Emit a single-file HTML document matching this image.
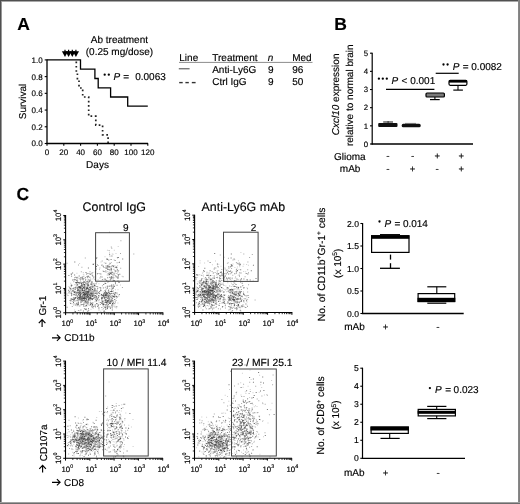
<!DOCTYPE html>
<html><head><meta charset="utf-8"><style>
html,body{margin:0;padding:0;background:#fff;}
svg{display:block;will-change:transform;}
text{font-family:"Liberation Sans",sans-serif;fill:#000;text-rendering:geometricPrecision;stroke:#000;stroke-width:0.15px;}
</style></head><body>
<svg width="520" height="504" viewBox="0 0 520 504">
<rect width="520" height="504" fill="#fff"/>
<text x="17.3" y="30.2" font-size="17.5" text-anchor="start" font-weight="bold">A</text>
<line x1="47" y1="59.4" x2="47" y2="144.1" stroke="#000" stroke-width="1.3" />
<line x1="46.4" y1="143.5" x2="148.10000000000002" y2="143.5" stroke="#000" stroke-width="1.3" />
<line x1="44.7" y1="59.9" x2="47" y2="59.9" stroke="#000" stroke-width="1.1" />
<text x="42.6" y="62.8" font-size="8" text-anchor="end" >1.0</text>
<line x1="44.7" y1="76.62" x2="47" y2="76.62" stroke="#000" stroke-width="1.1" />
<text x="42.6" y="79.52" font-size="8" text-anchor="end" >0.8</text>
<line x1="44.7" y1="93.34" x2="47" y2="93.34" stroke="#000" stroke-width="1.1" />
<text x="42.6" y="96.24" font-size="8" text-anchor="end" >0.6</text>
<line x1="44.7" y1="110.06" x2="47" y2="110.06" stroke="#000" stroke-width="1.1" />
<text x="42.6" y="112.96" font-size="8" text-anchor="end" >0.4</text>
<line x1="44.7" y1="126.78" x2="47" y2="126.78" stroke="#000" stroke-width="1.1" />
<text x="42.6" y="129.68" font-size="8" text-anchor="end" >0.2</text>
<line x1="44.7" y1="143.5" x2="47" y2="143.5" stroke="#000" stroke-width="1.1" />
<text x="42.6" y="146.4" font-size="8" text-anchor="end" >0.0</text>
<line x1="47.0" y1="143.5" x2="47.0" y2="145.7" stroke="#000" stroke-width="1.1" />
<text x="47.0" y="154.9" font-size="8" text-anchor="middle" >0</text>
<line x1="63.8" y1="143.5" x2="63.8" y2="145.7" stroke="#000" stroke-width="1.1" />
<text x="63.8" y="154.9" font-size="8" text-anchor="middle" >20</text>
<line x1="80.6" y1="143.5" x2="80.6" y2="145.7" stroke="#000" stroke-width="1.1" />
<text x="80.6" y="154.9" font-size="8" text-anchor="middle" >40</text>
<line x1="97.4" y1="143.5" x2="97.4" y2="145.7" stroke="#000" stroke-width="1.1" />
<text x="97.4" y="154.9" font-size="8" text-anchor="middle" >60</text>
<line x1="114.2" y1="143.5" x2="114.2" y2="145.7" stroke="#000" stroke-width="1.1" />
<text x="114.2" y="154.9" font-size="8" text-anchor="middle" >80</text>
<line x1="131.0" y1="143.5" x2="131.0" y2="145.7" stroke="#000" stroke-width="1.1" />
<text x="131.0" y="154.9" font-size="8" text-anchor="middle" >100</text>
<line x1="147.8" y1="143.5" x2="147.8" y2="145.7" stroke="#000" stroke-width="1.1" />
<text x="147.8" y="154.9" font-size="8" text-anchor="middle" >120</text>
<text x="97.5" y="167.5" font-size="10" text-anchor="middle" >Days</text>
<text x="0" y="0" font-size="10" text-anchor="middle" transform="translate(25.6,101.5) rotate(-90)">Survival</text>
<path d="M61.9,51.2 L68.1,51.2 L65,56.9 Z" fill="#000"/>
<line x1="65" y1="49.8" x2="65" y2="52" stroke="#000" stroke-width="1.2" />
<path d="M65.5,51.2 L71.69999999999999,51.2 L68.6,56.9 Z" fill="#000"/>
<line x1="68.6" y1="49.8" x2="68.6" y2="52" stroke="#000" stroke-width="1.2" />
<path d="M69.2,51.2 L75.39999999999999,51.2 L72.3,56.9 Z" fill="#000"/>
<line x1="72.3" y1="49.8" x2="72.3" y2="52" stroke="#000" stroke-width="1.2" />
<path d="M72.80000000000001,51.2 L79.0,51.2 L75.9,56.9 Z" fill="#000"/>
<line x1="75.9" y1="49.8" x2="75.9" y2="52" stroke="#000" stroke-width="1.2" />
<text x="119.4" y="43.1" font-size="10" text-anchor="middle" >Ab treatment</text>
<text x="119.4" y="55.0" font-size="10" text-anchor="middle" >(0.25 mg/dose)</text>
<path d="M47,59.9 H80.5 V69.2 H94.9 V78.5 H98.2 V87.8 H110.6 V97 H127.7 V106.2 H147.8" fill="none" stroke="#000" stroke-width="1.3"/>
<path d="M76.3,61.6 V71 H77.4 V79.5 H79 V88 H82.7 V97 H88.7 V116.2 H95.8 V125.2 H102.6 V134.8 H108.1 V143" fill="none" stroke="#222" stroke-width="1.7" stroke-dasharray="1.7 2.6"/>
<circle cx="104.7" cy="74.7" r="1.15" fill="#000"/>
<circle cx="108.8" cy="74.7" r="1.15" fill="#000"/>
<text x="113.6" y="80.2" font-size="10" text-anchor="start" font-style="italic">P</text>
<text x="123.2" y="80.2" font-size="10" text-anchor="start" >=</text>
<text x="135.2" y="80.2" font-size="10" text-anchor="start" >0.0063</text>
<text x="179.3" y="60.5" font-size="10" text-anchor="start" >Line</text>
<text x="212.3" y="60.5" font-size="10" text-anchor="start" >Treatment</text>
<text x="267.8" y="60.5" font-size="10" text-anchor="start" font-style="italic">n</text>
<text x="292.2" y="60.5" font-size="10" text-anchor="start" >Med</text>
<line x1="179" y1="62.4" x2="312.5" y2="62.4" stroke="#8c8c8c" stroke-width="1" />
<line x1="178.8" y1="68.8" x2="189.6" y2="68.8" stroke="#444" stroke-width="1" />
<text x="212.2" y="72.9" font-size="10" text-anchor="start" >Anti-Ly6G</text>
<text x="268.0" y="72.9" font-size="10" text-anchor="start" >9</text>
<text x="292.2" y="72.9" font-size="10" text-anchor="start" >96</text>
<line x1="179.2" y1="82.6" x2="182.7" y2="82.6" stroke="#333" stroke-width="1.4" />
<line x1="185.4" y1="82.6" x2="188.8" y2="82.6" stroke="#333" stroke-width="1.4" />
<line x1="191.8" y1="82.6" x2="195.6" y2="82.6" stroke="#333" stroke-width="1.4" />
<text x="212.2" y="84.8" font-size="10" text-anchor="start" >Ctrl IgG</text>
<text x="268.0" y="84.8" font-size="10" text-anchor="start" >9</text>
<text x="292.2" y="84.8" font-size="10" text-anchor="start" >50</text>
<text x="334.3" y="30.2" font-size="17.5" text-anchor="start" font-weight="bold">B</text>
<line x1="372.2" y1="52.7" x2="372.2" y2="144.6" stroke="#000" stroke-width="1.2" />
<line x1="371.59999999999997" y1="144.0" x2="473" y2="144.0" stroke="#000" stroke-width="1.3" />
<line x1="370.0" y1="53.2" x2="372.2" y2="53.2" stroke="#000" stroke-width="1.1" />
<text x="368.2" y="56.0" font-size="7.8" text-anchor="end" >5</text>
<line x1="370.0" y1="71.36" x2="372.2" y2="71.36" stroke="#000" stroke-width="1.1" />
<text x="368.2" y="74.16" font-size="7.8" text-anchor="end" >4</text>
<line x1="370.0" y1="89.52000000000001" x2="372.2" y2="89.52000000000001" stroke="#000" stroke-width="1.1" />
<text x="368.2" y="92.32" font-size="7.8" text-anchor="end" >3</text>
<line x1="370.0" y1="107.68" x2="372.2" y2="107.68" stroke="#000" stroke-width="1.1" />
<text x="368.2" y="110.48" font-size="7.8" text-anchor="end" >2</text>
<line x1="370.0" y1="125.84" x2="372.2" y2="125.84" stroke="#000" stroke-width="1.1" />
<text x="368.2" y="128.64" font-size="7.8" text-anchor="end" >1</text>
<line x1="370.0" y1="144.0" x2="372.2" y2="144.0" stroke="#000" stroke-width="1.1" />
<text x="368.2" y="146.8" font-size="7.8" text-anchor="end" >0</text>
<text x="0" y="0" font-size="10" text-anchor="middle" transform="translate(339.3,94.4) rotate(-90)"><tspan font-style="italic">Cxcl10</tspan> expression</text>
<text x="0" y="0" font-size="10" text-anchor="middle" transform="translate(352.8,95.2) rotate(-90)">relative to normal brain</text>
<rect x="383.2" y="121" width="9.8" height="2.4" fill="#8a8a8a"/>
<line x1="388.1" y1="121" x2="388.1" y2="123.2" stroke="#333" stroke-width="1" />
<rect x="378.2" y="123.1" width="19.3" height="3.9" rx="1" fill="#111"/>
<line x1="405" y1="123.4" x2="416" y2="123.4" stroke="#777" stroke-width="0.8" />
<rect x="401.7" y="123.8" width="19" height="3.4" rx="1.5" fill="#111"/>
<line x1="434.9" y1="97" x2="434.9" y2="99.6" stroke="#000" stroke-width="1.1" />
<line x1="430" y1="99.6" x2="439.7" y2="99.6" stroke="#000" stroke-width="1.2" />
<rect x="426" y="93" width="18.4" height="4" rx="1" fill="#7a7a7a" stroke="#000" stroke-width="1.2"/>
<line x1="458" y1="85.5" x2="458" y2="90.1" stroke="#000" stroke-width="1.1" />
<line x1="453.3" y1="90.1" x2="462.9" y2="90.1" stroke="#000" stroke-width="1.2" />
<rect x="449" y="80.3" width="17.9" height="5" rx="1.2" fill="#fff" stroke="#000" stroke-width="1.2"/>
<rect x="449" y="80" width="17.9" height="2.6" fill="#000"/>
<line x1="386" y1="89.4" x2="434.4" y2="89.4" stroke="#000" stroke-width="1.2" />
<line x1="435.7" y1="73.3" x2="458.7" y2="73.3" stroke="#000" stroke-width="1.2" />
<circle cx="378.9" cy="78.7" r="1.15" fill="#000"/>
<circle cx="382.8" cy="78.7" r="1.15" fill="#000"/>
<circle cx="386.8" cy="78.7" r="1.15" fill="#000"/>
<text x="391.6" y="84.1" font-size="10" text-anchor="start" font-style="italic">P</text>
<text x="401.6" y="84.1" font-size="10" text-anchor="start" >&lt;</text>
<text x="410.2" y="84.1" font-size="10" text-anchor="start" >0.001</text>
<circle cx="443.5" cy="64.5" r="1.15" fill="#000"/>
<circle cx="447.6" cy="64.5" r="1.15" fill="#000"/>
<text x="452.7" y="69.8" font-size="10" text-anchor="start" font-style="italic">P</text>
<text x="462.7" y="69.8" font-size="10" text-anchor="start" >=</text>
<text x="471.3" y="69.8" font-size="10" text-anchor="start" >0.0082</text>
<text x="334.0" y="159.6" font-size="10" text-anchor="start" >Glioma</text>
<text x="339.8" y="171.6" font-size="10" text-anchor="start" >mAb</text>
<text x="388" y="159.3" font-size="10" text-anchor="middle" >-</text>
<text x="412.6" y="159.3" font-size="10" text-anchor="middle" >-</text>
<text x="437.2" y="159.3" font-size="9.5" text-anchor="middle" >+</text>
<text x="461.2" y="159.3" font-size="9.5" text-anchor="middle" >+</text>
<text x="388" y="171.7" font-size="10" text-anchor="middle" >-</text>
<text x="412.6" y="171.7" font-size="9.5" text-anchor="middle" >+</text>
<text x="437.2" y="171.7" font-size="10" text-anchor="middle" >-</text>
<text x="461.2" y="171.7" font-size="9.5" text-anchor="middle" >+</text>
<text x="16.4" y="200.4" font-size="17.5" text-anchor="start" font-weight="bold">C</text>
<line x1="65.6" y1="215.08" x2="65.6" y2="313.3" stroke="#000" stroke-width="1.1" />
<line x1="65.1" y1="312.8" x2="163.32" y2="312.8" stroke="#000" stroke-width="1.1" />
<line x1="63.3" y1="312.8" x2="65.6" y2="312.8" stroke="#000" stroke-width="1" />
<line x1="65.6" y1="312.8" x2="65.6" y2="315.1" stroke="#000" stroke-width="1" />
<line x1="63.89999999999999" y1="305.47594020549536" x2="65.6" y2="305.47594020549536" stroke="#000" stroke-width="0.8" />
<line x1="72.92405979450466" y1="312.8" x2="72.92405979450466" y2="314.5" stroke="#000" stroke-width="0.8" />
<line x1="63.89999999999999" y1="301.19163987267063" x2="65.6" y2="301.19163987267063" stroke="#000" stroke-width="0.8" />
<line x1="77.20836012732939" y1="312.8" x2="77.20836012732939" y2="314.5" stroke="#000" stroke-width="0.8" />
<line x1="63.89999999999999" y1="298.1518804109907" x2="65.6" y2="298.1518804109907" stroke="#000" stroke-width="0.8" />
<line x1="80.24811958900932" y1="312.8" x2="80.24811958900932" y2="314.5" stroke="#000" stroke-width="0.8" />
<line x1="63.89999999999999" y1="295.7940597945047" x2="65.6" y2="295.7940597945047" stroke="#000" stroke-width="0.8" />
<line x1="82.60594020549533" y1="312.8" x2="82.60594020549533" y2="314.5" stroke="#000" stroke-width="0.8" />
<line x1="63.89999999999999" y1="293.867580078166" x2="65.6" y2="293.867580078166" stroke="#000" stroke-width="0.8" />
<line x1="84.53241992183405" y1="312.8" x2="84.53241992183405" y2="314.5" stroke="#000" stroke-width="0.8" />
<line x1="63.89999999999999" y1="292.2387646864531" x2="65.6" y2="292.2387646864531" stroke="#000" stroke-width="0.8" />
<line x1="86.16123531354685" y1="312.8" x2="86.16123531354685" y2="314.5" stroke="#000" stroke-width="0.8" />
<line x1="63.89999999999999" y1="290.827820616486" x2="65.6" y2="290.827820616486" stroke="#000" stroke-width="0.8" />
<line x1="87.57217938351398" y1="312.8" x2="87.57217938351398" y2="314.5" stroke="#000" stroke-width="0.8" />
<line x1="63.89999999999999" y1="289.58327974534126" x2="65.6" y2="289.58327974534126" stroke="#000" stroke-width="0.8" />
<line x1="88.81672025465876" y1="312.8" x2="88.81672025465876" y2="314.5" stroke="#000" stroke-width="0.8" />
<line x1="63.3" y1="288.47" x2="65.6" y2="288.47" stroke="#000" stroke-width="1" />
<line x1="89.92999999999999" y1="312.8" x2="89.92999999999999" y2="315.1" stroke="#000" stroke-width="1" />
<line x1="63.89999999999999" y1="281.1459402054954" x2="65.6" y2="281.1459402054954" stroke="#000" stroke-width="0.8" />
<line x1="97.25405979450466" y1="312.8" x2="97.25405979450466" y2="314.5" stroke="#000" stroke-width="0.8" />
<line x1="63.89999999999999" y1="276.86163987267065" x2="65.6" y2="276.86163987267065" stroke="#000" stroke-width="0.8" />
<line x1="101.53836012732938" y1="312.8" x2="101.53836012732938" y2="314.5" stroke="#000" stroke-width="0.8" />
<line x1="63.89999999999999" y1="273.82188041099073" x2="65.6" y2="273.82188041099073" stroke="#000" stroke-width="0.8" />
<line x1="104.57811958900932" y1="312.8" x2="104.57811958900932" y2="314.5" stroke="#000" stroke-width="0.8" />
<line x1="63.89999999999999" y1="271.4640597945047" x2="65.6" y2="271.4640597945047" stroke="#000" stroke-width="0.8" />
<line x1="106.93594020549533" y1="312.8" x2="106.93594020549533" y2="314.5" stroke="#000" stroke-width="0.8" />
<line x1="63.89999999999999" y1="269.537580078166" x2="65.6" y2="269.537580078166" stroke="#000" stroke-width="0.8" />
<line x1="108.86241992183403" y1="312.8" x2="108.86241992183403" y2="314.5" stroke="#000" stroke-width="0.8" />
<line x1="63.89999999999999" y1="267.90876468645314" x2="65.6" y2="267.90876468645314" stroke="#000" stroke-width="0.8" />
<line x1="110.49123531354687" y1="312.8" x2="110.49123531354687" y2="314.5" stroke="#000" stroke-width="0.8" />
<line x1="63.89999999999999" y1="266.497820616486" x2="65.6" y2="266.497820616486" stroke="#000" stroke-width="0.8" />
<line x1="111.90217938351398" y1="312.8" x2="111.90217938351398" y2="314.5" stroke="#000" stroke-width="0.8" />
<line x1="63.89999999999999" y1="265.2532797453413" x2="65.6" y2="265.2532797453413" stroke="#000" stroke-width="0.8" />
<line x1="113.14672025465876" y1="312.8" x2="113.14672025465876" y2="314.5" stroke="#000" stroke-width="0.8" />
<line x1="63.3" y1="264.14" x2="65.6" y2="264.14" stroke="#000" stroke-width="1" />
<line x1="114.25999999999999" y1="312.8" x2="114.25999999999999" y2="315.1" stroke="#000" stroke-width="1" />
<line x1="63.89999999999999" y1="256.81594020549534" x2="65.6" y2="256.81594020549534" stroke="#000" stroke-width="0.8" />
<line x1="121.58405979450465" y1="312.8" x2="121.58405979450465" y2="314.5" stroke="#000" stroke-width="0.8" />
<line x1="63.89999999999999" y1="252.5316398726706" x2="65.6" y2="252.5316398726706" stroke="#000" stroke-width="0.8" />
<line x1="125.86836012732938" y1="312.8" x2="125.86836012732938" y2="314.5" stroke="#000" stroke-width="0.8" />
<line x1="63.89999999999999" y1="249.49188041099066" x2="65.6" y2="249.49188041099066" stroke="#000" stroke-width="0.8" />
<line x1="128.90811958900932" y1="312.8" x2="128.90811958900932" y2="314.5" stroke="#000" stroke-width="0.8" />
<line x1="63.89999999999999" y1="247.13405979450465" x2="65.6" y2="247.13405979450465" stroke="#000" stroke-width="0.8" />
<line x1="131.26594020549533" y1="312.8" x2="131.26594020549533" y2="314.5" stroke="#000" stroke-width="0.8" />
<line x1="63.89999999999999" y1="245.20758007816593" x2="65.6" y2="245.20758007816593" stroke="#000" stroke-width="0.8" />
<line x1="133.19241992183404" y1="312.8" x2="133.19241992183404" y2="314.5" stroke="#000" stroke-width="0.8" />
<line x1="63.89999999999999" y1="243.57876468645313" x2="65.6" y2="243.57876468645313" stroke="#000" stroke-width="0.8" />
<line x1="134.82123531354685" y1="312.8" x2="134.82123531354685" y2="314.5" stroke="#000" stroke-width="0.8" />
<line x1="63.89999999999999" y1="242.167820616486" x2="65.6" y2="242.167820616486" stroke="#000" stroke-width="0.8" />
<line x1="136.23217938351397" y1="312.8" x2="136.23217938351397" y2="314.5" stroke="#000" stroke-width="0.8" />
<line x1="63.89999999999999" y1="240.9232797453412" x2="65.6" y2="240.9232797453412" stroke="#000" stroke-width="0.8" />
<line x1="137.47672025465877" y1="312.8" x2="137.47672025465877" y2="314.5" stroke="#000" stroke-width="0.8" />
<line x1="63.3" y1="239.81" x2="65.6" y2="239.81" stroke="#000" stroke-width="1" />
<line x1="138.58999999999997" y1="312.8" x2="138.58999999999997" y2="315.1" stroke="#000" stroke-width="1" />
<line x1="63.89999999999999" y1="232.48594020549535" x2="65.6" y2="232.48594020549535" stroke="#000" stroke-width="0.8" />
<line x1="145.91405979450462" y1="312.8" x2="145.91405979450462" y2="314.5" stroke="#000" stroke-width="0.8" />
<line x1="63.89999999999999" y1="228.20163987267063" x2="65.6" y2="228.20163987267063" stroke="#000" stroke-width="0.8" />
<line x1="150.19836012732935" y1="312.8" x2="150.19836012732935" y2="314.5" stroke="#000" stroke-width="0.8" />
<line x1="63.89999999999999" y1="225.16188041099068" x2="65.6" y2="225.16188041099068" stroke="#000" stroke-width="0.8" />
<line x1="153.2381195890093" y1="312.8" x2="153.2381195890093" y2="314.5" stroke="#000" stroke-width="0.8" />
<line x1="63.89999999999999" y1="222.80405979450467" x2="65.6" y2="222.80405979450467" stroke="#000" stroke-width="0.8" />
<line x1="155.5959402054953" y1="312.8" x2="155.5959402054953" y2="314.5" stroke="#000" stroke-width="0.8" />
<line x1="63.89999999999999" y1="220.87758007816595" x2="65.6" y2="220.87758007816595" stroke="#000" stroke-width="0.8" />
<line x1="157.52241992183403" y1="312.8" x2="157.52241992183403" y2="314.5" stroke="#000" stroke-width="0.8" />
<line x1="63.89999999999999" y1="219.24876468645314" x2="65.6" y2="219.24876468645314" stroke="#000" stroke-width="0.8" />
<line x1="159.15123531354683" y1="312.8" x2="159.15123531354683" y2="314.5" stroke="#000" stroke-width="0.8" />
<line x1="63.89999999999999" y1="217.83782061648603" x2="65.6" y2="217.83782061648603" stroke="#000" stroke-width="0.8" />
<line x1="160.56217938351395" y1="312.8" x2="160.56217938351395" y2="314.5" stroke="#000" stroke-width="0.8" />
<line x1="63.89999999999999" y1="216.59327974534122" x2="65.6" y2="216.59327974534122" stroke="#000" stroke-width="0.8" />
<line x1="161.80672025465876" y1="312.8" x2="161.80672025465876" y2="314.5" stroke="#000" stroke-width="0.8" />
<line x1="63.3" y1="215.48000000000002" x2="65.6" y2="215.48000000000002" stroke="#000" stroke-width="1" />
<line x1="162.92" y1="312.8" x2="162.92" y2="315.1" stroke="#000" stroke-width="1" />
<text x="0" y="0" font-size="7.8" text-anchor="middle" transform="translate(60.8,312.8) rotate(-90)">10<tspan font-size="5.3" dy="-3.4">0</tspan></text>
<text x="67.40" y="326.2" font-size="7.8" text-anchor="middle">10<tspan font-size="5.3" dy="-3.4">0</tspan></text>
<text x="0" y="0" font-size="7.8" text-anchor="middle" transform="translate(60.8,288.47) rotate(-90)">10<tspan font-size="5.3" dy="-3.4">1</tspan></text>
<text x="91.40" y="326.2" font-size="7.8" text-anchor="middle">10<tspan font-size="5.3" dy="-3.4">1</tspan></text>
<text x="0" y="0" font-size="7.8" text-anchor="middle" transform="translate(60.8,264.14) rotate(-90)">10<tspan font-size="5.3" dy="-3.4">2</tspan></text>
<text x="115.40" y="326.2" font-size="7.8" text-anchor="middle">10<tspan font-size="5.3" dy="-3.4">2</tspan></text>
<text x="0" y="0" font-size="7.8" text-anchor="middle" transform="translate(60.8,239.81) rotate(-90)">10<tspan font-size="5.3" dy="-3.4">3</tspan></text>
<text x="139.40" y="326.2" font-size="7.8" text-anchor="middle">10<tspan font-size="5.3" dy="-3.4">3</tspan></text>
<text x="0" y="0" font-size="7.8" text-anchor="middle" transform="translate(60.8,215.48000000000002) rotate(-90)">10<tspan font-size="5.3" dy="-3.4">4</tspan></text>
<text x="163.40" y="326.2" font-size="7.8" text-anchor="middle">10<tspan font-size="5.3" dy="-3.4">4</tspan></text>
<path d="M77.5 290.9h1v1h-1zM86.8 293.9h1v1h-1zM69.9 290.1h1v1h-1zM88.7 299.6h1v1h-1zM84.8 282.8h1v1h-1zM88.3 287.9h1v1h-1zM76.2 299.8h1v1h-1zM91.7 293.7h1v1h-1zM95.2 297.1h1v1h-1zM87.6 296.6h1v1h-1zM90.7 296.5h1v1h-1zM89.9 278.9h1v1h-1zM92.8 283.0h1v1h-1zM83.9 299.4h1v1h-1zM86.0 288.6h1v1h-1zM81.6 297.2h1v1h-1zM85.2 301.5h1v1h-1zM76.8 281.5h1v1h-1zM92.9 298.1h1v1h-1zM94.3 285.5h1v1h-1zM90.9 291.2h1v1h-1zM83.3 288.0h1v1h-1zM94.5 284.8h1v1h-1zM94.2 291.1h1v1h-1zM78.8 300.1h1v1h-1zM67.9 289.6h1v1h-1zM83.9 298.7h1v1h-1zM70.9 284.4h1v1h-1zM75.4 292.4h1v1h-1zM87.7 300.0h1v1h-1zM77.7 286.7h1v1h-1zM68.4 285.9h1v1h-1zM87.2 276.9h1v1h-1zM81.9 289.0h1v1h-1zM97.6 279.3h1v1h-1zM77.5 297.7h1v1h-1zM83.8 291.0h1v1h-1zM95.8 295.7h1v1h-1zM70.4 300.2h1v1h-1zM86.3 287.2h1v1h-1zM86.0 293.9h1v1h-1zM98.8 300.3h1v1h-1zM78.9 291.6h1v1h-1zM81.7 298.4h1v1h-1zM84.0 293.8h1v1h-1zM83.1 283.1h1v1h-1zM86.9 300.4h1v1h-1zM76.4 272.8h1v1h-1zM94.4 297.8h1v1h-1zM90.9 292.5h1v1h-1zM89.5 292.7h1v1h-1zM85.4 292.9h1v1h-1zM80.9 277.4h1v1h-1zM88.0 292.1h1v1h-1zM96.8 296.4h1v1h-1zM91.7 285.9h1v1h-1zM88.4 297.8h1v1h-1zM94.5 301.2h1v1h-1zM83.4 287.5h1v1h-1zM82.8 272.1h1v1h-1zM82.2 290.1h1v1h-1zM83.7 286.1h1v1h-1zM89.1 294.7h1v1h-1zM81.4 286.9h1v1h-1zM87.7 289.4h1v1h-1zM89.4 299.6h1v1h-1zM87.6 291.3h1v1h-1zM87.6 284.4h1v1h-1zM92.3 284.9h1v1h-1zM82.4 292.6h1v1h-1zM92.1 292.7h1v1h-1zM88.1 297.8h1v1h-1zM78.6 305.6h1v1h-1zM93.9 287.2h1v1h-1zM79.1 297.9h1v1h-1zM94.7 301.0h1v1h-1zM73.5 280.3h1v1h-1zM83.6 290.2h1v1h-1zM84.2 281.7h1v1h-1zM77.7 293.7h1v1h-1zM89.4 291.6h1v1h-1zM80.7 287.2h1v1h-1zM103.6 278.5h1v1h-1zM74.1 292.3h1v1h-1zM77.9 297.3h1v1h-1zM71.6 303.3h1v1h-1zM90.3 279.4h1v1h-1zM89.2 291.5h1v1h-1zM87.1 295.2h1v1h-1zM76.9 283.7h1v1h-1zM80.2 296.0h1v1h-1zM84.5 298.1h1v1h-1zM73.5 292.6h1v1h-1zM76.1 277.7h1v1h-1zM87.3 280.7h1v1h-1zM89.9 291.3h1v1h-1zM79.2 310.2h1v1h-1zM85.2 300.2h1v1h-1zM89.7 289.7h1v1h-1zM90.5 308.7h1v1h-1zM84.0 290.6h1v1h-1zM80.5 286.2h1v1h-1zM82.8 299.4h1v1h-1zM87.5 291.4h1v1h-1zM88.7 291.4h1v1h-1zM75.9 303.4h1v1h-1zM73.0 304.6h1v1h-1zM86.3 299.2h1v1h-1zM86.5 293.1h1v1h-1zM83.7 276.5h1v1h-1zM92.6 287.2h1v1h-1zM84.8 301.0h1v1h-1zM100.7 287.5h1v1h-1zM76.6 296.2h1v1h-1zM87.7 280.9h1v1h-1zM79.1 288.3h1v1h-1zM81.2 298.9h1v1h-1zM84.6 289.5h1v1h-1zM87.8 304.4h1v1h-1zM92.7 294.5h1v1h-1zM76.4 284.8h1v1h-1zM83.8 278.0h1v1h-1zM87.2 287.2h1v1h-1zM77.8 289.5h1v1h-1zM83.7 287.5h1v1h-1zM78.5 289.4h1v1h-1zM92.4 278.5h1v1h-1zM89.1 286.4h1v1h-1zM83.2 305.5h1v1h-1zM76.0 286.6h1v1h-1zM87.0 296.4h1v1h-1zM90.2 293.0h1v1h-1zM86.5 283.4h1v1h-1zM89.6 302.4h1v1h-1zM79.2 295.8h1v1h-1zM80.5 301.5h1v1h-1zM99.5 273.4h1v1h-1zM71.9 301.1h1v1h-1zM80.0 293.6h1v1h-1zM74.3 279.8h1v1h-1zM78.3 298.9h1v1h-1zM90.2 274.1h1v1h-1zM90.2 289.2h1v1h-1zM85.9 288.5h1v1h-1zM85.1 287.3h1v1h-1zM92.7 295.0h1v1h-1zM84.1 290.4h1v1h-1zM85.8 289.3h1v1h-1zM75.9 297.3h1v1h-1zM93.6 294.0h1v1h-1zM79.7 293.7h1v1h-1zM80.7 293.1h1v1h-1zM90.3 296.9h1v1h-1zM82.0 292.4h1v1h-1zM81.7 292.3h1v1h-1zM77.2 292.3h1v1h-1zM87.6 290.2h1v1h-1zM88.5 288.9h1v1h-1zM85.6 288.7h1v1h-1zM85.4 298.2h1v1h-1zM77.6 278.1h1v1h-1zM79.7 287.1h1v1h-1zM90.2 285.7h1v1h-1zM85.6 286.9h1v1h-1zM93.2 291.9h1v1h-1zM76.4 302.3h1v1h-1zM86.3 287.3h1v1h-1zM87.9 293.4h1v1h-1zM83.2 291.2h1v1h-1zM78.3 286.5h1v1h-1zM84.2 296.8h1v1h-1zM92.4 283.0h1v1h-1zM94.0 293.3h1v1h-1zM84.1 308.7h1v1h-1zM79.7 295.6h1v1h-1zM95.4 297.2h1v1h-1zM92.8 293.2h1v1h-1zM87.6 291.0h1v1h-1zM87.0 302.3h1v1h-1zM86.3 280.9h1v1h-1zM83.6 284.3h1v1h-1zM84.5 296.0h1v1h-1zM79.4 278.9h1v1h-1zM83.0 303.2h1v1h-1zM83.4 274.5h1v1h-1zM83.8 285.8h1v1h-1zM88.6 287.9h1v1h-1zM70.9 295.2h1v1h-1zM79.5 278.5h1v1h-1zM73.6 297.1h1v1h-1zM78.6 289.7h1v1h-1zM86.3 302.7h1v1h-1zM81.8 295.9h1v1h-1zM80.3 280.9h1v1h-1zM92.6 296.5h1v1h-1zM75.6 303.0h1v1h-1zM90.2 278.2h1v1h-1zM98.4 283.3h1v1h-1zM80.1 288.0h1v1h-1zM80.9 299.6h1v1h-1zM89.3 293.3h1v1h-1zM92.1 290.5h1v1h-1zM89.8 284.1h1v1h-1zM91.1 294.0h1v1h-1zM86.0 290.0h1v1h-1zM85.8 288.4h1v1h-1zM88.7 292.5h1v1h-1zM71.5 293.2h1v1h-1zM87.3 300.5h1v1h-1zM76.4 304.1h1v1h-1zM81.4 284.1h1v1h-1zM80.0 280.0h1v1h-1zM86.3 290.5h1v1h-1zM85.2 291.4h1v1h-1zM84.8 300.8h1v1h-1zM72.5 290.0h1v1h-1zM84.2 281.7h1v1h-1zM80.4 297.9h1v1h-1zM85.4 282.7h1v1h-1zM89.5 298.4h1v1h-1zM86.1 298.4h1v1h-1zM80.1 278.7h1v1h-1zM86.3 296.1h1v1h-1zM84.1 299.2h1v1h-1zM98.4 304.0h1v1h-1zM89.5 296.9h1v1h-1zM83.2 284.5h1v1h-1zM74.0 300.4h1v1h-1zM90.0 300.4h1v1h-1zM74.5 299.4h1v1h-1zM73.6 286.9h1v1h-1zM85.6 281.0h1v1h-1zM86.2 280.9h1v1h-1zM88.2 302.5h1v1h-1zM91.9 289.2h1v1h-1zM69.6 302.2h1v1h-1zM86.4 305.7h1v1h-1zM80.2 295.8h1v1h-1zM87.6 282.6h1v1h-1zM75.2 294.4h1v1h-1zM78.0 301.0h1v1h-1zM87.3 286.4h1v1h-1zM83.0 298.0h1v1h-1zM101.2 293.8h1v1h-1zM81.0 287.8h1v1h-1zM87.2 278.6h1v1h-1zM78.8 290.5h1v1h-1zM84.4 296.6h1v1h-1zM77.2 280.1h1v1h-1zM77.5 284.4h1v1h-1zM93.4 294.3h1v1h-1zM82.1 282.2h1v1h-1zM72.1 290.4h1v1h-1zM76.1 297.0h1v1h-1zM81.2 302.0h1v1h-1zM75.9 282.7h1v1h-1zM94.9 295.5h1v1h-1zM88.5 292.7h1v1h-1zM77.3 281.4h1v1h-1zM82.0 287.8h1v1h-1zM84.3 289.0h1v1h-1zM84.8 294.4h1v1h-1zM87.4 293.4h1v1h-1zM87.4 283.4h1v1h-1zM70.2 282.8h1v1h-1zM91.9 291.5h1v1h-1zM81.2 294.3h1v1h-1zM81.0 288.4h1v1h-1zM84.7 293.6h1v1h-1zM79.1 263.0h1v1h-1zM77.3 304.0h1v1h-1zM68.7 292.8h1v1h-1zM93.3 263.0h1v1h-1zM81.3 290.2h1v1h-1zM89.6 305.0h1v1h-1zM71.0 274.8h1v1h-1zM94.0 276.4h1v1h-1zM73.1 294.3h1v1h-1zM96.2 296.5h1v1h-1zM85.5 279.2h1v1h-1zM81.8 285.7h1v1h-1zM116.8 293.7h1v1h-1zM101.7 279.2h1v1h-1zM83.9 289.3h1v1h-1zM83.4 301.5h1v1h-1zM77.8 288.3h1v1h-1zM85.8 282.8h1v1h-1zM83.2 284.3h1v1h-1zM99.4 267.3h1v1h-1zM92.5 271.9h1v1h-1zM74.4 289.2h1v1h-1zM79.8 281.2h1v1h-1zM84.7 290.0h1v1h-1zM88.9 293.9h1v1h-1zM74.1 309.6h1v1h-1zM109.0 285.7h1v1h-1zM86.0 285.7h1v1h-1zM90.6 281.6h1v1h-1zM85.2 290.2h1v1h-1zM82.8 273.8h1v1h-1zM90.0 279.2h1v1h-1zM79.6 291.3h1v1h-1zM73.8 297.7h1v1h-1zM96.3 282.0h1v1h-1zM102.1 294.3h1v1h-1zM110.0 298.9h1v1h-1zM101.6 298.3h1v1h-1zM98.1 307.4h1v1h-1zM108.3 292.2h1v1h-1zM94.5 305.2h1v1h-1zM107.5 304.8h1v1h-1zM105.6 297.5h1v1h-1zM110.2 298.5h1v1h-1zM105.0 294.0h1v1h-1zM104.7 297.2h1v1h-1zM106.1 304.4h1v1h-1zM103.2 293.2h1v1h-1zM106.1 302.5h1v1h-1zM112.2 298.5h1v1h-1zM102.1 295.4h1v1h-1zM108.5 300.0h1v1h-1zM99.9 301.9h1v1h-1zM103.0 305.8h1v1h-1zM109.2 288.0h1v1h-1zM109.7 296.3h1v1h-1zM107.8 297.6h1v1h-1zM94.7 298.2h1v1h-1zM109.6 285.1h1v1h-1zM102.2 300.1h1v1h-1zM102.1 298.0h1v1h-1zM109.1 298.1h1v1h-1zM103.3 304.8h1v1h-1zM100.3 310.7h1v1h-1zM111.4 301.7h1v1h-1zM101.0 301.3h1v1h-1zM98.5 295.7h1v1h-1zM105.1 297.8h1v1h-1zM113.5 291.9h1v1h-1zM111.5 293.6h1v1h-1zM109.8 302.5h1v1h-1zM102.8 291.6h1v1h-1zM111.8 298.1h1v1h-1zM90.7 293.6h1v1h-1zM102.9 295.0h1v1h-1zM110.0 300.3h1v1h-1zM100.6 290.3h1v1h-1zM102.8 300.0h1v1h-1zM117.4 302.6h1v1h-1zM101.0 301.3h1v1h-1zM97.4 288.1h1v1h-1zM95.3 298.4h1v1h-1zM107.7 304.5h1v1h-1zM106.8 293.5h1v1h-1zM111.6 297.0h1v1h-1zM114.2 306.5h1v1h-1zM109.0 303.0h1v1h-1zM98.6 302.3h1v1h-1zM102.7 306.3h1v1h-1zM105.0 301.6h1v1h-1zM106.4 309.1h1v1h-1zM103.7 303.9h1v1h-1zM113.1 305.4h1v1h-1zM106.5 304.5h1v1h-1zM114.9 289.3h1v1h-1zM114.9 299.8h1v1h-1zM105.1 292.8h1v1h-1zM110.2 293.0h1v1h-1zM115.8 307.5h1v1h-1zM109.2 301.7h1v1h-1zM111.7 299.4h1v1h-1zM107.4 298.2h1v1h-1zM114.3 305.4h1v1h-1zM107.5 295.2h1v1h-1zM107.4 285.8h1v1h-1zM112.5 295.7h1v1h-1zM114.5 296.2h1v1h-1zM107.8 302.8h1v1h-1zM102.1 297.3h1v1h-1zM104.3 310.9h1v1h-1zM111.1 306.4h1v1h-1zM110.6 301.5h1v1h-1zM111.3 300.0h1v1h-1zM110.0 307.6h1v1h-1zM108.2 298.4h1v1h-1zM112.0 302.8h1v1h-1zM104.5 299.7h1v1h-1zM116.0 299.9h1v1h-1zM111.8 307.9h1v1h-1zM111.5 288.6h1v1h-1zM117.5 289.2h1v1h-1zM109.8 302.6h1v1h-1zM105.7 296.7h1v1h-1zM106.4 294.4h1v1h-1zM95.1 304.0h1v1h-1zM108.7 299.0h1v1h-1zM106.0 307.4h1v1h-1zM102.3 297.4h1v1h-1zM104.7 303.9h1v1h-1zM110.0 295.8h1v1h-1zM106.0 304.7h1v1h-1zM105.0 304.5h1v1h-1zM105.0 293.6h1v1h-1zM101.7 309.3h1v1h-1zM110.7 298.7h1v1h-1zM105.1 291.6h1v1h-1zM102.2 302.0h1v1h-1zM102.9 295.4h1v1h-1zM112.4 292.8h1v1h-1zM115.1 306.4h1v1h-1zM102.2 265.5h1v1h-1zM107.9 273.3h1v1h-1zM111.0 268.0h1v1h-1zM109.0 264.1h1v1h-1zM114.3 277.3h1v1h-1zM109.4 254.7h1v1h-1zM120.0 284.6h1v1h-1zM112.6 279.1h1v1h-1zM114.3 265.1h1v1h-1zM111.4 272.7h1v1h-1zM108.3 273.4h1v1h-1zM99.3 267.8h1v1h-1zM111.0 269.9h1v1h-1zM114.7 284.2h1v1h-1zM108.1 264.6h1v1h-1zM107.3 271.1h1v1h-1zM113.6 266.9h1v1h-1zM114.9 275.7h1v1h-1zM109.1 270.0h1v1h-1zM113.0 277.9h1v1h-1zM106.6 274.4h1v1h-1zM109.6 279.1h1v1h-1zM110.0 280.1h1v1h-1zM111.9 271.9h1v1h-1zM117.1 265.2h1v1h-1zM107.6 274.8h1v1h-1zM113.6 259.3h1v1h-1zM118.2 270.1h1v1h-1zM110.1 263.3h1v1h-1zM103.2 287.3h1v1h-1zM108.8 273.9h1v1h-1zM121.6 275.7h1v1h-1zM104.8 271.8h1v1h-1zM109.0 276.5h1v1h-1zM100.5 274.3h1v1h-1zM114.1 269.4h1v1h-1zM108.7 269.3h1v1h-1zM113.1 280.1h1v1h-1zM116.1 266.4h1v1h-1zM113.9 270.4h1v1h-1zM108.3 265.3h1v1h-1zM115.8 275.7h1v1h-1zM109.6 271.5h1v1h-1zM103.8 262.2h1v1h-1zM112.2 275.2h1v1h-1zM106.5 266.6h1v1h-1zM110.3 266.2h1v1h-1zM111.3 266.0h1v1h-1zM112.6 253.7h1v1h-1zM106.2 271.7h1v1h-1zM110.6 268.6h1v1h-1zM112.5 275.6h1v1h-1zM109.5 256.0h1v1h-1zM111.2 273.1h1v1h-1zM111.2 266.8h1v1h-1zM116.9 272.7h1v1h-1zM107.2 265.7h1v1h-1zM117.8 277.7h1v1h-1zM111.0 261.9h1v1h-1zM112.0 280.6h1v1h-1zM116.6 284.7h1v1h-1zM113.5 268.5h1v1h-1zM99.0 269.1h1v1h-1zM100.5 261.6h1v1h-1zM104.4 278.6h1v1h-1zM112.8 269.0h1v1h-1zM115.5 253.1h1v1h-1zM113.8 249.7h1v1h-1zM106.9 249.8h1v1h-1zM109.0 251.8h1v1h-1zM106.2 266.9h1v1h-1zM117.7 245.9h1v1h-1zM116.0 273.0h1v1h-1zM111.8 253.4h1v1h-1zM104.5 256.3h1v1h-1z" fill="#000" fill-opacity="0.2"/>
<path d="M82.2 296.3h1v1h-1zM82.4 290.1h1v1h-1zM91.8 295.7h1v1h-1zM87.5 296.2h1v1h-1zM77.8 289.0h1v1h-1zM87.6 287.7h1v1h-1zM79.4 305.4h1v1h-1zM81.6 291.7h1v1h-1zM88.4 294.4h1v1h-1zM80.9 285.3h1v1h-1zM80.4 301.7h1v1h-1zM87.0 281.3h1v1h-1zM84.3 302.3h1v1h-1zM83.3 286.4h1v1h-1zM87.5 292.0h1v1h-1zM73.7 298.7h1v1h-1zM93.0 277.3h1v1h-1zM86.5 287.0h1v1h-1zM82.7 300.1h1v1h-1zM86.3 297.4h1v1h-1zM91.3 292.7h1v1h-1zM74.3 291.5h1v1h-1zM83.0 290.3h1v1h-1zM78.5 297.2h1v1h-1zM85.1 296.8h1v1h-1zM88.0 292.5h1v1h-1zM81.0 289.7h1v1h-1zM76.1 294.3h1v1h-1zM86.8 294.3h1v1h-1zM101.0 295.2h1v1h-1zM82.4 292.0h1v1h-1zM72.1 289.8h1v1h-1zM89.6 293.6h1v1h-1zM83.4 304.0h1v1h-1zM91.3 290.3h1v1h-1zM90.4 290.5h1v1h-1zM73.3 281.2h1v1h-1zM89.4 304.4h1v1h-1zM86.8 295.6h1v1h-1zM94.0 290.5h1v1h-1zM84.6 302.4h1v1h-1zM83.6 300.3h1v1h-1zM94.4 304.6h1v1h-1zM79.3 299.1h1v1h-1zM70.3 300.5h1v1h-1zM79.9 294.3h1v1h-1zM96.5 292.8h1v1h-1zM82.6 283.1h1v1h-1zM80.1 300.6h1v1h-1zM85.2 283.7h1v1h-1zM73.1 287.7h1v1h-1zM73.3 291.6h1v1h-1zM75.7 295.2h1v1h-1zM67.5 295.0h1v1h-1zM79.5 277.9h1v1h-1zM86.0 289.1h1v1h-1zM88.7 294.9h1v1h-1zM97.2 291.6h1v1h-1zM87.9 299.3h1v1h-1zM90.2 293.3h1v1h-1zM102.7 301.0h1v1h-1zM88.5 273.1h1v1h-1zM88.4 296.1h1v1h-1zM74.2 287.5h1v1h-1zM75.6 282.4h1v1h-1zM77.9 294.5h1v1h-1zM68.9 286.9h1v1h-1zM83.6 296.4h1v1h-1zM87.2 295.3h1v1h-1zM88.5 294.1h1v1h-1zM83.2 293.7h1v1h-1zM87.0 291.1h1v1h-1zM87.1 285.3h1v1h-1zM77.5 298.0h1v1h-1zM81.3 282.2h1v1h-1zM78.7 296.4h1v1h-1zM87.5 293.8h1v1h-1zM95.6 299.8h1v1h-1zM91.2 284.4h1v1h-1zM83.0 298.0h1v1h-1zM92.7 290.9h1v1h-1zM81.6 299.1h1v1h-1zM75.8 293.9h1v1h-1zM84.0 281.5h1v1h-1zM82.4 281.9h1v1h-1zM82.7 278.9h1v1h-1zM89.5 299.5h1v1h-1zM70.7 292.1h1v1h-1zM71.2 284.5h1v1h-1zM79.6 282.0h1v1h-1zM83.4 292.5h1v1h-1zM87.4 280.6h1v1h-1zM82.6 290.2h1v1h-1zM83.6 286.8h1v1h-1zM88.9 295.2h1v1h-1zM77.1 292.8h1v1h-1zM73.5 294.0h1v1h-1zM85.0 282.2h1v1h-1zM76.2 291.6h1v1h-1zM91.7 293.4h1v1h-1zM78.7 294.4h1v1h-1zM88.2 310.0h1v1h-1zM86.3 302.1h1v1h-1zM78.3 294.4h1v1h-1zM85.9 289.3h1v1h-1zM79.3 298.6h1v1h-1zM83.7 294.8h1v1h-1zM71.8 305.9h1v1h-1zM92.2 289.1h1v1h-1zM83.5 294.8h1v1h-1zM87.3 290.8h1v1h-1zM86.1 296.4h1v1h-1zM79.1 292.6h1v1h-1zM80.3 293.8h1v1h-1zM85.1 295.6h1v1h-1zM82.3 295.2h1v1h-1zM70.8 285.9h1v1h-1zM76.7 297.2h1v1h-1zM89.2 294.8h1v1h-1zM87.2 288.5h1v1h-1zM83.3 298.1h1v1h-1zM97.0 288.3h1v1h-1zM85.0 291.4h1v1h-1zM90.3 287.3h1v1h-1zM83.9 292.4h1v1h-1zM76.8 282.3h1v1h-1zM75.5 295.0h1v1h-1zM85.7 309.3h1v1h-1zM86.0 294.4h1v1h-1zM74.9 291.0h1v1h-1zM83.2 291.9h1v1h-1zM83.5 294.0h1v1h-1zM84.3 294.5h1v1h-1zM82.1 288.0h1v1h-1zM79.3 292.3h1v1h-1zM86.2 287.6h1v1h-1zM86.1 305.0h1v1h-1zM85.4 294.4h1v1h-1zM90.5 295.3h1v1h-1zM81.4 266.7h1v1h-1zM79.6 297.3h1v1h-1zM91.6 295.1h1v1h-1zM88.7 289.7h1v1h-1zM95.7 292.8h1v1h-1zM89.3 280.9h1v1h-1zM84.0 295.2h1v1h-1zM99.5 277.6h1v1h-1zM90.8 297.5h1v1h-1zM84.7 300.3h1v1h-1zM84.1 298.1h1v1h-1zM92.3 305.3h1v1h-1zM78.9 292.2h1v1h-1zM89.7 294.1h1v1h-1zM87.3 295.8h1v1h-1zM93.1 290.8h1v1h-1zM85.4 299.5h1v1h-1zM83.7 302.6h1v1h-1zM81.3 288.4h1v1h-1zM82.2 297.2h1v1h-1zM77.9 309.9h1v1h-1zM81.0 296.3h1v1h-1zM83.3 287.5h1v1h-1zM72.5 298.9h1v1h-1zM92.8 293.4h1v1h-1zM85.2 296.2h1v1h-1zM101.9 285.3h1v1h-1zM81.7 292.8h1v1h-1zM92.0 286.6h1v1h-1zM72.8 300.7h1v1h-1zM86.1 288.3h1v1h-1zM85.4 299.9h1v1h-1zM76.8 287.0h1v1h-1zM79.8 287.9h1v1h-1zM76.9 295.1h1v1h-1zM89.1 298.2h1v1h-1zM82.7 279.6h1v1h-1zM87.6 291.3h1v1h-1zM98.5 273.0h1v1h-1zM82.6 278.8h1v1h-1zM66.5 293.5h1v1h-1zM87.9 275.7h1v1h-1zM84.2 288.1h1v1h-1zM68.3 292.3h1v1h-1zM92.7 307.4h1v1h-1zM101.4 306.9h1v1h-1zM79.2 287.0h1v1h-1zM71.1 275.9h1v1h-1zM78.4 287.2h1v1h-1zM87.4 296.5h1v1h-1zM90.6 292.6h1v1h-1zM94.9 305.7h1v1h-1zM79.5 295.9h1v1h-1zM79.4 286.1h1v1h-1zM94.5 287.8h1v1h-1zM92.3 295.0h1v1h-1zM74.0 292.0h1v1h-1zM85.7 288.2h1v1h-1zM97.5 293.1h1v1h-1zM83.8 284.1h1v1h-1zM76.9 289.8h1v1h-1zM86.0 283.6h1v1h-1zM88.8 291.4h1v1h-1zM84.9 291.6h1v1h-1zM97.6 300.2h1v1h-1zM96.9 298.6h1v1h-1zM87.7 295.7h1v1h-1zM85.4 293.8h1v1h-1zM86.6 294.5h1v1h-1zM92.1 292.7h1v1h-1zM91.7 299.3h1v1h-1zM94.8 298.9h1v1h-1zM79.4 287.4h1v1h-1zM85.5 298.1h1v1h-1zM90.7 287.4h1v1h-1zM73.5 303.2h1v1h-1zM87.9 288.8h1v1h-1zM81.9 296.8h1v1h-1zM96.4 291.1h1v1h-1zM87.3 302.6h1v1h-1zM82.6 293.8h1v1h-1zM79.6 295.1h1v1h-1zM81.5 277.3h1v1h-1zM80.2 302.2h1v1h-1zM80.4 288.4h1v1h-1zM76.7 277.1h1v1h-1zM85.2 285.2h1v1h-1zM90.5 303.6h1v1h-1zM73.2 289.5h1v1h-1zM86.6 303.5h1v1h-1zM74.7 300.5h1v1h-1zM82.9 300.0h1v1h-1zM92.3 301.9h1v1h-1zM78.3 293.7h1v1h-1zM87.3 287.7h1v1h-1zM81.4 300.6h1v1h-1zM80.4 286.5h1v1h-1zM94.2 285.2h1v1h-1zM92.4 303.4h1v1h-1zM83.2 291.5h1v1h-1zM81.7 296.0h1v1h-1zM74.5 284.3h1v1h-1zM76.7 278.7h1v1h-1zM87.5 303.4h1v1h-1zM72.7 290.1h1v1h-1zM81.6 292.6h1v1h-1zM80.2 293.4h1v1h-1zM75.8 293.0h1v1h-1zM97.4 293.1h1v1h-1zM75.2 294.4h1v1h-1zM78.8 298.0h1v1h-1zM77.3 276.7h1v1h-1zM74.4 311.1h1v1h-1zM76.0 291.9h1v1h-1zM76.6 305.2h1v1h-1zM78.7 298.8h1v1h-1zM85.8 300.3h1v1h-1zM87.3 285.8h1v1h-1zM78.4 292.4h1v1h-1zM92.4 287.6h1v1h-1zM92.1 287.0h1v1h-1zM76.7 285.5h1v1h-1zM80.9 283.0h1v1h-1zM80.1 285.3h1v1h-1zM86.4 276.1h1v1h-1zM89.4 280.7h1v1h-1zM79.0 290.3h1v1h-1zM81.6 299.9h1v1h-1zM80.9 299.7h1v1h-1zM90.6 288.5h1v1h-1zM94.6 292.8h1v1h-1zM84.9 293.5h1v1h-1zM83.5 287.7h1v1h-1zM85.8 281.5h1v1h-1zM95.0 306.6h1v1h-1zM74.3 297.6h1v1h-1zM76.2 276.9h1v1h-1zM69.4 299.9h1v1h-1zM102.1 278.9h1v1h-1zM75.6 281.9h1v1h-1zM111.6 298.1h1v1h-1zM78.0 264.5h1v1h-1zM87.2 276.8h1v1h-1zM92.4 263.7h1v1h-1zM76.1 281.8h1v1h-1zM95.8 268.5h1v1h-1zM83.5 306.0h1v1h-1zM87.2 273.1h1v1h-1zM101.0 297.4h1v1h-1zM74.8 297.7h1v1h-1zM86.0 288.9h1v1h-1zM94.6 285.8h1v1h-1zM75.7 279.7h1v1h-1zM95.9 258.0h1v1h-1zM75.0 279.0h1v1h-1zM66.5 262.8h1v1h-1zM117.3 278.1h1v1h-1zM83.6 297.2h1v1h-1zM84.8 257.6h1v1h-1zM79.9 276.9h1v1h-1zM91.7 292.5h1v1h-1zM77.4 286.9h1v1h-1zM84.4 292.7h1v1h-1zM108.6 292.2h1v1h-1zM104.7 301.8h1v1h-1zM80.8 271.2h1v1h-1zM90.3 298.1h1v1h-1zM105.9 294.9h1v1h-1zM80.3 278.8h1v1h-1zM75.1 287.4h1v1h-1zM91.4 291.7h1v1h-1zM87.0 283.5h1v1h-1zM82.6 276.1h1v1h-1zM84.4 286.6h1v1h-1zM90.6 273.2h1v1h-1zM88.6 297.8h1v1h-1zM92.0 304.6h1v1h-1zM82.3 278.3h1v1h-1zM88.1 288.5h1v1h-1zM74.0 277.2h1v1h-1zM82.9 294.1h1v1h-1zM70.9 273.8h1v1h-1zM89.5 271.3h1v1h-1zM87.7 275.9h1v1h-1zM82.1 286.1h1v1h-1zM92.1 306.8h1v1h-1zM97.3 286.4h1v1h-1zM96.6 299.1h1v1h-1zM104.7 295.1h1v1h-1zM70.5 284.8h1v1h-1zM81.8 285.4h1v1h-1zM91.7 284.3h1v1h-1zM83.9 308.1h1v1h-1zM81.7 278.5h1v1h-1zM106.8 295.1h1v1h-1zM112.9 290.4h1v1h-1zM111.4 304.8h1v1h-1zM107.4 294.1h1v1h-1zM103.5 302.4h1v1h-1zM110.8 291.3h1v1h-1zM113.2 300.6h1v1h-1zM104.3 293.4h1v1h-1zM105.8 293.3h1v1h-1zM96.5 294.1h1v1h-1zM102.2 297.1h1v1h-1zM111.4 296.4h1v1h-1zM105.0 306.8h1v1h-1zM112.4 304.0h1v1h-1zM113.3 295.9h1v1h-1zM106.9 305.2h1v1h-1zM100.9 294.0h1v1h-1zM101.4 300.0h1v1h-1zM108.6 305.7h1v1h-1zM109.9 294.3h1v1h-1zM115.4 295.3h1v1h-1zM110.1 302.9h1v1h-1zM106.9 287.3h1v1h-1zM103.7 294.0h1v1h-1zM104.2 301.8h1v1h-1zM109.7 285.7h1v1h-1zM111.4 295.2h1v1h-1zM110.8 296.9h1v1h-1zM101.5 297.1h1v1h-1zM104.8 290.9h1v1h-1zM102.3 302.9h1v1h-1zM112.1 297.9h1v1h-1zM114.0 280.1h1v1h-1zM101.6 297.4h1v1h-1zM106.5 296.6h1v1h-1zM100.0 304.0h1v1h-1zM111.1 290.8h1v1h-1zM107.6 294.9h1v1h-1zM98.3 296.3h1v1h-1zM108.2 298.4h1v1h-1zM106.5 292.1h1v1h-1zM109.4 302.5h1v1h-1zM107.5 299.9h1v1h-1zM98.7 299.1h1v1h-1zM107.6 302.0h1v1h-1zM105.5 301.2h1v1h-1zM102.7 296.6h1v1h-1zM107.6 299.7h1v1h-1zM105.2 292.9h1v1h-1zM108.8 295.1h1v1h-1zM98.5 309.5h1v1h-1zM105.0 299.0h1v1h-1zM112.9 292.9h1v1h-1zM109.3 295.6h1v1h-1zM102.0 304.3h1v1h-1zM103.6 295.7h1v1h-1zM112.5 303.3h1v1h-1zM107.0 300.3h1v1h-1zM114.8 291.9h1v1h-1zM110.2 301.9h1v1h-1zM105.3 295.0h1v1h-1zM105.9 304.0h1v1h-1zM106.7 293.1h1v1h-1zM105.8 291.9h1v1h-1zM107.1 300.8h1v1h-1zM109.9 296.5h1v1h-1zM104.9 286.7h1v1h-1zM104.7 300.3h1v1h-1zM106.5 301.3h1v1h-1zM105.5 288.7h1v1h-1zM102.9 308.3h1v1h-1zM99.4 294.7h1v1h-1zM108.5 285.8h1v1h-1zM105.3 301.4h1v1h-1zM105.2 299.0h1v1h-1zM105.0 304.5h1v1h-1zM105.5 301.0h1v1h-1zM115.8 297.5h1v1h-1zM114.4 303.2h1v1h-1zM113.9 297.0h1v1h-1zM99.4 287.1h1v1h-1zM107.6 301.6h1v1h-1zM109.7 293.4h1v1h-1zM110.3 306.5h1v1h-1zM109.5 292.9h1v1h-1zM101.1 307.0h1v1h-1zM110.8 288.8h1v1h-1zM101.6 298.3h1v1h-1zM108.7 291.3h1v1h-1zM102.8 287.5h1v1h-1zM118.3 295.4h1v1h-1zM116.5 284.8h1v1h-1zM104.4 290.0h1v1h-1zM105.6 306.1h1v1h-1zM113.8 302.9h1v1h-1zM102.9 304.2h1v1h-1zM107.5 300.9h1v1h-1zM103.8 297.0h1v1h-1zM100.3 273.3h1v1h-1zM117.4 271.5h1v1h-1zM110.8 269.3h1v1h-1zM120.2 267.8h1v1h-1zM105.4 279.6h1v1h-1zM110.2 269.4h1v1h-1zM101.0 264.8h1v1h-1zM118.1 281.7h1v1h-1zM115.8 266.5h1v1h-1zM112.9 286.3h1v1h-1zM113.5 273.5h1v1h-1zM108.4 266.1h1v1h-1zM96.9 264.2h1v1h-1zM101.7 264.4h1v1h-1zM115.1 275.3h1v1h-1zM110.7 276.5h1v1h-1zM107.5 273.2h1v1h-1zM101.7 260.6h1v1h-1zM108.3 267.2h1v1h-1zM107.2 264.9h1v1h-1zM112.4 271.9h1v1h-1zM103.4 267.1h1v1h-1zM97.6 265.0h1v1h-1zM111.0 272.3h1v1h-1zM102.6 270.5h1v1h-1zM111.3 265.4h1v1h-1zM114.4 272.4h1v1h-1zM113.4 273.1h1v1h-1zM115.4 270.7h1v1h-1zM117.1 276.8h1v1h-1zM100.1 276.3h1v1h-1zM117.8 270.6h1v1h-1zM113.3 286.0h1v1h-1zM110.1 272.8h1v1h-1zM121.9 287.0h1v1h-1zM122.6 276.2h1v1h-1zM110.8 246.4h1v1h-1zM103.6 267.0h1v1h-1zM109.0 231.8h1v1h-1zM113.2 265.9h1v1h-1zM111.3 247.7h1v1h-1zM133.3 253.4h1v1h-1zM116.6 262.3h1v1h-1zM108.6 250.0h1v1h-1zM107.0 258.4h1v1h-1zM120.4 240.2h1v1h-1zM120.0 252.9h1v1h-1z" fill="#000" fill-opacity="0.35"/>
<path d="M91.3 294.4h1v1h-1zM72.3 298.9h1v1h-1zM72.2 279.4h1v1h-1zM86.1 292.2h1v1h-1zM86.2 295.5h1v1h-1zM87.9 301.5h1v1h-1zM79.7 287.0h1v1h-1zM78.3 294.3h1v1h-1zM94.1 295.2h1v1h-1zM80.8 283.0h1v1h-1zM77.2 288.5h1v1h-1zM73.8 294.3h1v1h-1zM94.1 296.8h1v1h-1zM70.7 273.6h1v1h-1zM85.7 295.8h1v1h-1zM73.0 302.1h1v1h-1zM70.2 287.7h1v1h-1zM74.8 304.6h1v1h-1zM87.9 291.4h1v1h-1zM84.8 301.1h1v1h-1zM79.4 289.4h1v1h-1zM77.8 299.6h1v1h-1zM94.3 289.2h1v1h-1zM93.8 284.8h1v1h-1zM91.9 298.9h1v1h-1zM86.4 293.6h1v1h-1zM82.8 294.6h1v1h-1zM89.3 296.7h1v1h-1zM98.1 294.9h1v1h-1zM81.6 295.4h1v1h-1zM96.9 273.3h1v1h-1zM81.0 297.4h1v1h-1zM80.1 291.8h1v1h-1zM91.1 283.7h1v1h-1zM83.5 299.7h1v1h-1zM90.0 303.7h1v1h-1zM91.6 272.4h1v1h-1zM91.6 281.6h1v1h-1zM88.8 281.3h1v1h-1zM83.0 293.9h1v1h-1zM103.2 283.9h1v1h-1zM84.9 297.8h1v1h-1zM85.6 297.3h1v1h-1zM88.3 285.3h1v1h-1zM84.0 283.9h1v1h-1zM77.8 304.2h1v1h-1zM70.2 303.0h1v1h-1zM92.0 303.7h1v1h-1zM84.8 293.4h1v1h-1zM71.0 298.6h1v1h-1zM86.2 287.9h1v1h-1zM82.7 292.3h1v1h-1zM72.5 288.0h1v1h-1zM91.1 298.4h1v1h-1zM84.1 298.5h1v1h-1zM90.5 288.3h1v1h-1zM89.1 290.4h1v1h-1zM89.5 298.1h1v1h-1zM93.3 297.4h1v1h-1zM90.3 302.3h1v1h-1zM87.3 310.7h1v1h-1zM77.7 291.8h1v1h-1zM86.0 298.7h1v1h-1zM76.9 289.8h1v1h-1zM78.0 286.2h1v1h-1zM83.5 296.4h1v1h-1zM93.3 306.1h1v1h-1zM81.2 285.2h1v1h-1zM95.9 299.9h1v1h-1zM96.7 298.6h1v1h-1zM84.3 286.3h1v1h-1zM79.6 292.5h1v1h-1zM70.7 292.9h1v1h-1zM76.7 304.3h1v1h-1zM83.9 297.0h1v1h-1zM81.9 300.5h1v1h-1zM88.2 299.3h1v1h-1zM86.5 301.0h1v1h-1zM90.0 296.5h1v1h-1zM82.3 297.6h1v1h-1zM76.6 287.8h1v1h-1zM79.2 296.8h1v1h-1zM88.4 279.3h1v1h-1zM84.2 294.4h1v1h-1zM74.8 288.7h1v1h-1zM76.6 284.4h1v1h-1zM75.3 292.3h1v1h-1zM87.2 297.1h1v1h-1zM83.0 292.0h1v1h-1zM78.9 282.3h1v1h-1zM80.6 293.3h1v1h-1zM100.3 290.1h1v1h-1zM91.8 274.7h1v1h-1zM85.7 308.4h1v1h-1zM95.7 292.6h1v1h-1zM88.7 288.9h1v1h-1zM93.3 292.4h1v1h-1zM80.4 309.6h1v1h-1zM84.0 298.4h1v1h-1zM79.5 292.2h1v1h-1zM93.6 283.4h1v1h-1zM83.2 284.3h1v1h-1zM80.6 304.2h1v1h-1zM77.4 289.9h1v1h-1zM88.0 308.2h1v1h-1zM84.4 298.3h1v1h-1zM84.0 284.8h1v1h-1zM79.5 297.3h1v1h-1zM87.6 291.7h1v1h-1zM94.8 294.9h1v1h-1zM73.5 290.9h1v1h-1zM94.4 288.2h1v1h-1zM95.8 295.7h1v1h-1zM80.4 287.4h1v1h-1zM87.7 296.6h1v1h-1zM81.5 300.4h1v1h-1zM93.7 289.7h1v1h-1zM89.9 286.8h1v1h-1zM94.6 289.6h1v1h-1zM79.3 295.3h1v1h-1zM80.2 299.2h1v1h-1zM79.5 292.6h1v1h-1zM75.3 276.7h1v1h-1zM88.2 298.5h1v1h-1zM95.6 283.2h1v1h-1zM84.3 293.0h1v1h-1zM87.3 285.3h1v1h-1zM85.4 291.4h1v1h-1zM73.2 299.8h1v1h-1zM84.2 290.4h1v1h-1zM81.0 297.6h1v1h-1zM93.4 289.8h1v1h-1zM83.2 304.4h1v1h-1zM81.7 298.0h1v1h-1zM85.5 291.9h1v1h-1zM80.0 296.2h1v1h-1zM88.0 290.4h1v1h-1zM75.0 311.2h1v1h-1zM83.7 295.6h1v1h-1zM82.1 284.6h1v1h-1zM82.2 289.2h1v1h-1zM66.6 306.7h1v1h-1zM87.7 282.3h1v1h-1zM87.2 292.3h1v1h-1zM71.2 294.7h1v1h-1zM90.1 289.4h1v1h-1zM87.1 291.3h1v1h-1zM82.1 288.2h1v1h-1zM87.0 293.8h1v1h-1zM77.0 298.3h1v1h-1zM82.0 290.0h1v1h-1zM79.5 298.6h1v1h-1zM99.1 293.1h1v1h-1zM92.3 298.1h1v1h-1zM87.5 297.4h1v1h-1zM68.2 290.2h1v1h-1zM90.3 298.0h1v1h-1zM77.2 291.7h1v1h-1zM87.8 296.4h1v1h-1zM81.7 276.7h1v1h-1zM74.8 297.4h1v1h-1zM78.9 292.9h1v1h-1zM85.0 279.5h1v1h-1zM82.1 290.2h1v1h-1zM90.0 295.3h1v1h-1zM77.9 292.3h1v1h-1zM88.3 293.6h1v1h-1zM90.0 304.0h1v1h-1zM90.5 298.6h1v1h-1zM71.3 285.0h1v1h-1zM79.9 294.2h1v1h-1zM83.9 290.1h1v1h-1zM75.1 286.8h1v1h-1zM83.8 292.9h1v1h-1zM69.2 291.2h1v1h-1zM89.2 296.9h1v1h-1zM85.5 302.3h1v1h-1zM80.0 289.8h1v1h-1zM92.2 298.6h1v1h-1zM78.0 289.8h1v1h-1zM81.8 298.4h1v1h-1zM98.0 297.2h1v1h-1zM84.2 294.6h1v1h-1zM78.0 303.2h1v1h-1zM82.7 286.8h1v1h-1zM83.7 298.0h1v1h-1zM85.0 308.8h1v1h-1zM76.7 284.1h1v1h-1zM74.1 274.5h1v1h-1zM85.0 293.9h1v1h-1zM96.6 303.2h1v1h-1zM86.0 292.9h1v1h-1zM80.5 282.6h1v1h-1zM91.4 281.3h1v1h-1zM75.3 282.0h1v1h-1zM84.2 287.4h1v1h-1zM81.7 304.1h1v1h-1zM79.8 297.4h1v1h-1zM72.9 297.5h1v1h-1zM77.8 302.1h1v1h-1zM79.2 291.3h1v1h-1zM85.5 271.9h1v1h-1zM82.9 310.5h1v1h-1zM83.0 297.6h1v1h-1zM78.3 296.9h1v1h-1zM91.5 304.5h1v1h-1zM78.0 282.0h1v1h-1zM87.6 299.6h1v1h-1zM79.9 291.9h1v1h-1zM95.2 290.6h1v1h-1zM87.7 295.7h1v1h-1zM81.1 284.2h1v1h-1zM78.7 286.3h1v1h-1zM90.2 288.2h1v1h-1zM90.3 283.4h1v1h-1zM79.1 286.1h1v1h-1zM90.0 297.0h1v1h-1zM77.2 296.3h1v1h-1zM78.8 287.2h1v1h-1zM92.5 294.7h1v1h-1zM91.4 298.3h1v1h-1zM74.0 291.7h1v1h-1zM88.0 284.5h1v1h-1zM98.5 307.6h1v1h-1zM82.5 294.5h1v1h-1zM91.3 293.2h1v1h-1zM74.5 298.1h1v1h-1zM80.7 297.2h1v1h-1zM85.8 304.7h1v1h-1zM92.0 289.1h1v1h-1zM89.4 280.0h1v1h-1zM80.5 291.3h1v1h-1zM80.2 296.5h1v1h-1zM80.0 294.7h1v1h-1zM95.2 292.7h1v1h-1zM75.0 297.1h1v1h-1zM96.4 286.1h1v1h-1zM96.3 297.4h1v1h-1zM87.1 295.0h1v1h-1zM85.2 305.4h1v1h-1zM94.2 285.0h1v1h-1zM91.3 306.2h1v1h-1zM70.6 298.3h1v1h-1zM70.5 288.8h1v1h-1zM86.7 291.8h1v1h-1zM85.5 291.3h1v1h-1zM86.7 287.0h1v1h-1zM77.0 281.5h1v1h-1zM81.0 298.2h1v1h-1zM90.6 286.3h1v1h-1zM89.6 294.4h1v1h-1zM80.3 286.5h1v1h-1zM73.7 278.9h1v1h-1zM92.5 295.8h1v1h-1zM90.9 293.2h1v1h-1zM97.2 306.0h1v1h-1zM96.0 300.5h1v1h-1zM83.0 287.0h1v1h-1zM95.5 296.5h1v1h-1zM83.4 281.0h1v1h-1zM72.1 272.4h1v1h-1zM83.7 284.2h1v1h-1zM99.9 287.6h1v1h-1zM80.2 286.4h1v1h-1zM96.1 302.9h1v1h-1zM73.7 299.1h1v1h-1zM76.6 300.2h1v1h-1zM104.5 282.8h1v1h-1zM76.4 279.9h1v1h-1zM72.1 298.8h1v1h-1zM92.6 286.1h1v1h-1zM71.1 293.5h1v1h-1zM104.1 292.0h1v1h-1zM74.3 261.6h1v1h-1zM91.3 282.4h1v1h-1zM76.7 287.8h1v1h-1zM85.1 277.3h1v1h-1zM69.5 288.3h1v1h-1zM86.7 293.3h1v1h-1zM91.2 302.9h1v1h-1zM92.5 275.7h1v1h-1zM76.2 282.2h1v1h-1zM86.1 273.6h1v1h-1zM86.1 293.2h1v1h-1zM87.1 287.9h1v1h-1zM87.4 283.7h1v1h-1zM104.3 306.8h1v1h-1zM78.7 275.5h1v1h-1zM84.5 289.3h1v1h-1zM103.5 271.1h1v1h-1zM87.9 267.6h1v1h-1zM89.8 288.3h1v1h-1zM68.4 275.0h1v1h-1zM83.8 292.2h1v1h-1zM82.5 278.3h1v1h-1zM91.6 296.1h1v1h-1zM89.6 273.7h1v1h-1zM97.7 305.2h1v1h-1zM82.8 298.3h1v1h-1zM89.3 276.8h1v1h-1zM107.0 307.9h1v1h-1zM83.6 294.0h1v1h-1zM87.5 275.7h1v1h-1zM78.6 283.2h1v1h-1zM83.3 282.0h1v1h-1zM96.0 265.9h1v1h-1zM94.6 278.7h1v1h-1zM71.5 290.8h1v1h-1zM92.9 264.0h1v1h-1zM76.5 303.1h1v1h-1zM70.5 299.6h1v1h-1zM86.1 291.1h1v1h-1zM88.9 287.0h1v1h-1zM114.2 299.0h1v1h-1zM107.0 301.3h1v1h-1zM105.2 300.0h1v1h-1zM99.2 291.0h1v1h-1zM112.9 284.4h1v1h-1zM107.8 303.9h1v1h-1zM111.2 284.5h1v1h-1zM111.4 286.4h1v1h-1zM118.8 294.0h1v1h-1zM102.1 301.1h1v1h-1zM116.0 295.9h1v1h-1zM114.0 294.4h1v1h-1zM111.3 285.4h1v1h-1zM108.5 296.9h1v1h-1zM104.8 294.6h1v1h-1zM109.4 300.4h1v1h-1zM106.6 302.7h1v1h-1zM112.9 302.3h1v1h-1zM111.2 290.5h1v1h-1zM109.9 307.8h1v1h-1zM102.6 303.8h1v1h-1zM105.1 308.7h1v1h-1zM111.2 292.9h1v1h-1zM112.1 300.4h1v1h-1zM110.3 300.9h1v1h-1zM100.2 289.5h1v1h-1zM110.1 290.9h1v1h-1zM107.8 290.6h1v1h-1zM108.2 289.4h1v1h-1zM102.8 295.0h1v1h-1zM106.8 292.7h1v1h-1zM102.6 303.2h1v1h-1zM109.2 303.1h1v1h-1zM111.5 304.7h1v1h-1zM105.6 296.6h1v1h-1zM112.8 287.7h1v1h-1zM97.7 304.4h1v1h-1zM102.1 295.0h1v1h-1zM115.1 292.6h1v1h-1zM90.1 292.4h1v1h-1zM105.5 292.1h1v1h-1zM98.3 292.0h1v1h-1zM113.1 296.3h1v1h-1zM109.6 303.0h1v1h-1zM116.8 296.4h1v1h-1zM108.7 301.8h1v1h-1zM104.8 307.3h1v1h-1zM105.9 294.3h1v1h-1zM101.2 298.1h1v1h-1zM106.8 307.3h1v1h-1zM109.6 300.6h1v1h-1zM108.1 292.3h1v1h-1zM116.3 306.2h1v1h-1zM103.5 295.0h1v1h-1zM96.5 289.8h1v1h-1zM116.4 292.6h1v1h-1zM103.3 310.8h1v1h-1zM109.2 292.9h1v1h-1zM103.8 310.4h1v1h-1zM105.2 296.8h1v1h-1zM106.0 299.4h1v1h-1zM105.3 301.9h1v1h-1zM111.9 306.4h1v1h-1zM110.8 300.8h1v1h-1zM108.5 294.4h1v1h-1zM103.9 297.9h1v1h-1zM106.5 293.1h1v1h-1zM104.8 295.2h1v1h-1zM101.3 297.3h1v1h-1zM105.9 299.8h1v1h-1zM111.8 309.4h1v1h-1zM104.3 306.6h1v1h-1zM106.2 302.3h1v1h-1zM101.2 303.0h1v1h-1zM106.3 293.3h1v1h-1zM106.7 287.8h1v1h-1zM108.9 298.5h1v1h-1zM105.5 294.9h1v1h-1zM111.0 290.9h1v1h-1zM100.5 301.9h1v1h-1zM111.9 288.3h1v1h-1zM107.2 299.9h1v1h-1zM111.7 290.9h1v1h-1zM111.1 299.4h1v1h-1zM114.4 293.8h1v1h-1zM106.8 285.8h1v1h-1zM103.7 292.9h1v1h-1zM114.8 301.4h1v1h-1zM102.1 301.4h1v1h-1zM107.6 296.1h1v1h-1zM107.1 306.2h1v1h-1zM103.9 296.7h1v1h-1zM111.9 300.2h1v1h-1zM111.8 295.6h1v1h-1zM111.5 304.5h1v1h-1zM103.0 293.8h1v1h-1zM106.9 297.8h1v1h-1zM113.8 293.5h1v1h-1zM105.3 294.0h1v1h-1zM114.0 285.7h1v1h-1zM106.0 301.7h1v1h-1zM103.2 304.0h1v1h-1zM107.6 299.9h1v1h-1zM101.1 294.3h1v1h-1zM104.5 299.6h1v1h-1zM107.4 297.5h1v1h-1zM112.8 287.2h1v1h-1zM103.2 295.7h1v1h-1zM108.2 300.6h1v1h-1zM114.3 295.9h1v1h-1zM108.2 295.9h1v1h-1zM113.0 295.8h1v1h-1zM109.9 300.7h1v1h-1zM101.2 298.6h1v1h-1zM108.5 306.4h1v1h-1zM112.0 303.1h1v1h-1zM105.8 296.6h1v1h-1zM108.7 272.4h1v1h-1zM110.6 268.2h1v1h-1zM119.3 273.7h1v1h-1zM118.8 281.8h1v1h-1zM110.9 278.2h1v1h-1zM117.9 274.7h1v1h-1zM111.6 277.4h1v1h-1zM116.4 267.3h1v1h-1zM115.4 266.8h1v1h-1zM115.0 282.7h1v1h-1zM106.2 258.6h1v1h-1zM108.5 269.0h1v1h-1zM108.6 266.3h1v1h-1zM113.3 280.3h1v1h-1zM108.4 280.8h1v1h-1zM115.3 267.1h1v1h-1zM106.8 258.9h1v1h-1zM111.4 271.4h1v1h-1zM108.8 274.2h1v1h-1zM103.4 271.0h1v1h-1zM117.7 274.1h1v1h-1zM109.9 272.5h1v1h-1zM94.9 271.5h1v1h-1zM105.3 262.7h1v1h-1zM107.4 281.4h1v1h-1zM107.1 265.7h1v1h-1zM105.2 267.6h1v1h-1zM105.3 270.6h1v1h-1zM106.3 267.7h1v1h-1zM111.5 274.0h1v1h-1zM109.5 262.7h1v1h-1zM115.1 270.6h1v1h-1zM116.9 269.3h1v1h-1zM113.5 274.5h1v1h-1zM96.3 257.3h1v1h-1zM104.6 278.8h1v1h-1zM116.3 276.6h1v1h-1zM110.4 272.9h1v1h-1zM112.7 276.8h1v1h-1zM109.4 266.6h1v1h-1zM109.1 253.7h1v1h-1zM114.6 259.9h1v1h-1zM108.9 274.1h1v1h-1zM106.3 280.1h1v1h-1zM117.9 276.5h1v1h-1zM107.2 277.3h1v1h-1zM107.0 267.4h1v1h-1zM116.8 269.6h1v1h-1zM109.3 273.8h1v1h-1zM110.8 268.7h1v1h-1zM112.8 265.7h1v1h-1zM102.9 265.7h1v1h-1zM108.3 259.6h1v1h-1zM116.5 276.4h1v1h-1zM107.2 269.0h1v1h-1zM112.4 265.0h1v1h-1zM105.2 282.9h1v1h-1zM117.5 280.6h1v1h-1zM101.5 276.5h1v1h-1zM111.2 276.8h1v1h-1zM110.0 278.6h1v1h-1zM110.9 276.2h1v1h-1zM105.2 290.6h1v1h-1zM110.6 258.9h1v1h-1zM109.5 277.1h1v1h-1zM114.9 281.6h1v1h-1zM105.6 265.6h1v1h-1zM122.2 258.6h1v1h-1zM118.7 261.9h1v1h-1zM117.9 257.1h1v1h-1zM116.9 257.2h1v1h-1zM118.9 261.8h1v1h-1zM111.4 255.6h1v1h-1z" fill="#000" fill-opacity="0.54"/>
<rect x="95.6" y="232.7" width="33.80000000000001" height="48.5" fill="none" stroke="#444" stroke-width="1"/>
<text x="123.0" y="230.9" font-size="10" text-anchor="start" >9</text>
<line x1="194.6" y1="214.78" x2="194.6" y2="313.0" stroke="#000" stroke-width="1.1" />
<line x1="194.1" y1="312.5" x2="292.31999999999994" y2="312.5" stroke="#000" stroke-width="1.1" />
<line x1="192.29999999999998" y1="312.5" x2="194.6" y2="312.5" stroke="#000" stroke-width="1" />
<line x1="194.6" y1="312.5" x2="194.6" y2="314.8" stroke="#000" stroke-width="1" />
<line x1="192.9" y1="305.17594020549535" x2="194.6" y2="305.17594020549535" stroke="#000" stroke-width="0.8" />
<line x1="201.92405979450464" y1="312.5" x2="201.92405979450464" y2="314.2" stroke="#000" stroke-width="0.8" />
<line x1="192.9" y1="300.8916398726706" x2="194.6" y2="300.8916398726706" stroke="#000" stroke-width="0.8" />
<line x1="206.20836012732937" y1="312.5" x2="206.20836012732937" y2="314.2" stroke="#000" stroke-width="0.8" />
<line x1="192.9" y1="297.8518804109907" x2="194.6" y2="297.8518804109907" stroke="#000" stroke-width="0.8" />
<line x1="209.24811958900932" y1="312.5" x2="209.24811958900932" y2="314.2" stroke="#000" stroke-width="0.8" />
<line x1="192.9" y1="295.49405979450466" x2="194.6" y2="295.49405979450466" stroke="#000" stroke-width="0.8" />
<line x1="211.60594020549533" y1="312.5" x2="211.60594020549533" y2="314.2" stroke="#000" stroke-width="0.8" />
<line x1="192.9" y1="293.567580078166" x2="194.6" y2="293.567580078166" stroke="#000" stroke-width="0.8" />
<line x1="213.53241992183405" y1="312.5" x2="213.53241992183405" y2="314.2" stroke="#000" stroke-width="0.8" />
<line x1="192.9" y1="291.9387646864531" x2="194.6" y2="291.9387646864531" stroke="#000" stroke-width="0.8" />
<line x1="215.16123531354685" y1="312.5" x2="215.16123531354685" y2="314.2" stroke="#000" stroke-width="0.8" />
<line x1="192.9" y1="290.527820616486" x2="194.6" y2="290.527820616486" stroke="#000" stroke-width="0.8" />
<line x1="216.57217938351397" y1="312.5" x2="216.57217938351397" y2="314.2" stroke="#000" stroke-width="0.8" />
<line x1="192.9" y1="289.28327974534125" x2="194.6" y2="289.28327974534125" stroke="#000" stroke-width="0.8" />
<line x1="217.81672025465878" y1="312.5" x2="217.81672025465878" y2="314.2" stroke="#000" stroke-width="0.8" />
<line x1="192.29999999999998" y1="288.17" x2="194.6" y2="288.17" stroke="#000" stroke-width="1" />
<line x1="218.93" y1="312.5" x2="218.93" y2="314.8" stroke="#000" stroke-width="1" />
<line x1="192.9" y1="280.84594020549537" x2="194.6" y2="280.84594020549537" stroke="#000" stroke-width="0.8" />
<line x1="226.25405979450466" y1="312.5" x2="226.25405979450466" y2="314.2" stroke="#000" stroke-width="0.8" />
<line x1="192.9" y1="276.56163987267064" x2="194.6" y2="276.56163987267064" stroke="#000" stroke-width="0.8" />
<line x1="230.53836012732938" y1="312.5" x2="230.53836012732938" y2="314.2" stroke="#000" stroke-width="0.8" />
<line x1="192.9" y1="273.5218804109907" x2="194.6" y2="273.5218804109907" stroke="#000" stroke-width="0.8" />
<line x1="233.57811958900933" y1="312.5" x2="233.57811958900933" y2="314.2" stroke="#000" stroke-width="0.8" />
<line x1="192.9" y1="271.1640597945047" x2="194.6" y2="271.1640597945047" stroke="#000" stroke-width="0.8" />
<line x1="235.93594020549534" y1="312.5" x2="235.93594020549534" y2="314.2" stroke="#000" stroke-width="0.8" />
<line x1="192.9" y1="269.237580078166" x2="194.6" y2="269.237580078166" stroke="#000" stroke-width="0.8" />
<line x1="237.86241992183406" y1="312.5" x2="237.86241992183406" y2="314.2" stroke="#000" stroke-width="0.8" />
<line x1="192.9" y1="267.6087646864531" x2="194.6" y2="267.6087646864531" stroke="#000" stroke-width="0.8" />
<line x1="239.49123531354687" y1="312.5" x2="239.49123531354687" y2="314.2" stroke="#000" stroke-width="0.8" />
<line x1="192.9" y1="266.197820616486" x2="194.6" y2="266.197820616486" stroke="#000" stroke-width="0.8" />
<line x1="240.90217938351398" y1="312.5" x2="240.90217938351398" y2="314.2" stroke="#000" stroke-width="0.8" />
<line x1="192.9" y1="264.95327974534126" x2="194.6" y2="264.95327974534126" stroke="#000" stroke-width="0.8" />
<line x1="242.1467202546588" y1="312.5" x2="242.1467202546588" y2="314.2" stroke="#000" stroke-width="0.8" />
<line x1="192.29999999999998" y1="263.84000000000003" x2="194.6" y2="263.84000000000003" stroke="#000" stroke-width="1" />
<line x1="243.26" y1="312.5" x2="243.26" y2="314.8" stroke="#000" stroke-width="1" />
<line x1="192.9" y1="256.5159402054954" x2="194.6" y2="256.5159402054954" stroke="#000" stroke-width="0.8" />
<line x1="250.58405979450464" y1="312.5" x2="250.58405979450464" y2="314.2" stroke="#000" stroke-width="0.8" />
<line x1="192.9" y1="252.23163987267066" x2="194.6" y2="252.23163987267066" stroke="#000" stroke-width="0.8" />
<line x1="254.86836012732937" y1="312.5" x2="254.86836012732937" y2="314.2" stroke="#000" stroke-width="0.8" />
<line x1="192.9" y1="249.1918804109907" x2="194.6" y2="249.1918804109907" stroke="#000" stroke-width="0.8" />
<line x1="257.9081195890093" y1="312.5" x2="257.9081195890093" y2="314.2" stroke="#000" stroke-width="0.8" />
<line x1="192.9" y1="246.8340597945047" x2="194.6" y2="246.8340597945047" stroke="#000" stroke-width="0.8" />
<line x1="260.2659402054953" y1="312.5" x2="260.2659402054953" y2="314.2" stroke="#000" stroke-width="0.8" />
<line x1="192.9" y1="244.90758007816598" x2="194.6" y2="244.90758007816598" stroke="#000" stroke-width="0.8" />
<line x1="262.192419921834" y1="312.5" x2="262.192419921834" y2="314.2" stroke="#000" stroke-width="0.8" />
<line x1="192.9" y1="243.27876468645317" x2="194.6" y2="243.27876468645317" stroke="#000" stroke-width="0.8" />
<line x1="263.8212353135469" y1="312.5" x2="263.8212353135469" y2="314.2" stroke="#000" stroke-width="0.8" />
<line x1="192.9" y1="241.86782061648606" x2="194.6" y2="241.86782061648606" stroke="#000" stroke-width="0.8" />
<line x1="265.232179383514" y1="312.5" x2="265.232179383514" y2="314.2" stroke="#000" stroke-width="0.8" />
<line x1="192.9" y1="240.62327974534125" x2="194.6" y2="240.62327974534125" stroke="#000" stroke-width="0.8" />
<line x1="266.47672025465874" y1="312.5" x2="266.47672025465874" y2="314.2" stroke="#000" stroke-width="0.8" />
<line x1="192.29999999999998" y1="239.51" x2="194.6" y2="239.51" stroke="#000" stroke-width="1" />
<line x1="267.59" y1="312.5" x2="267.59" y2="314.8" stroke="#000" stroke-width="1" />
<line x1="192.9" y1="232.18594020549534" x2="194.6" y2="232.18594020549534" stroke="#000" stroke-width="0.8" />
<line x1="274.9140597945046" y1="312.5" x2="274.9140597945046" y2="314.2" stroke="#000" stroke-width="0.8" />
<line x1="192.9" y1="227.90163987267061" x2="194.6" y2="227.90163987267061" stroke="#000" stroke-width="0.8" />
<line x1="279.19836012732935" y1="312.5" x2="279.19836012732935" y2="314.2" stroke="#000" stroke-width="0.8" />
<line x1="192.9" y1="224.86188041099066" x2="194.6" y2="224.86188041099066" stroke="#000" stroke-width="0.8" />
<line x1="282.2381195890093" y1="312.5" x2="282.2381195890093" y2="314.2" stroke="#000" stroke-width="0.8" />
<line x1="192.9" y1="222.50405979450466" x2="194.6" y2="222.50405979450466" stroke="#000" stroke-width="0.8" />
<line x1="284.5959402054953" y1="312.5" x2="284.5959402054953" y2="314.2" stroke="#000" stroke-width="0.8" />
<line x1="192.9" y1="220.57758007816594" x2="194.6" y2="220.57758007816594" stroke="#000" stroke-width="0.8" />
<line x1="286.522419921834" y1="312.5" x2="286.522419921834" y2="314.2" stroke="#000" stroke-width="0.8" />
<line x1="192.9" y1="218.94876468645313" x2="194.6" y2="218.94876468645313" stroke="#000" stroke-width="0.8" />
<line x1="288.15123531354686" y1="312.5" x2="288.15123531354686" y2="314.2" stroke="#000" stroke-width="0.8" />
<line x1="192.9" y1="217.53782061648602" x2="194.6" y2="217.53782061648602" stroke="#000" stroke-width="0.8" />
<line x1="289.562179383514" y1="312.5" x2="289.562179383514" y2="314.2" stroke="#000" stroke-width="0.8" />
<line x1="192.9" y1="216.2932797453412" x2="194.6" y2="216.2932797453412" stroke="#000" stroke-width="0.8" />
<line x1="290.8067202546587" y1="312.5" x2="290.8067202546587" y2="314.2" stroke="#000" stroke-width="0.8" />
<line x1="192.29999999999998" y1="215.18" x2="194.6" y2="215.18" stroke="#000" stroke-width="1" />
<line x1="291.91999999999996" y1="312.5" x2="291.91999999999996" y2="314.8" stroke="#000" stroke-width="1" />
<text x="0" y="0" font-size="7.8" text-anchor="middle" transform="translate(189.79999999999998,312.5) rotate(-90)">10<tspan font-size="5.3" dy="-3.4">0</tspan></text>
<text x="196.40" y="326.2" font-size="7.8" text-anchor="middle">10<tspan font-size="5.3" dy="-3.4">0</tspan></text>
<text x="0" y="0" font-size="7.8" text-anchor="middle" transform="translate(189.79999999999998,288.17) rotate(-90)">10<tspan font-size="5.3" dy="-3.4">1</tspan></text>
<text x="220.40" y="326.2" font-size="7.8" text-anchor="middle">10<tspan font-size="5.3" dy="-3.4">1</tspan></text>
<text x="0" y="0" font-size="7.8" text-anchor="middle" transform="translate(189.79999999999998,263.84000000000003) rotate(-90)">10<tspan font-size="5.3" dy="-3.4">2</tspan></text>
<text x="244.40" y="326.2" font-size="7.8" text-anchor="middle">10<tspan font-size="5.3" dy="-3.4">2</tspan></text>
<text x="0" y="0" font-size="7.8" text-anchor="middle" transform="translate(189.79999999999998,239.51) rotate(-90)">10<tspan font-size="5.3" dy="-3.4">3</tspan></text>
<text x="268.40" y="326.2" font-size="7.8" text-anchor="middle">10<tspan font-size="5.3" dy="-3.4">3</tspan></text>
<text x="0" y="0" font-size="7.8" text-anchor="middle" transform="translate(189.79999999999998,215.18) rotate(-90)">10<tspan font-size="5.3" dy="-3.4">4</tspan></text>
<text x="292.40" y="326.2" font-size="7.8" text-anchor="middle">10<tspan font-size="5.3" dy="-3.4">4</tspan></text>
<path d="M202.2 290.6h1v1h-1zM209.2 287.0h1v1h-1zM209.5 294.2h1v1h-1zM209.1 294.9h1v1h-1zM201.6 284.5h1v1h-1zM210.8 304.8h1v1h-1zM216.8 284.7h1v1h-1zM205.3 294.1h1v1h-1zM217.6 289.2h1v1h-1zM213.9 290.5h1v1h-1zM201.0 285.1h1v1h-1zM208.3 288.4h1v1h-1zM204.8 298.0h1v1h-1zM209.7 290.3h1v1h-1zM208.4 295.7h1v1h-1zM203.1 299.9h1v1h-1zM213.7 302.1h1v1h-1zM210.1 291.7h1v1h-1zM199.8 279.9h1v1h-1zM200.5 294.0h1v1h-1zM201.4 292.9h1v1h-1zM203.6 293.0h1v1h-1zM209.3 288.6h1v1h-1zM211.9 282.6h1v1h-1zM213.1 296.0h1v1h-1zM206.2 284.3h1v1h-1zM201.3 282.1h1v1h-1zM203.9 298.1h1v1h-1zM213.2 288.2h1v1h-1zM202.9 283.4h1v1h-1zM211.9 298.6h1v1h-1zM205.9 292.8h1v1h-1zM211.7 299.5h1v1h-1zM203.3 290.2h1v1h-1zM212.1 299.3h1v1h-1zM204.0 290.2h1v1h-1zM219.3 290.1h1v1h-1zM216.3 274.7h1v1h-1zM210.7 290.9h1v1h-1zM199.9 292.5h1v1h-1zM199.9 296.4h1v1h-1zM213.3 282.0h1v1h-1zM218.4 296.5h1v1h-1zM210.0 299.0h1v1h-1zM202.4 293.9h1v1h-1zM227.5 288.8h1v1h-1zM203.1 280.8h1v1h-1zM205.8 294.8h1v1h-1zM204.5 288.0h1v1h-1zM214.5 283.7h1v1h-1zM209.8 294.8h1v1h-1zM216.0 286.4h1v1h-1zM209.6 287.1h1v1h-1zM211.4 293.0h1v1h-1zM205.8 293.1h1v1h-1zM200.5 307.4h1v1h-1zM208.0 298.4h1v1h-1zM212.4 285.8h1v1h-1zM207.5 295.2h1v1h-1zM206.0 293.0h1v1h-1zM212.1 284.9h1v1h-1zM207.5 293.0h1v1h-1zM208.5 283.7h1v1h-1zM202.3 291.6h1v1h-1zM216.8 293.8h1v1h-1zM204.1 293.9h1v1h-1zM223.5 292.0h1v1h-1zM205.5 281.6h1v1h-1zM204.7 279.6h1v1h-1zM201.7 298.0h1v1h-1zM204.3 304.6h1v1h-1zM206.2 298.2h1v1h-1zM208.6 294.4h1v1h-1zM203.2 283.7h1v1h-1zM215.2 289.5h1v1h-1zM208.9 289.3h1v1h-1zM219.0 278.5h1v1h-1zM201.0 280.2h1v1h-1zM208.3 290.6h1v1h-1zM217.3 286.5h1v1h-1zM203.3 305.2h1v1h-1zM212.3 281.5h1v1h-1zM198.9 304.5h1v1h-1zM208.4 275.8h1v1h-1zM218.1 291.0h1v1h-1zM213.6 292.5h1v1h-1zM232.1 298.6h1v1h-1zM205.4 302.4h1v1h-1zM209.6 282.9h1v1h-1zM219.5 285.2h1v1h-1zM203.4 304.2h1v1h-1zM219.4 277.9h1v1h-1zM214.6 285.8h1v1h-1zM215.9 289.7h1v1h-1zM197.2 295.5h1v1h-1zM206.9 294.6h1v1h-1zM209.8 291.5h1v1h-1zM215.5 286.1h1v1h-1zM214.6 282.1h1v1h-1zM210.6 290.8h1v1h-1zM210.8 301.6h1v1h-1zM217.7 287.7h1v1h-1zM207.1 291.8h1v1h-1zM210.8 298.2h1v1h-1zM197.3 305.8h1v1h-1zM216.9 292.0h1v1h-1zM215.1 285.1h1v1h-1zM199.0 302.3h1v1h-1zM211.9 289.9h1v1h-1zM216.3 295.5h1v1h-1zM219.6 284.0h1v1h-1zM211.2 296.8h1v1h-1zM204.9 283.1h1v1h-1zM209.0 297.7h1v1h-1zM221.8 277.8h1v1h-1zM218.1 281.4h1v1h-1zM203.2 295.9h1v1h-1zM210.8 297.1h1v1h-1zM201.9 287.9h1v1h-1zM204.4 298.4h1v1h-1zM211.4 294.0h1v1h-1zM207.9 285.8h1v1h-1zM203.7 285.9h1v1h-1zM200.2 293.8h1v1h-1zM214.1 301.6h1v1h-1zM208.5 291.8h1v1h-1zM205.4 285.7h1v1h-1zM210.9 305.7h1v1h-1zM218.1 290.9h1v1h-1zM207.2 301.5h1v1h-1zM217.3 293.7h1v1h-1zM195.8 286.6h1v1h-1zM212.3 297.5h1v1h-1zM214.0 300.0h1v1h-1zM220.4 290.4h1v1h-1zM216.4 304.0h1v1h-1zM216.4 294.7h1v1h-1zM207.6 284.7h1v1h-1zM201.0 283.9h1v1h-1zM203.4 302.7h1v1h-1zM209.6 296.1h1v1h-1zM207.0 292.7h1v1h-1zM204.2 285.8h1v1h-1zM197.6 281.2h1v1h-1zM207.1 293.1h1v1h-1zM200.3 291.6h1v1h-1zM203.5 285.5h1v1h-1zM205.2 286.7h1v1h-1zM213.3 292.3h1v1h-1zM203.5 283.6h1v1h-1zM217.7 292.8h1v1h-1zM203.9 302.0h1v1h-1zM221.7 275.0h1v1h-1zM215.6 294.8h1v1h-1zM206.2 301.1h1v1h-1zM202.6 287.5h1v1h-1zM217.9 283.3h1v1h-1zM215.2 296.5h1v1h-1zM211.5 287.0h1v1h-1zM200.3 292.1h1v1h-1zM202.8 274.6h1v1h-1zM197.3 283.5h1v1h-1zM211.4 293.0h1v1h-1zM201.3 282.5h1v1h-1zM208.2 297.0h1v1h-1zM211.6 288.3h1v1h-1zM220.4 281.8h1v1h-1zM214.7 291.4h1v1h-1zM206.8 295.3h1v1h-1zM206.0 295.0h1v1h-1zM216.6 290.8h1v1h-1zM202.0 294.5h1v1h-1zM211.4 275.1h1v1h-1zM205.8 284.4h1v1h-1zM218.5 289.6h1v1h-1zM210.6 296.8h1v1h-1zM198.2 291.5h1v1h-1zM212.9 296.4h1v1h-1zM213.3 295.7h1v1h-1zM202.0 291.8h1v1h-1zM207.4 273.8h1v1h-1zM205.4 285.9h1v1h-1zM215.5 295.2h1v1h-1zM203.9 297.7h1v1h-1zM219.0 305.0h1v1h-1zM212.8 297.1h1v1h-1zM200.7 292.7h1v1h-1zM208.5 280.4h1v1h-1zM210.5 278.4h1v1h-1zM202.2 288.3h1v1h-1zM230.2 288.9h1v1h-1zM207.8 305.4h1v1h-1zM211.5 291.0h1v1h-1zM219.9 291.7h1v1h-1zM207.9 278.7h1v1h-1zM197.0 290.9h1v1h-1zM211.1 299.6h1v1h-1zM209.1 297.6h1v1h-1zM205.4 282.0h1v1h-1zM214.3 297.1h1v1h-1zM215.6 294.3h1v1h-1zM203.7 287.2h1v1h-1zM201.5 289.4h1v1h-1zM207.7 291.1h1v1h-1zM210.2 287.2h1v1h-1zM211.6 310.5h1v1h-1zM208.0 297.1h1v1h-1zM210.4 288.6h1v1h-1zM217.1 286.4h1v1h-1zM209.2 296.8h1v1h-1zM215.1 282.3h1v1h-1zM211.4 278.5h1v1h-1zM202.6 291.2h1v1h-1zM211.7 304.1h1v1h-1zM213.1 297.5h1v1h-1zM209.5 293.7h1v1h-1zM202.9 290.8h1v1h-1zM209.4 290.8h1v1h-1zM208.2 299.1h1v1h-1zM205.6 293.4h1v1h-1zM202.0 300.9h1v1h-1zM198.1 297.6h1v1h-1zM199.6 296.4h1v1h-1zM219.4 282.9h1v1h-1zM204.2 299.6h1v1h-1zM215.6 303.2h1v1h-1zM213.3 304.5h1v1h-1zM206.9 296.0h1v1h-1zM219.3 295.1h1v1h-1zM211.0 302.0h1v1h-1zM196.7 294.8h1v1h-1zM210.3 289.9h1v1h-1zM209.4 299.2h1v1h-1zM222.3 299.2h1v1h-1zM215.4 297.9h1v1h-1zM198.2 302.0h1v1h-1zM212.2 286.5h1v1h-1zM211.6 295.4h1v1h-1zM223.3 294.8h1v1h-1zM208.6 293.1h1v1h-1zM210.6 296.8h1v1h-1zM204.9 280.2h1v1h-1zM206.1 280.6h1v1h-1zM220.7 290.3h1v1h-1zM199.5 286.2h1v1h-1zM204.6 292.2h1v1h-1zM209.4 289.8h1v1h-1zM222.7 282.3h1v1h-1zM208.9 295.7h1v1h-1zM205.5 290.1h1v1h-1zM213.5 310.9h1v1h-1zM204.2 285.2h1v1h-1zM199.4 302.0h1v1h-1zM209.5 298.4h1v1h-1zM197.0 297.4h1v1h-1zM209.1 301.6h1v1h-1zM206.1 301.8h1v1h-1zM214.2 277.2h1v1h-1zM218.0 297.6h1v1h-1zM206.3 273.5h1v1h-1zM212.7 280.3h1v1h-1zM202.5 301.7h1v1h-1zM234.0 305.6h1v1h-1zM217.2 276.6h1v1h-1zM221.2 274.9h1v1h-1zM198.9 274.2h1v1h-1zM206.1 290.6h1v1h-1zM210.2 282.0h1v1h-1zM208.3 308.7h1v1h-1zM208.4 293.6h1v1h-1zM233.6 286.0h1v1h-1zM217.2 277.4h1v1h-1zM216.8 287.2h1v1h-1zM203.4 294.4h1v1h-1zM215.5 267.4h1v1h-1zM202.5 271.7h1v1h-1zM199.6 262.4h1v1h-1zM218.3 263.7h1v1h-1zM205.9 297.3h1v1h-1zM213.3 287.5h1v1h-1zM217.9 288.7h1v1h-1zM211.5 290.5h1v1h-1zM218.1 295.0h1v1h-1zM228.6 303.0h1v1h-1zM203.6 291.5h1v1h-1zM199.4 296.0h1v1h-1zM212.0 280.8h1v1h-1zM215.0 260.4h1v1h-1zM224.8 298.9h1v1h-1zM211.2 287.5h1v1h-1zM195.4 291.8h1v1h-1zM207.7 289.9h1v1h-1zM217.9 294.2h1v1h-1zM220.5 265.7h1v1h-1zM207.0 284.9h1v1h-1zM199.6 288.9h1v1h-1zM220.3 278.6h1v1h-1zM196.7 276.9h1v1h-1zM209.7 298.8h1v1h-1zM222.9 301.8h1v1h-1zM199.6 260.3h1v1h-1zM203.5 290.4h1v1h-1zM203.6 277.8h1v1h-1zM200.5 274.5h1v1h-1zM219.6 282.9h1v1h-1zM201.9 272.7h1v1h-1zM217.9 284.5h1v1h-1zM202.9 275.8h1v1h-1zM200.3 293.3h1v1h-1zM201.7 299.0h1v1h-1zM234.0 294.0h1v1h-1zM231.0 304.7h1v1h-1zM236.1 299.2h1v1h-1zM223.1 298.4h1v1h-1zM241.1 279.3h1v1h-1zM231.3 299.5h1v1h-1zM240.5 300.6h1v1h-1zM235.5 298.9h1v1h-1zM240.6 286.6h1v1h-1zM224.3 289.0h1v1h-1zM231.6 296.9h1v1h-1zM232.2 291.1h1v1h-1zM241.8 298.9h1v1h-1zM239.4 294.6h1v1h-1zM227.4 298.4h1v1h-1zM243.0 291.3h1v1h-1zM236.3 299.6h1v1h-1zM233.9 291.9h1v1h-1zM237.3 306.5h1v1h-1zM234.0 288.5h1v1h-1zM232.9 297.4h1v1h-1zM247.2 299.3h1v1h-1zM234.7 288.2h1v1h-1zM238.7 299.1h1v1h-1zM246.6 301.6h1v1h-1zM236.7 296.6h1v1h-1zM236.5 289.3h1v1h-1zM242.2 285.5h1v1h-1zM231.2 300.7h1v1h-1zM243.2 294.0h1v1h-1zM227.7 296.5h1v1h-1zM224.9 298.8h1v1h-1zM237.9 291.6h1v1h-1zM230.1 292.0h1v1h-1zM227.7 290.6h1v1h-1zM241.8 296.6h1v1h-1zM232.2 297.1h1v1h-1zM229.4 289.6h1v1h-1zM236.1 309.5h1v1h-1zM232.7 286.0h1v1h-1zM238.0 294.3h1v1h-1zM234.2 307.8h1v1h-1zM236.0 286.9h1v1h-1zM246.4 296.6h1v1h-1zM230.9 285.9h1v1h-1zM225.3 299.4h1v1h-1zM244.1 306.6h1v1h-1zM237.9 301.4h1v1h-1zM232.1 289.7h1v1h-1zM238.4 305.3h1v1h-1zM234.6 295.2h1v1h-1zM234.8 297.2h1v1h-1zM242.9 291.4h1v1h-1zM231.9 299.0h1v1h-1zM242.9 293.1h1v1h-1zM229.5 298.4h1v1h-1zM240.7 299.5h1v1h-1zM236.4 290.8h1v1h-1zM233.1 294.4h1v1h-1zM230.2 289.6h1v1h-1zM232.3 298.5h1v1h-1zM229.9 308.3h1v1h-1zM237.1 301.2h1v1h-1zM233.9 296.5h1v1h-1zM232.3 284.4h1v1h-1zM239.4 291.2h1v1h-1zM235.9 280.1h1v1h-1zM240.4 296.1h1v1h-1zM227.8 296.5h1v1h-1zM238.7 298.8h1v1h-1zM243.6 301.8h1v1h-1zM236.9 300.7h1v1h-1zM225.2 294.5h1v1h-1zM227.1 303.0h1v1h-1zM234.3 304.3h1v1h-1zM240.5 306.5h1v1h-1zM235.2 292.7h1v1h-1zM237.8 288.2h1v1h-1zM231.1 291.5h1v1h-1zM227.2 296.5h1v1h-1zM230.6 281.6h1v1h-1zM226.1 291.2h1v1h-1zM227.2 290.8h1v1h-1zM228.6 296.6h1v1h-1zM222.7 299.3h1v1h-1zM233.3 291.0h1v1h-1zM233.8 293.0h1v1h-1zM233.5 304.4h1v1h-1zM233.7 303.1h1v1h-1zM221.9 287.0h1v1h-1zM235.8 286.0h1v1h-1zM239.8 293.4h1v1h-1zM226.3 280.9h1v1h-1zM229.7 306.0h1v1h-1zM231.4 291.6h1v1h-1zM246.7 304.7h1v1h-1zM241.0 298.4h1v1h-1zM238.8 293.8h1v1h-1zM234.5 307.2h1v1h-1zM235.4 301.8h1v1h-1zM235.1 301.1h1v1h-1zM233.2 296.8h1v1h-1zM222.5 295.3h1v1h-1zM231.4 300.7h1v1h-1zM219.9 301.0h1v1h-1zM230.4 297.8h1v1h-1zM228.9 307.2h1v1h-1zM236.9 292.6h1v1h-1zM238.0 297.5h1v1h-1zM228.4 301.3h1v1h-1zM243.4 298.2h1v1h-1zM232.8 291.6h1v1h-1zM229.3 297.1h1v1h-1zM232.7 288.6h1v1h-1zM225.0 289.6h1v1h-1zM234.6 299.4h1v1h-1zM239.4 289.5h1v1h-1zM238.0 304.2h1v1h-1zM238.6 297.8h1v1h-1zM226.6 302.9h1v1h-1zM234.3 289.0h1v1h-1zM231.1 283.3h1v1h-1zM215.2 283.4h1v1h-1zM226.7 279.7h1v1h-1zM230.8 280.6h1v1h-1zM234.6 277.8h1v1h-1zM211.9 264.3h1v1h-1zM216.7 270.3h1v1h-1zM226.9 263.0h1v1h-1zM225.4 285.4h1v1h-1zM212.1 279.8h1v1h-1zM221.9 290.1h1v1h-1zM227.3 282.3h1v1h-1zM219.0 279.7h1v1h-1zM238.6 289.5h1v1h-1zM217.6 270.0h1v1h-1zM202.8 280.2h1v1h-1zM225.6 271.4h1v1h-1zM227.4 280.7h1v1h-1zM227.0 269.5h1v1h-1zM217.5 274.1h1v1h-1zM204.1 262.4h1v1h-1zM231.9 290.1h1v1h-1zM198.2 265.9h1v1h-1zM215.2 267.7h1v1h-1zM220.1 275.4h1v1h-1zM226.3 273.1h1v1h-1zM209.5 276.5h1v1h-1zM208.1 282.3h1v1h-1zM220.3 284.3h1v1h-1zM238.9 264.6h1v1h-1zM210.5 279.8h1v1h-1zM234.4 280.5h1v1h-1zM223.2 274.8h1v1h-1zM247.9 264.7h1v1h-1zM234.4 267.0h1v1h-1zM238.8 273.7h1v1h-1zM237.7 274.7h1v1h-1zM246.1 263.9h1v1h-1zM236.9 266.4h1v1h-1zM243.2 271.1h1v1h-1zM239.9 272.6h1v1h-1zM239.2 266.3h1v1h-1zM237.9 260.2h1v1h-1zM252.7 279.7h1v1h-1zM236.8 286.4h1v1h-1zM246.5 287.2h1v1h-1zM236.4 268.2h1v1h-1zM245.2 271.2h1v1h-1zM240.4 252.1h1v1h-1zM223.7 256.8h1v1h-1zM242.6 265.7h1v1h-1zM243.3 263.8h1v1h-1zM238.5 268.9h1v1h-1zM224.4 267.2h1v1h-1zM234.3 259.3h1v1h-1zM232.5 263.6h1v1h-1zM232.2 266.0h1v1h-1z" fill="#000" fill-opacity="0.2"/>
<path d="M208.7 292.1h1v1h-1zM206.9 295.0h1v1h-1zM207.2 294.8h1v1h-1zM222.6 283.9h1v1h-1zM205.3 289.5h1v1h-1zM203.5 296.8h1v1h-1zM211.5 291.7h1v1h-1zM215.2 284.5h1v1h-1zM206.3 294.4h1v1h-1zM207.4 283.3h1v1h-1zM203.5 285.3h1v1h-1zM207.1 288.1h1v1h-1zM198.9 282.3h1v1h-1zM211.2 293.9h1v1h-1zM210.6 281.7h1v1h-1zM206.4 297.9h1v1h-1zM216.2 294.9h1v1h-1zM206.3 291.2h1v1h-1zM223.4 285.1h1v1h-1zM214.5 303.5h1v1h-1zM209.6 277.9h1v1h-1zM209.3 308.3h1v1h-1zM215.4 298.6h1v1h-1zM212.7 294.3h1v1h-1zM207.7 300.6h1v1h-1zM208.9 299.3h1v1h-1zM214.6 289.3h1v1h-1zM215.4 295.4h1v1h-1zM202.4 292.1h1v1h-1zM214.9 297.6h1v1h-1zM208.1 301.4h1v1h-1zM207.8 290.7h1v1h-1zM221.8 296.3h1v1h-1zM208.1 291.2h1v1h-1zM195.5 297.1h1v1h-1zM211.7 287.1h1v1h-1zM206.7 297.1h1v1h-1zM208.0 281.3h1v1h-1zM208.6 290.6h1v1h-1zM212.1 283.0h1v1h-1zM204.4 296.3h1v1h-1zM212.3 292.5h1v1h-1zM203.4 303.8h1v1h-1zM219.8 299.2h1v1h-1zM209.8 286.9h1v1h-1zM215.3 302.6h1v1h-1zM201.9 288.4h1v1h-1zM199.6 291.2h1v1h-1zM204.0 286.4h1v1h-1zM213.7 290.9h1v1h-1zM202.2 303.2h1v1h-1zM222.6 288.2h1v1h-1zM216.2 301.8h1v1h-1zM202.5 298.5h1v1h-1zM214.8 298.3h1v1h-1zM203.7 285.8h1v1h-1zM202.5 294.4h1v1h-1zM198.5 295.6h1v1h-1zM208.7 290.2h1v1h-1zM200.9 297.5h1v1h-1zM220.8 294.9h1v1h-1zM208.5 297.1h1v1h-1zM215.4 306.8h1v1h-1zM210.6 293.5h1v1h-1zM212.2 291.8h1v1h-1zM201.0 295.0h1v1h-1zM212.4 282.9h1v1h-1zM213.0 290.4h1v1h-1zM212.6 285.5h1v1h-1zM211.2 304.1h1v1h-1zM206.2 297.4h1v1h-1zM203.2 304.4h1v1h-1zM205.7 277.7h1v1h-1zM205.4 284.7h1v1h-1zM207.5 295.2h1v1h-1zM206.1 293.6h1v1h-1zM211.3 284.0h1v1h-1zM206.1 283.6h1v1h-1zM210.6 280.7h1v1h-1zM207.6 294.7h1v1h-1zM205.1 286.7h1v1h-1zM204.9 281.2h1v1h-1zM208.9 299.9h1v1h-1zM218.9 288.1h1v1h-1zM204.7 296.0h1v1h-1zM213.6 305.1h1v1h-1zM208.9 285.0h1v1h-1zM216.8 294.1h1v1h-1zM212.7 281.9h1v1h-1zM204.1 303.7h1v1h-1zM214.7 283.3h1v1h-1zM209.3 299.0h1v1h-1zM221.1 280.0h1v1h-1zM207.1 290.6h1v1h-1zM212.0 297.7h1v1h-1zM203.0 295.0h1v1h-1zM209.2 304.3h1v1h-1zM219.0 285.4h1v1h-1zM219.2 275.1h1v1h-1zM214.4 282.2h1v1h-1zM219.3 303.1h1v1h-1zM206.2 292.5h1v1h-1zM201.3 299.9h1v1h-1zM205.8 298.8h1v1h-1zM213.3 291.0h1v1h-1zM197.0 291.3h1v1h-1zM218.5 300.4h1v1h-1zM206.6 290.9h1v1h-1zM208.2 288.1h1v1h-1zM208.5 291.4h1v1h-1zM218.6 293.7h1v1h-1zM210.2 300.7h1v1h-1zM206.9 290.7h1v1h-1zM212.0 289.9h1v1h-1zM210.0 306.3h1v1h-1zM209.0 297.1h1v1h-1zM208.1 292.5h1v1h-1zM203.9 298.8h1v1h-1zM204.8 302.4h1v1h-1zM205.4 290.4h1v1h-1zM214.9 281.7h1v1h-1zM207.1 301.4h1v1h-1zM200.3 294.1h1v1h-1zM203.4 292.5h1v1h-1zM204.8 278.7h1v1h-1zM220.3 295.9h1v1h-1zM217.8 289.4h1v1h-1zM204.7 282.8h1v1h-1zM204.3 301.2h1v1h-1zM211.1 284.9h1v1h-1zM211.7 291.1h1v1h-1zM207.7 291.7h1v1h-1zM210.1 296.0h1v1h-1zM207.6 295.5h1v1h-1zM209.6 294.3h1v1h-1zM212.3 299.8h1v1h-1zM212.1 295.6h1v1h-1zM202.1 296.9h1v1h-1zM216.0 306.2h1v1h-1zM210.3 283.3h1v1h-1zM209.4 291.7h1v1h-1zM204.6 292.2h1v1h-1zM207.0 288.4h1v1h-1zM218.1 287.1h1v1h-1zM201.4 301.4h1v1h-1zM199.4 293.8h1v1h-1zM212.1 289.5h1v1h-1zM196.8 287.6h1v1h-1zM195.4 293.2h1v1h-1zM206.8 303.1h1v1h-1zM204.1 302.9h1v1h-1zM221.3 296.6h1v1h-1zM210.7 286.7h1v1h-1zM200.4 304.3h1v1h-1zM200.9 292.2h1v1h-1zM212.2 277.5h1v1h-1zM210.5 302.4h1v1h-1zM205.1 306.4h1v1h-1zM200.3 281.2h1v1h-1zM208.4 295.2h1v1h-1zM214.8 295.3h1v1h-1zM208.0 301.6h1v1h-1zM212.7 290.4h1v1h-1zM205.7 281.1h1v1h-1zM202.2 288.4h1v1h-1zM209.2 295.3h1v1h-1zM208.6 287.0h1v1h-1zM212.2 295.4h1v1h-1zM217.0 285.4h1v1h-1zM206.4 283.5h1v1h-1zM212.4 301.4h1v1h-1zM223.7 291.3h1v1h-1zM209.3 297.6h1v1h-1zM215.2 299.4h1v1h-1zM199.6 285.9h1v1h-1zM195.8 299.1h1v1h-1zM202.5 299.3h1v1h-1zM210.6 296.2h1v1h-1zM205.6 291.1h1v1h-1zM209.2 292.1h1v1h-1zM206.5 292.8h1v1h-1zM198.4 296.2h1v1h-1zM210.6 293.1h1v1h-1zM208.1 300.7h1v1h-1zM209.0 300.9h1v1h-1zM205.0 296.8h1v1h-1zM205.2 286.8h1v1h-1zM210.0 290.1h1v1h-1zM210.6 293.8h1v1h-1zM221.4 302.5h1v1h-1zM217.1 296.4h1v1h-1zM211.3 290.0h1v1h-1zM215.3 295.8h1v1h-1zM206.1 279.5h1v1h-1zM211.9 285.8h1v1h-1zM210.6 290.3h1v1h-1zM201.0 285.0h1v1h-1zM200.0 296.8h1v1h-1zM214.1 294.2h1v1h-1zM202.1 294.9h1v1h-1zM204.2 305.1h1v1h-1zM209.8 295.7h1v1h-1zM212.1 293.6h1v1h-1zM204.6 299.1h1v1h-1zM210.8 296.1h1v1h-1zM207.0 294.6h1v1h-1zM208.2 288.8h1v1h-1zM217.5 299.3h1v1h-1zM211.5 288.0h1v1h-1zM211.1 289.9h1v1h-1zM200.9 288.6h1v1h-1zM200.3 299.0h1v1h-1zM202.9 295.7h1v1h-1zM209.1 303.1h1v1h-1zM205.9 300.5h1v1h-1zM218.8 293.4h1v1h-1zM199.3 294.9h1v1h-1zM217.9 308.3h1v1h-1zM212.8 288.0h1v1h-1zM208.8 293.2h1v1h-1zM202.0 296.9h1v1h-1zM214.2 289.1h1v1h-1zM203.7 291.1h1v1h-1zM206.7 305.1h1v1h-1zM200.3 284.4h1v1h-1zM218.5 291.4h1v1h-1zM215.3 301.0h1v1h-1zM213.1 292.5h1v1h-1zM202.0 291.1h1v1h-1zM208.3 297.1h1v1h-1zM207.3 288.2h1v1h-1zM214.9 295.1h1v1h-1zM206.8 293.8h1v1h-1zM196.4 288.7h1v1h-1zM211.6 284.3h1v1h-1zM212.8 296.4h1v1h-1zM207.0 297.3h1v1h-1zM220.8 287.3h1v1h-1zM203.1 281.6h1v1h-1zM207.0 296.0h1v1h-1zM204.5 291.1h1v1h-1zM223.8 298.9h1v1h-1zM218.1 294.0h1v1h-1zM212.0 285.2h1v1h-1zM208.8 297.2h1v1h-1zM204.6 302.3h1v1h-1zM219.6 294.2h1v1h-1zM196.8 283.3h1v1h-1zM198.8 293.5h1v1h-1zM209.8 279.2h1v1h-1zM206.6 285.2h1v1h-1zM222.4 283.4h1v1h-1zM215.1 303.1h1v1h-1zM202.7 289.5h1v1h-1zM224.1 280.3h1v1h-1zM216.0 280.5h1v1h-1zM216.9 263.2h1v1h-1zM202.7 306.1h1v1h-1zM207.0 279.0h1v1h-1zM220.0 308.6h1v1h-1zM200.9 289.9h1v1h-1zM201.3 275.0h1v1h-1zM218.4 293.7h1v1h-1zM227.9 257.7h1v1h-1zM215.3 283.3h1v1h-1zM219.8 254.4h1v1h-1zM214.2 294.6h1v1h-1zM208.7 308.0h1v1h-1zM211.4 293.7h1v1h-1zM222.8 299.2h1v1h-1zM196.8 297.3h1v1h-1zM201.3 284.2h1v1h-1zM195.7 294.2h1v1h-1zM205.8 308.2h1v1h-1zM225.9 273.6h1v1h-1zM212.9 292.6h1v1h-1zM214.6 283.3h1v1h-1zM206.5 271.7h1v1h-1zM207.5 260.6h1v1h-1zM197.1 287.1h1v1h-1zM201.0 278.8h1v1h-1zM203.6 281.6h1v1h-1zM214.2 293.7h1v1h-1zM213.5 286.5h1v1h-1zM196.7 274.4h1v1h-1zM198.2 294.0h1v1h-1zM217.3 266.1h1v1h-1zM196.1 302.2h1v1h-1zM214.6 272.0h1v1h-1zM205.0 277.1h1v1h-1zM204.1 285.7h1v1h-1zM199.0 284.9h1v1h-1zM202.5 293.7h1v1h-1zM206.0 294.5h1v1h-1zM221.3 269.1h1v1h-1zM218.2 297.3h1v1h-1zM206.0 275.1h1v1h-1zM211.2 278.7h1v1h-1zM217.3 297.1h1v1h-1zM231.6 295.0h1v1h-1zM240.2 291.6h1v1h-1zM234.4 299.3h1v1h-1zM227.8 287.5h1v1h-1zM247.0 305.9h1v1h-1zM229.4 292.2h1v1h-1zM233.6 295.7h1v1h-1zM227.9 291.2h1v1h-1zM224.8 305.3h1v1h-1zM231.4 298.4h1v1h-1zM232.8 306.8h1v1h-1zM234.7 308.0h1v1h-1zM228.5 295.4h1v1h-1zM236.2 298.2h1v1h-1zM230.8 291.2h1v1h-1zM246.4 298.8h1v1h-1zM231.2 289.6h1v1h-1zM224.9 305.1h1v1h-1zM237.7 286.7h1v1h-1zM229.8 289.6h1v1h-1zM230.7 310.7h1v1h-1zM239.8 298.1h1v1h-1zM233.3 293.1h1v1h-1zM231.7 277.4h1v1h-1zM241.8 306.3h1v1h-1zM223.4 301.9h1v1h-1zM238.3 295.3h1v1h-1zM239.8 295.1h1v1h-1zM243.2 305.8h1v1h-1zM224.9 307.6h1v1h-1zM243.5 287.0h1v1h-1zM239.0 293.7h1v1h-1zM238.1 293.9h1v1h-1zM238.1 296.0h1v1h-1zM238.7 306.6h1v1h-1zM237.8 287.5h1v1h-1zM232.6 299.4h1v1h-1zM237.6 288.3h1v1h-1zM232.5 297.6h1v1h-1zM248.1 297.1h1v1h-1zM232.5 298.6h1v1h-1zM233.1 297.2h1v1h-1zM239.5 301.2h1v1h-1zM229.9 299.0h1v1h-1zM242.3 284.9h1v1h-1zM229.1 299.0h1v1h-1zM229.0 296.7h1v1h-1zM230.5 290.0h1v1h-1zM235.2 297.2h1v1h-1zM240.4 295.1h1v1h-1zM234.6 293.6h1v1h-1zM232.3 299.1h1v1h-1zM236.2 287.3h1v1h-1zM222.7 296.8h1v1h-1zM254.6 299.4h1v1h-1zM233.5 300.9h1v1h-1zM228.9 303.9h1v1h-1zM235.8 302.4h1v1h-1zM242.5 304.2h1v1h-1zM232.0 292.7h1v1h-1zM230.0 290.5h1v1h-1zM234.8 294.6h1v1h-1zM229.2 285.6h1v1h-1zM239.7 298.5h1v1h-1zM229.9 296.6h1v1h-1zM240.0 292.3h1v1h-1zM236.7 298.5h1v1h-1zM229.6 308.9h1v1h-1zM247.2 291.5h1v1h-1zM232.6 284.0h1v1h-1zM233.1 302.8h1v1h-1zM235.8 301.2h1v1h-1zM229.9 289.8h1v1h-1zM229.1 289.1h1v1h-1zM240.3 310.5h1v1h-1zM241.0 296.0h1v1h-1zM240.0 297.3h1v1h-1zM238.4 294.2h1v1h-1zM222.8 300.6h1v1h-1zM236.4 291.3h1v1h-1zM238.7 301.6h1v1h-1zM228.7 296.1h1v1h-1zM229.3 296.5h1v1h-1zM238.7 291.3h1v1h-1zM243.3 300.2h1v1h-1zM235.9 304.9h1v1h-1zM233.6 299.0h1v1h-1zM230.3 293.4h1v1h-1zM235.9 291.8h1v1h-1zM235.2 295.1h1v1h-1zM237.2 304.4h1v1h-1zM236.6 308.2h1v1h-1zM237.8 304.8h1v1h-1zM231.4 291.3h1v1h-1zM237.5 298.0h1v1h-1zM236.8 300.8h1v1h-1zM230.6 304.2h1v1h-1zM238.7 306.9h1v1h-1zM223.6 294.1h1v1h-1zM228.2 295.1h1v1h-1zM243.2 292.8h1v1h-1zM230.3 295.5h1v1h-1zM237.9 292.5h1v1h-1zM240.1 292.0h1v1h-1zM242.0 295.8h1v1h-1zM239.7 307.3h1v1h-1zM224.9 304.6h1v1h-1zM235.5 301.5h1v1h-1zM241.0 289.0h1v1h-1zM237.9 293.1h1v1h-1zM231.1 294.9h1v1h-1zM228.4 309.6h1v1h-1zM234.3 282.7h1v1h-1zM235.1 276.4h1v1h-1zM219.1 276.9h1v1h-1zM228.8 277.8h1v1h-1zM213.8 277.9h1v1h-1zM224.3 278.7h1v1h-1zM223.9 277.6h1v1h-1zM216.9 264.3h1v1h-1zM228.3 266.1h1v1h-1zM215.8 280.2h1v1h-1zM232.3 274.7h1v1h-1zM209.6 278.7h1v1h-1zM227.6 262.3h1v1h-1zM222.5 272.8h1v1h-1zM226.3 288.4h1v1h-1zM233.6 280.4h1v1h-1zM231.1 268.0h1v1h-1zM223.4 275.2h1v1h-1zM228.0 270.5h1v1h-1zM220.7 271.1h1v1h-1zM211.6 271.0h1v1h-1zM238.9 262.5h1v1h-1zM229.8 273.3h1v1h-1zM229.5 292.3h1v1h-1zM223.0 271.3h1v1h-1zM214.3 267.2h1v1h-1zM230.0 266.6h1v1h-1zM237.6 279.3h1v1h-1zM208.6 272.5h1v1h-1zM224.6 268.5h1v1h-1zM217.8 266.4h1v1h-1zM240.7 272.5h1v1h-1zM218.4 280.3h1v1h-1zM222.8 273.5h1v1h-1zM216.8 271.5h1v1h-1zM226.9 281.0h1v1h-1zM215.8 286.5h1v1h-1zM235.9 268.9h1v1h-1zM231.6 278.2h1v1h-1zM233.4 282.3h1v1h-1zM247.0 288.3h1v1h-1zM244.6 276.2h1v1h-1zM239.1 272.2h1v1h-1zM237.3 262.7h1v1h-1zM231.2 264.5h1v1h-1zM232.5 259.6h1v1h-1zM235.9 262.1h1v1h-1zM240.1 281.8h1v1h-1zM247.2 269.2h1v1h-1zM229.7 278.9h1v1h-1zM248.1 284.2h1v1h-1zM247.4 261.4h1v1h-1zM243.3 253.4h1v1h-1zM246.9 279.4h1v1h-1zM236.7 263.3h1v1h-1zM248.0 272.3h1v1h-1zM231.8 271.4h1v1h-1zM249.1 257.1h1v1h-1zM251.8 254.1h1v1h-1z" fill="#000" fill-opacity="0.35"/>
<path d="M212.9 286.2h1v1h-1zM214.1 298.3h1v1h-1zM205.8 287.7h1v1h-1zM196.5 291.0h1v1h-1zM210.9 293.7h1v1h-1zM211.0 293.8h1v1h-1zM198.0 288.3h1v1h-1zM219.8 280.8h1v1h-1zM208.3 300.0h1v1h-1zM222.8 291.5h1v1h-1zM213.5 286.1h1v1h-1zM206.4 297.1h1v1h-1zM199.2 301.0h1v1h-1zM212.3 295.7h1v1h-1zM206.9 298.2h1v1h-1zM211.5 298.9h1v1h-1zM208.0 285.3h1v1h-1zM219.2 280.7h1v1h-1zM208.4 293.4h1v1h-1zM214.0 296.8h1v1h-1zM204.6 297.0h1v1h-1zM214.7 288.3h1v1h-1zM216.3 295.7h1v1h-1zM216.5 295.6h1v1h-1zM209.1 289.8h1v1h-1zM199.6 282.7h1v1h-1zM216.7 286.3h1v1h-1zM206.5 289.0h1v1h-1zM197.7 295.6h1v1h-1zM209.9 293.2h1v1h-1zM198.9 303.0h1v1h-1zM212.1 308.4h1v1h-1zM211.3 300.4h1v1h-1zM204.0 304.7h1v1h-1zM206.2 283.1h1v1h-1zM209.1 287.0h1v1h-1zM210.6 288.8h1v1h-1zM199.8 294.0h1v1h-1zM214.7 297.0h1v1h-1zM208.6 287.8h1v1h-1zM210.3 294.7h1v1h-1zM204.3 296.9h1v1h-1zM202.8 282.5h1v1h-1zM205.6 286.0h1v1h-1zM208.4 299.9h1v1h-1zM219.6 278.0h1v1h-1zM215.2 288.6h1v1h-1zM224.3 303.1h1v1h-1zM201.7 290.5h1v1h-1zM200.9 301.0h1v1h-1zM199.3 280.6h1v1h-1zM215.7 285.6h1v1h-1zM202.3 290.7h1v1h-1zM208.8 286.0h1v1h-1zM212.5 281.8h1v1h-1zM204.0 290.9h1v1h-1zM208.6 302.5h1v1h-1zM209.3 285.4h1v1h-1zM210.0 289.8h1v1h-1zM212.5 295.1h1v1h-1zM205.1 297.6h1v1h-1zM208.3 277.2h1v1h-1zM212.7 287.6h1v1h-1zM204.6 292.5h1v1h-1zM212.5 280.7h1v1h-1zM208.1 293.8h1v1h-1zM215.7 303.4h1v1h-1zM213.2 294.4h1v1h-1zM210.2 294.5h1v1h-1zM202.3 294.1h1v1h-1zM213.0 301.9h1v1h-1zM195.5 297.1h1v1h-1zM211.8 290.6h1v1h-1zM206.1 291.5h1v1h-1zM207.7 290.7h1v1h-1zM204.6 292.0h1v1h-1zM197.8 290.3h1v1h-1zM202.8 287.9h1v1h-1zM199.9 295.0h1v1h-1zM222.5 302.3h1v1h-1zM212.2 305.1h1v1h-1zM195.9 291.4h1v1h-1zM207.2 290.3h1v1h-1zM201.7 303.5h1v1h-1zM208.4 294.6h1v1h-1zM204.0 296.3h1v1h-1zM209.5 292.1h1v1h-1zM203.2 281.2h1v1h-1zM211.8 289.6h1v1h-1zM202.3 292.3h1v1h-1zM207.4 290.3h1v1h-1zM211.9 289.7h1v1h-1zM201.9 300.1h1v1h-1zM214.9 284.2h1v1h-1zM205.5 300.4h1v1h-1zM199.2 305.8h1v1h-1zM207.5 292.9h1v1h-1zM215.2 284.2h1v1h-1zM201.4 289.0h1v1h-1zM206.7 290.2h1v1h-1zM203.1 295.8h1v1h-1zM216.5 291.0h1v1h-1zM211.0 290.0h1v1h-1zM206.4 291.5h1v1h-1zM206.0 281.0h1v1h-1zM212.8 299.1h1v1h-1zM212.2 293.3h1v1h-1zM210.4 279.1h1v1h-1zM210.3 283.4h1v1h-1zM207.9 288.9h1v1h-1zM199.4 294.9h1v1h-1zM211.3 306.4h1v1h-1zM201.1 296.6h1v1h-1zM215.7 286.7h1v1h-1zM201.6 290.4h1v1h-1zM204.3 267.7h1v1h-1zM210.5 307.5h1v1h-1zM204.8 293.9h1v1h-1zM206.4 300.0h1v1h-1zM213.0 284.4h1v1h-1zM206.0 281.5h1v1h-1zM213.4 300.4h1v1h-1zM205.2 287.5h1v1h-1zM218.5 304.8h1v1h-1zM210.1 286.1h1v1h-1zM208.2 302.8h1v1h-1zM221.0 293.9h1v1h-1zM220.1 298.1h1v1h-1zM213.0 288.6h1v1h-1zM206.5 294.6h1v1h-1zM211.4 304.4h1v1h-1zM209.9 300.4h1v1h-1zM221.9 306.4h1v1h-1zM211.3 290.5h1v1h-1zM198.0 306.4h1v1h-1zM212.4 287.3h1v1h-1zM201.5 278.2h1v1h-1zM211.2 282.4h1v1h-1zM201.6 284.3h1v1h-1zM220.2 296.4h1v1h-1zM221.0 287.1h1v1h-1zM211.1 299.3h1v1h-1zM212.6 291.9h1v1h-1zM203.8 300.9h1v1h-1zM214.8 296.3h1v1h-1zM208.3 291.8h1v1h-1zM205.3 290.4h1v1h-1zM198.3 303.2h1v1h-1zM207.2 294.0h1v1h-1zM213.5 294.8h1v1h-1zM209.5 287.5h1v1h-1zM196.7 290.3h1v1h-1zM204.9 282.4h1v1h-1zM207.1 274.9h1v1h-1zM211.9 288.0h1v1h-1zM210.5 290.3h1v1h-1zM212.6 289.5h1v1h-1zM195.5 278.6h1v1h-1zM210.2 300.1h1v1h-1zM202.5 293.7h1v1h-1zM214.9 295.2h1v1h-1zM203.9 285.5h1v1h-1zM204.0 291.6h1v1h-1zM213.0 297.0h1v1h-1zM214.8 287.5h1v1h-1zM216.7 288.6h1v1h-1zM215.2 297.6h1v1h-1zM207.2 299.1h1v1h-1zM204.6 290.3h1v1h-1zM209.3 286.0h1v1h-1zM210.6 298.3h1v1h-1zM199.4 287.1h1v1h-1zM210.1 292.4h1v1h-1zM196.8 298.9h1v1h-1zM215.1 286.9h1v1h-1zM210.1 292.7h1v1h-1zM201.7 291.1h1v1h-1zM218.1 301.1h1v1h-1zM208.8 296.6h1v1h-1zM213.7 288.2h1v1h-1zM228.3 299.2h1v1h-1zM208.6 294.6h1v1h-1zM212.6 290.2h1v1h-1zM208.7 285.7h1v1h-1zM218.8 298.5h1v1h-1zM219.4 298.4h1v1h-1zM212.0 299.5h1v1h-1zM201.5 287.9h1v1h-1zM209.9 286.6h1v1h-1zM202.9 291.1h1v1h-1zM210.5 298.0h1v1h-1zM206.2 287.3h1v1h-1zM209.2 289.6h1v1h-1zM204.4 294.3h1v1h-1zM214.4 299.4h1v1h-1zM203.9 294.8h1v1h-1zM208.3 296.2h1v1h-1zM209.6 289.4h1v1h-1zM205.3 301.9h1v1h-1zM215.7 299.7h1v1h-1zM197.7 294.2h1v1h-1zM214.6 285.7h1v1h-1zM203.8 281.5h1v1h-1zM215.6 283.5h1v1h-1zM217.7 273.4h1v1h-1zM208.3 299.7h1v1h-1zM217.3 293.5h1v1h-1zM204.6 299.0h1v1h-1zM206.3 280.5h1v1h-1zM213.4 307.6h1v1h-1zM214.1 290.9h1v1h-1zM201.5 283.3h1v1h-1zM206.1 287.5h1v1h-1zM212.7 293.6h1v1h-1zM215.4 295.1h1v1h-1zM205.1 292.3h1v1h-1zM207.4 301.4h1v1h-1zM229.4 291.8h1v1h-1zM215.5 291.9h1v1h-1zM203.9 290.1h1v1h-1zM203.5 293.9h1v1h-1zM209.6 291.8h1v1h-1zM199.7 291.3h1v1h-1zM206.7 284.3h1v1h-1zM212.8 301.5h1v1h-1zM220.2 290.8h1v1h-1zM208.3 274.8h1v1h-1zM215.9 284.2h1v1h-1zM201.0 301.2h1v1h-1zM212.9 296.6h1v1h-1zM201.3 286.8h1v1h-1zM219.6 285.6h1v1h-1zM213.2 288.2h1v1h-1zM206.0 291.8h1v1h-1zM200.8 279.8h1v1h-1zM206.3 301.5h1v1h-1zM213.4 285.5h1v1h-1zM217.1 297.6h1v1h-1zM197.8 304.3h1v1h-1zM218.8 296.1h1v1h-1zM205.7 286.9h1v1h-1zM208.2 289.3h1v1h-1zM207.8 292.2h1v1h-1zM213.9 294.7h1v1h-1zM202.4 309.6h1v1h-1zM202.0 298.8h1v1h-1zM216.4 276.9h1v1h-1zM216.5 289.9h1v1h-1zM212.5 297.3h1v1h-1zM211.5 293.4h1v1h-1zM202.2 294.2h1v1h-1zM212.9 299.9h1v1h-1zM216.4 284.5h1v1h-1zM205.8 291.0h1v1h-1zM206.7 281.2h1v1h-1zM220.6 283.7h1v1h-1zM223.3 297.3h1v1h-1zM212.5 280.0h1v1h-1zM202.8 281.9h1v1h-1zM210.4 294.8h1v1h-1zM209.6 262.1h1v1h-1zM196.8 290.1h1v1h-1zM209.8 289.7h1v1h-1zM238.4 263.4h1v1h-1zM203.5 285.7h1v1h-1zM207.7 286.7h1v1h-1zM208.3 299.9h1v1h-1zM208.4 286.5h1v1h-1zM209.5 290.5h1v1h-1zM213.7 268.4h1v1h-1zM203.2 305.9h1v1h-1zM223.9 276.6h1v1h-1zM197.3 274.6h1v1h-1zM195.3 277.0h1v1h-1zM215.2 295.8h1v1h-1zM205.7 283.2h1v1h-1zM202.1 282.3h1v1h-1zM213.5 277.4h1v1h-1zM217.4 286.9h1v1h-1zM206.1 278.7h1v1h-1zM213.4 287.1h1v1h-1zM228.4 305.9h1v1h-1zM247.5 295.0h1v1h-1zM238.0 304.5h1v1h-1zM240.7 291.1h1v1h-1zM231.7 295.9h1v1h-1zM219.1 290.4h1v1h-1zM239.0 295.0h1v1h-1zM228.7 298.1h1v1h-1zM227.2 301.5h1v1h-1zM229.6 298.0h1v1h-1zM236.4 299.1h1v1h-1zM245.5 295.2h1v1h-1zM233.3 296.4h1v1h-1zM234.0 303.8h1v1h-1zM234.6 286.0h1v1h-1zM237.0 302.3h1v1h-1zM246.0 300.3h1v1h-1zM235.8 294.3h1v1h-1zM230.4 299.9h1v1h-1zM228.0 297.0h1v1h-1zM233.1 298.8h1v1h-1zM222.2 306.0h1v1h-1zM237.2 298.4h1v1h-1zM228.5 299.9h1v1h-1zM244.6 298.3h1v1h-1zM239.5 292.6h1v1h-1zM239.9 298.4h1v1h-1zM223.7 302.6h1v1h-1zM240.9 305.6h1v1h-1zM235.4 291.3h1v1h-1zM240.2 286.6h1v1h-1zM236.2 293.6h1v1h-1zM224.0 300.8h1v1h-1zM229.9 302.7h1v1h-1zM235.6 294.3h1v1h-1zM233.9 298.9h1v1h-1zM233.3 296.0h1v1h-1zM223.6 297.6h1v1h-1zM236.6 295.2h1v1h-1zM228.3 299.7h1v1h-1zM240.9 278.2h1v1h-1zM232.4 299.0h1v1h-1zM237.8 293.1h1v1h-1zM230.6 306.8h1v1h-1zM237.4 305.4h1v1h-1zM234.2 299.9h1v1h-1zM229.0 299.4h1v1h-1zM239.7 309.7h1v1h-1zM236.6 298.2h1v1h-1zM236.1 307.3h1v1h-1zM243.3 287.4h1v1h-1zM232.1 310.3h1v1h-1zM228.6 290.2h1v1h-1zM233.9 305.1h1v1h-1zM233.7 285.8h1v1h-1zM233.9 293.7h1v1h-1zM222.8 279.9h1v1h-1zM232.4 289.4h1v1h-1zM229.6 299.3h1v1h-1zM230.9 288.8h1v1h-1zM237.9 298.7h1v1h-1zM232.9 299.5h1v1h-1zM232.1 303.1h1v1h-1zM235.2 293.9h1v1h-1zM234.4 301.6h1v1h-1zM228.8 303.0h1v1h-1zM234.7 297.4h1v1h-1zM232.7 289.6h1v1h-1zM229.4 297.4h1v1h-1zM245.4 303.5h1v1h-1zM230.2 288.9h1v1h-1zM230.2 307.3h1v1h-1zM235.5 283.9h1v1h-1zM226.7 287.0h1v1h-1zM238.7 302.3h1v1h-1zM231.7 307.7h1v1h-1zM227.6 301.7h1v1h-1zM234.4 291.6h1v1h-1zM236.3 308.6h1v1h-1zM232.1 292.0h1v1h-1zM220.2 295.1h1v1h-1zM223.9 295.1h1v1h-1zM231.7 292.7h1v1h-1zM237.9 304.0h1v1h-1zM231.9 296.0h1v1h-1zM232.0 289.1h1v1h-1zM231.0 303.0h1v1h-1zM243.1 293.7h1v1h-1zM231.6 296.1h1v1h-1zM241.0 300.3h1v1h-1zM228.1 296.9h1v1h-1zM244.0 294.6h1v1h-1zM233.2 299.9h1v1h-1zM230.1 295.0h1v1h-1zM227.3 287.5h1v1h-1zM243.2 300.5h1v1h-1zM231.0 297.6h1v1h-1zM239.3 291.4h1v1h-1zM241.8 305.6h1v1h-1zM221.1 296.1h1v1h-1zM245.3 307.1h1v1h-1zM233.2 298.9h1v1h-1zM236.7 298.8h1v1h-1zM240.7 300.9h1v1h-1zM232.8 293.6h1v1h-1zM232.2 289.4h1v1h-1zM233.3 296.9h1v1h-1zM215.9 282.3h1v1h-1zM234.3 273.3h1v1h-1zM229.6 277.4h1v1h-1zM210.0 275.1h1v1h-1zM218.0 283.9h1v1h-1zM228.1 273.6h1v1h-1zM231.3 265.1h1v1h-1zM230.9 272.3h1v1h-1zM226.8 278.6h1v1h-1zM228.4 267.5h1v1h-1zM221.6 275.3h1v1h-1zM214.2 253.1h1v1h-1zM212.8 272.6h1v1h-1zM196.1 274.2h1v1h-1zM221.5 273.8h1v1h-1zM230.1 270.4h1v1h-1zM219.6 289.2h1v1h-1zM219.9 272.0h1v1h-1zM221.0 272.3h1v1h-1zM239.9 279.4h1v1h-1zM218.2 273.1h1v1h-1zM224.4 273.2h1v1h-1zM252.9 264.8h1v1h-1zM226.0 277.6h1v1h-1zM218.6 282.8h1v1h-1zM203.7 271.1h1v1h-1zM234.4 280.0h1v1h-1zM225.8 269.8h1v1h-1zM227.0 271.8h1v1h-1zM239.0 275.4h1v1h-1zM209.6 270.2h1v1h-1zM216.4 273.2h1v1h-1zM212.4 281.3h1v1h-1zM213.7 275.5h1v1h-1zM203.2 270.0h1v1h-1zM219.6 275.5h1v1h-1zM213.9 281.3h1v1h-1zM238.1 287.1h1v1h-1zM227.9 277.4h1v1h-1zM239.4 264.5h1v1h-1zM243.4 278.4h1v1h-1zM235.8 270.7h1v1h-1zM230.6 265.9h1v1h-1zM228.8 270.9h1v1h-1zM249.7 279.5h1v1h-1zM230.7 264.2h1v1h-1zM225.0 275.6h1v1h-1zM239.9 263.7h1v1h-1zM230.8 253.4h1v1h-1zM230.2 270.8h1v1h-1zM245.7 273.1h1v1h-1zM236.4 270.5h1v1h-1zM255.5 278.0h1v1h-1zM230.6 257.5h1v1h-1zM241.7 282.8h1v1h-1zM240.2 269.3h1v1h-1zM236.4 278.4h1v1h-1zM247.3 273.5h1v1h-1zM246.5 279.2h1v1h-1zM233.6 258.5h1v1h-1zM250.8 270.2h1v1h-1zM231.6 264.9h1v1h-1zM237.0 270.0h1v1h-1zM235.9 272.4h1v1h-1z" fill="#000" fill-opacity="0.54"/>
<rect x="223.5" y="232.2" width="34.60000000000002" height="49.19999999999999" fill="none" stroke="#444" stroke-width="1"/>
<text x="250.8" y="230.8" font-size="10" text-anchor="start" >2</text>
<line x1="65.5" y1="360.70000000000005" x2="65.5" y2="458.8" stroke="#000" stroke-width="1.1" />
<line x1="65.0" y1="458.3" x2="163.1" y2="458.3" stroke="#000" stroke-width="1.1" />
<line x1="63.2" y1="458.3" x2="65.5" y2="458.3" stroke="#000" stroke-width="1" />
<line x1="65.5" y1="458.3" x2="65.5" y2="460.6" stroke="#000" stroke-width="1" />
<line x1="63.8" y1="450.9849711053653" x2="65.5" y2="450.9849711053653" stroke="#000" stroke-width="0.8" />
<line x1="72.81502889463474" y1="458.3" x2="72.81502889463474" y2="460.0" stroke="#000" stroke-width="0.8" />
<line x1="63.8" y1="446.7059535103122" x2="65.5" y2="446.7059535103122" stroke="#000" stroke-width="0.8" />
<line x1="77.0940464896878" y1="458.3" x2="77.0940464896878" y2="460.0" stroke="#000" stroke-width="0.8" />
<line x1="63.8" y1="443.66994221073054" x2="65.5" y2="443.66994221073054" stroke="#000" stroke-width="0.8" />
<line x1="80.13005778926949" y1="458.3" x2="80.13005778926949" y2="460.0" stroke="#000" stroke-width="0.8" />
<line x1="63.8" y1="441.31502889463474" x2="65.5" y2="441.31502889463474" stroke="#000" stroke-width="0.8" />
<line x1="82.48497110536526" y1="458.3" x2="82.48497110536526" y2="460.0" stroke="#000" stroke-width="0.8" />
<line x1="63.8" y1="439.3909246156775" x2="65.5" y2="439.3909246156775" stroke="#000" stroke-width="0.8" />
<line x1="84.40907538432253" y1="458.3" x2="84.40907538432253" y2="460.0" stroke="#000" stroke-width="0.8" />
<line x1="63.8" y1="437.76411762765355" x2="65.5" y2="437.76411762765355" stroke="#000" stroke-width="0.8" />
<line x1="86.03588237234644" y1="458.3" x2="86.03588237234644" y2="460.0" stroke="#000" stroke-width="0.8" />
<line x1="63.8" y1="436.3549133160958" x2="65.5" y2="436.3549133160958" stroke="#000" stroke-width="0.8" />
<line x1="87.44508668390424" y1="458.3" x2="87.44508668390424" y2="460.0" stroke="#000" stroke-width="0.8" />
<line x1="63.8" y1="435.1119070206244" x2="65.5" y2="435.1119070206244" stroke="#000" stroke-width="0.8" />
<line x1="88.6880929793756" y1="458.3" x2="88.6880929793756" y2="460.0" stroke="#000" stroke-width="0.8" />
<line x1="63.2" y1="434.0" x2="65.5" y2="434.0" stroke="#000" stroke-width="1" />
<line x1="89.8" y1="458.3" x2="89.8" y2="460.6" stroke="#000" stroke-width="1" />
<line x1="63.8" y1="426.68497110536526" x2="65.5" y2="426.68497110536526" stroke="#000" stroke-width="0.8" />
<line x1="97.11502889463475" y1="458.3" x2="97.11502889463475" y2="460.0" stroke="#000" stroke-width="0.8" />
<line x1="63.8" y1="422.4059535103122" x2="65.5" y2="422.4059535103122" stroke="#000" stroke-width="0.8" />
<line x1="101.3940464896878" y1="458.3" x2="101.3940464896878" y2="460.0" stroke="#000" stroke-width="0.8" />
<line x1="63.8" y1="419.3699422107305" x2="65.5" y2="419.3699422107305" stroke="#000" stroke-width="0.8" />
<line x1="104.43005778926948" y1="458.3" x2="104.43005778926948" y2="460.0" stroke="#000" stroke-width="0.8" />
<line x1="63.8" y1="417.0150288946347" x2="65.5" y2="417.0150288946347" stroke="#000" stroke-width="0.8" />
<line x1="106.78497110536526" y1="458.3" x2="106.78497110536526" y2="460.0" stroke="#000" stroke-width="0.8" />
<line x1="63.8" y1="415.09092461567747" x2="65.5" y2="415.09092461567747" stroke="#000" stroke-width="0.8" />
<line x1="108.70907538432255" y1="458.3" x2="108.70907538432255" y2="460.0" stroke="#000" stroke-width="0.8" />
<line x1="63.8" y1="413.46411762765354" x2="65.5" y2="413.46411762765354" stroke="#000" stroke-width="0.8" />
<line x1="110.33588237234645" y1="458.3" x2="110.33588237234645" y2="460.0" stroke="#000" stroke-width="0.8" />
<line x1="63.8" y1="412.0549133160958" x2="65.5" y2="412.0549133160958" stroke="#000" stroke-width="0.8" />
<line x1="111.74508668390422" y1="458.3" x2="111.74508668390422" y2="460.0" stroke="#000" stroke-width="0.8" />
<line x1="63.8" y1="410.8119070206244" x2="65.5" y2="410.8119070206244" stroke="#000" stroke-width="0.8" />
<line x1="112.9880929793756" y1="458.3" x2="112.9880929793756" y2="460.0" stroke="#000" stroke-width="0.8" />
<line x1="63.2" y1="409.7" x2="65.5" y2="409.7" stroke="#000" stroke-width="1" />
<line x1="114.1" y1="458.3" x2="114.1" y2="460.6" stroke="#000" stroke-width="1" />
<line x1="63.8" y1="402.38497110536525" x2="65.5" y2="402.38497110536525" stroke="#000" stroke-width="0.8" />
<line x1="121.41502889463473" y1="458.3" x2="121.41502889463473" y2="460.0" stroke="#000" stroke-width="0.8" />
<line x1="63.8" y1="398.1059535103122" x2="65.5" y2="398.1059535103122" stroke="#000" stroke-width="0.8" />
<line x1="125.69404648968779" y1="458.3" x2="125.69404648968779" y2="460.0" stroke="#000" stroke-width="0.8" />
<line x1="63.8" y1="395.0699422107305" x2="65.5" y2="395.0699422107305" stroke="#000" stroke-width="0.8" />
<line x1="128.7300577892695" y1="458.3" x2="128.7300577892695" y2="460.0" stroke="#000" stroke-width="0.8" />
<line x1="63.8" y1="392.7150288946347" x2="65.5" y2="392.7150288946347" stroke="#000" stroke-width="0.8" />
<line x1="131.08497110536524" y1="458.3" x2="131.08497110536524" y2="460.0" stroke="#000" stroke-width="0.8" />
<line x1="63.8" y1="390.79092461567745" x2="65.5" y2="390.79092461567745" stroke="#000" stroke-width="0.8" />
<line x1="133.00907538432253" y1="458.3" x2="133.00907538432253" y2="460.0" stroke="#000" stroke-width="0.8" />
<line x1="63.8" y1="389.1641176276535" x2="65.5" y2="389.1641176276535" stroke="#000" stroke-width="0.8" />
<line x1="134.63588237234643" y1="458.3" x2="134.63588237234643" y2="460.0" stroke="#000" stroke-width="0.8" />
<line x1="63.8" y1="387.7549133160958" x2="65.5" y2="387.7549133160958" stroke="#000" stroke-width="0.8" />
<line x1="136.04508668390423" y1="458.3" x2="136.04508668390423" y2="460.0" stroke="#000" stroke-width="0.8" />
<line x1="63.8" y1="386.5119070206244" x2="65.5" y2="386.5119070206244" stroke="#000" stroke-width="0.8" />
<line x1="137.2880929793756" y1="458.3" x2="137.2880929793756" y2="460.0" stroke="#000" stroke-width="0.8" />
<line x1="63.2" y1="385.4" x2="65.5" y2="385.4" stroke="#000" stroke-width="1" />
<line x1="138.4" y1="458.3" x2="138.4" y2="460.6" stroke="#000" stroke-width="1" />
<line x1="63.8" y1="378.08497110536524" x2="65.5" y2="378.08497110536524" stroke="#000" stroke-width="0.8" />
<line x1="145.71502889463474" y1="458.3" x2="145.71502889463474" y2="460.0" stroke="#000" stroke-width="0.8" />
<line x1="63.8" y1="373.8059535103122" x2="65.5" y2="373.8059535103122" stroke="#000" stroke-width="0.8" />
<line x1="149.9940464896878" y1="458.3" x2="149.9940464896878" y2="460.0" stroke="#000" stroke-width="0.8" />
<line x1="63.8" y1="370.7699422107305" x2="65.5" y2="370.7699422107305" stroke="#000" stroke-width="0.8" />
<line x1="153.0300577892695" y1="458.3" x2="153.0300577892695" y2="460.0" stroke="#000" stroke-width="0.8" />
<line x1="63.8" y1="368.4150288946347" x2="65.5" y2="368.4150288946347" stroke="#000" stroke-width="0.8" />
<line x1="155.38497110536525" y1="458.3" x2="155.38497110536525" y2="460.0" stroke="#000" stroke-width="0.8" />
<line x1="63.8" y1="366.49092461567744" x2="65.5" y2="366.49092461567744" stroke="#000" stroke-width="0.8" />
<line x1="157.30907538432254" y1="458.3" x2="157.30907538432254" y2="460.0" stroke="#000" stroke-width="0.8" />
<line x1="63.8" y1="364.8641176276535" x2="65.5" y2="364.8641176276535" stroke="#000" stroke-width="0.8" />
<line x1="158.93588237234644" y1="458.3" x2="158.93588237234644" y2="460.0" stroke="#000" stroke-width="0.8" />
<line x1="63.8" y1="363.45491331609577" x2="65.5" y2="363.45491331609577" stroke="#000" stroke-width="0.8" />
<line x1="160.34508668390424" y1="458.3" x2="160.34508668390424" y2="460.0" stroke="#000" stroke-width="0.8" />
<line x1="63.8" y1="362.2119070206244" x2="65.5" y2="362.2119070206244" stroke="#000" stroke-width="0.8" />
<line x1="161.5880929793756" y1="458.3" x2="161.5880929793756" y2="460.0" stroke="#000" stroke-width="0.8" />
<line x1="63.2" y1="361.1" x2="65.5" y2="361.1" stroke="#000" stroke-width="1" />
<line x1="162.7" y1="458.3" x2="162.7" y2="460.6" stroke="#000" stroke-width="1" />
<text x="0" y="0" font-size="7.8" text-anchor="middle" transform="translate(60.7,458.3) rotate(-90)">10<tspan font-size="5.3" dy="-3.4">0</tspan></text>
<text x="67.30" y="471.8" font-size="7.8" text-anchor="middle">10<tspan font-size="5.3" dy="-3.4">0</tspan></text>
<text x="0" y="0" font-size="7.8" text-anchor="middle" transform="translate(60.7,434.0) rotate(-90)">10<tspan font-size="5.3" dy="-3.4">1</tspan></text>
<text x="91.30" y="471.8" font-size="7.8" text-anchor="middle">10<tspan font-size="5.3" dy="-3.4">1</tspan></text>
<text x="0" y="0" font-size="7.8" text-anchor="middle" transform="translate(60.7,409.7) rotate(-90)">10<tspan font-size="5.3" dy="-3.4">2</tspan></text>
<text x="115.30" y="471.8" font-size="7.8" text-anchor="middle">10<tspan font-size="5.3" dy="-3.4">2</tspan></text>
<text x="0" y="0" font-size="7.8" text-anchor="middle" transform="translate(60.7,385.4) rotate(-90)">10<tspan font-size="5.3" dy="-3.4">3</tspan></text>
<text x="139.30" y="471.8" font-size="7.8" text-anchor="middle">10<tspan font-size="5.3" dy="-3.4">3</tspan></text>
<text x="0" y="0" font-size="7.8" text-anchor="middle" transform="translate(60.7,361.1) rotate(-90)">10<tspan font-size="5.3" dy="-3.4">4</tspan></text>
<text x="163.30" y="471.8" font-size="7.8" text-anchor="middle">10<tspan font-size="5.3" dy="-3.4">4</tspan></text>
<path d="M83.4 436.8h1v1h-1zM85.5 447.3h1v1h-1zM86.3 432.5h1v1h-1zM79.6 439.3h1v1h-1zM78.4 449.0h1v1h-1zM81.9 447.9h1v1h-1zM83.7 447.5h1v1h-1zM81.7 431.6h1v1h-1zM82.2 433.4h1v1h-1zM79.3 446.0h1v1h-1zM92.1 447.0h1v1h-1zM88.7 435.8h1v1h-1zM88.2 435.7h1v1h-1zM96.9 445.4h1v1h-1zM67.3 442.8h1v1h-1zM84.9 444.4h1v1h-1zM100.0 434.6h1v1h-1zM98.8 442.4h1v1h-1zM91.4 447.7h1v1h-1zM87.7 440.2h1v1h-1zM92.0 448.7h1v1h-1zM67.3 426.0h1v1h-1zM106.1 441.5h1v1h-1zM83.4 441.5h1v1h-1zM84.5 435.9h1v1h-1zM81.3 423.3h1v1h-1zM82.6 450.2h1v1h-1zM72.5 448.9h1v1h-1zM87.3 440.2h1v1h-1zM95.0 437.4h1v1h-1zM95.4 446.9h1v1h-1zM88.9 441.8h1v1h-1zM89.4 436.7h1v1h-1zM88.8 445.8h1v1h-1zM73.2 439.0h1v1h-1zM79.6 441.9h1v1h-1zM91.4 434.8h1v1h-1zM84.8 440.0h1v1h-1zM92.4 438.6h1v1h-1zM81.1 439.7h1v1h-1zM80.0 454.2h1v1h-1zM80.5 441.7h1v1h-1zM81.2 450.8h1v1h-1zM72.9 429.8h1v1h-1zM82.0 437.2h1v1h-1zM76.3 441.4h1v1h-1zM83.6 436.3h1v1h-1zM80.0 452.6h1v1h-1zM93.1 449.9h1v1h-1zM83.9 442.3h1v1h-1zM78.7 441.2h1v1h-1zM79.8 450.7h1v1h-1zM72.6 434.2h1v1h-1zM74.7 439.5h1v1h-1zM86.9 450.8h1v1h-1zM82.2 438.1h1v1h-1zM81.7 447.0h1v1h-1zM81.7 454.9h1v1h-1zM86.2 452.6h1v1h-1zM82.5 432.8h1v1h-1zM106.2 439.4h1v1h-1zM74.3 434.9h1v1h-1zM82.1 433.8h1v1h-1zM85.5 439.3h1v1h-1zM74.4 437.1h1v1h-1zM85.7 443.3h1v1h-1zM97.6 437.2h1v1h-1zM88.4 431.0h1v1h-1zM83.3 434.1h1v1h-1zM90.9 444.5h1v1h-1zM84.7 440.2h1v1h-1zM94.4 442.1h1v1h-1zM95.2 448.4h1v1h-1zM87.9 434.1h1v1h-1zM92.1 439.2h1v1h-1zM92.6 438.3h1v1h-1zM79.9 442.9h1v1h-1zM70.4 439.5h1v1h-1zM89.1 428.2h1v1h-1zM91.3 444.7h1v1h-1zM85.0 442.5h1v1h-1zM86.0 448.3h1v1h-1zM92.1 440.5h1v1h-1zM99.9 443.4h1v1h-1zM91.4 438.6h1v1h-1zM97.5 434.0h1v1h-1zM89.4 440.9h1v1h-1zM77.6 432.2h1v1h-1zM96.5 432.0h1v1h-1zM95.7 440.3h1v1h-1zM80.4 424.9h1v1h-1zM96.4 431.2h1v1h-1zM85.2 441.4h1v1h-1zM98.6 454.5h1v1h-1zM87.9 444.0h1v1h-1zM98.4 434.1h1v1h-1zM96.4 446.5h1v1h-1zM89.7 453.3h1v1h-1zM85.7 438.1h1v1h-1zM80.0 441.1h1v1h-1zM97.0 442.7h1v1h-1zM95.0 427.3h1v1h-1zM79.8 443.3h1v1h-1zM81.5 443.1h1v1h-1zM81.0 450.7h1v1h-1zM83.8 442.8h1v1h-1zM78.6 436.9h1v1h-1zM86.4 430.9h1v1h-1zM96.5 439.8h1v1h-1zM84.2 429.7h1v1h-1zM85.7 448.1h1v1h-1zM87.3 430.1h1v1h-1zM79.0 433.9h1v1h-1zM94.5 443.9h1v1h-1zM94.1 437.9h1v1h-1zM84.5 440.7h1v1h-1zM76.4 438.6h1v1h-1zM82.4 433.6h1v1h-1zM93.6 444.4h1v1h-1zM78.2 449.2h1v1h-1zM102.2 441.9h1v1h-1zM96.5 437.0h1v1h-1zM99.6 442.6h1v1h-1zM75.2 438.6h1v1h-1zM66.8 432.4h1v1h-1zM85.7 453.0h1v1h-1zM70.2 434.2h1v1h-1zM77.2 444.2h1v1h-1zM73.5 453.7h1v1h-1zM87.4 424.2h1v1h-1zM82.2 440.1h1v1h-1zM86.2 431.5h1v1h-1zM87.4 439.4h1v1h-1zM86.5 446.0h1v1h-1zM85.9 444.6h1v1h-1zM78.5 433.2h1v1h-1zM72.3 438.6h1v1h-1zM88.6 438.8h1v1h-1zM102.5 432.5h1v1h-1zM75.7 425.5h1v1h-1zM81.3 437.2h1v1h-1zM89.5 433.2h1v1h-1zM77.9 442.2h1v1h-1zM84.8 446.7h1v1h-1zM85.2 442.4h1v1h-1zM77.3 431.8h1v1h-1zM87.1 441.0h1v1h-1zM102.2 436.6h1v1h-1zM76.1 439.6h1v1h-1zM92.2 431.6h1v1h-1zM89.1 434.5h1v1h-1zM86.6 437.6h1v1h-1zM75.9 437.8h1v1h-1zM75.7 432.9h1v1h-1zM92.3 436.2h1v1h-1zM83.3 436.7h1v1h-1zM96.6 438.8h1v1h-1zM72.8 438.7h1v1h-1zM87.1 423.6h1v1h-1zM87.5 450.7h1v1h-1zM84.6 445.7h1v1h-1zM79.2 436.8h1v1h-1zM83.5 450.2h1v1h-1zM84.4 443.5h1v1h-1zM79.1 442.8h1v1h-1zM89.3 437.5h1v1h-1zM94.7 453.0h1v1h-1zM81.6 428.8h1v1h-1zM96.1 444.0h1v1h-1zM97.1 439.9h1v1h-1zM94.4 439.8h1v1h-1zM79.5 442.1h1v1h-1zM82.4 420.3h1v1h-1zM86.4 429.1h1v1h-1zM85.3 440.5h1v1h-1zM111.2 440.0h1v1h-1zM87.3 433.3h1v1h-1zM101.3 430.2h1v1h-1zM101.5 445.8h1v1h-1zM83.8 429.0h1v1h-1zM95.2 432.2h1v1h-1zM78.4 439.4h1v1h-1zM77.2 440.5h1v1h-1zM97.2 438.8h1v1h-1zM103.3 437.7h1v1h-1zM92.1 450.8h1v1h-1zM76.0 447.2h1v1h-1zM81.5 446.0h1v1h-1zM100.1 439.2h1v1h-1zM75.3 436.3h1v1h-1zM85.9 453.7h1v1h-1zM93.5 440.2h1v1h-1zM85.0 451.5h1v1h-1zM77.6 448.8h1v1h-1zM101.1 442.7h1v1h-1zM88.1 436.7h1v1h-1zM89.1 445.1h1v1h-1zM84.6 437.8h1v1h-1zM89.2 441.0h1v1h-1zM79.1 433.0h1v1h-1zM74.3 439.3h1v1h-1zM77.9 440.1h1v1h-1zM89.5 434.9h1v1h-1zM76.0 445.9h1v1h-1zM87.9 446.3h1v1h-1zM87.3 435.6h1v1h-1zM92.9 445.4h1v1h-1zM88.7 447.4h1v1h-1zM89.3 439.1h1v1h-1zM84.3 432.0h1v1h-1zM83.9 442.1h1v1h-1zM88.7 442.2h1v1h-1zM88.1 433.0h1v1h-1zM102.1 438.4h1v1h-1zM81.7 447.8h1v1h-1zM78.5 436.0h1v1h-1zM88.6 435.1h1v1h-1zM89.3 432.9h1v1h-1zM73.7 436.0h1v1h-1zM85.9 443.1h1v1h-1zM82.1 442.5h1v1h-1zM81.3 441.0h1v1h-1zM100.2 431.8h1v1h-1zM81.5 443.7h1v1h-1zM82.5 441.3h1v1h-1zM92.3 439.1h1v1h-1zM80.6 436.8h1v1h-1zM90.3 433.6h1v1h-1zM77.3 447.5h1v1h-1zM84.4 429.9h1v1h-1zM98.1 441.6h1v1h-1zM88.5 441.5h1v1h-1zM82.4 439.1h1v1h-1zM90.8 434.1h1v1h-1zM85.2 441.4h1v1h-1zM92.4 421.7h1v1h-1zM88.7 430.9h1v1h-1zM102.8 430.6h1v1h-1zM95.0 432.6h1v1h-1zM71.9 437.2h1v1h-1zM89.2 451.7h1v1h-1zM98.8 446.6h1v1h-1zM96.2 417.1h1v1h-1zM91.7 437.6h1v1h-1zM103.1 429.6h1v1h-1zM96.0 441.3h1v1h-1zM99.3 445.7h1v1h-1zM75.4 426.0h1v1h-1zM80.3 431.3h1v1h-1zM73.6 455.5h1v1h-1zM98.9 440.1h1v1h-1zM73.3 435.0h1v1h-1zM93.2 425.9h1v1h-1zM89.4 445.1h1v1h-1zM95.3 440.5h1v1h-1zM123.3 448.4h1v1h-1zM73.3 443.7h1v1h-1zM80.1 445.1h1v1h-1zM104.2 438.7h1v1h-1zM77.9 417.5h1v1h-1zM101.7 423.2h1v1h-1zM90.5 441.3h1v1h-1zM100.9 411.0h1v1h-1zM84.1 445.7h1v1h-1zM106.5 449.5h1v1h-1zM70.2 445.7h1v1h-1zM114.4 439.1h1v1h-1zM93.7 454.9h1v1h-1zM78.9 440.4h1v1h-1zM98.7 436.9h1v1h-1zM100.7 423.5h1v1h-1zM77.2 435.8h1v1h-1zM76.9 447.6h1v1h-1zM75.4 432.2h1v1h-1zM84.2 439.5h1v1h-1zM77.8 442.2h1v1h-1zM75.8 450.1h1v1h-1zM87.4 430.8h1v1h-1zM89.7 444.0h1v1h-1zM73.0 436.8h1v1h-1zM82.1 435.2h1v1h-1zM90.7 431.5h1v1h-1zM77.6 431.8h1v1h-1zM83.8 446.3h1v1h-1zM101.8 423.6h1v1h-1zM81.5 436.5h1v1h-1zM72.1 451.8h1v1h-1zM75.1 440.4h1v1h-1zM91.8 429.3h1v1h-1zM108.6 381.4h1v1h-1zM112.7 441.2h1v1h-1zM108.3 446.3h1v1h-1zM110.1 442.1h1v1h-1zM106.4 449.9h1v1h-1zM103.3 414.4h1v1h-1zM108.6 419.1h1v1h-1zM110.7 412.8h1v1h-1zM111.2 404.9h1v1h-1zM114.1 416.8h1v1h-1zM114.2 429.2h1v1h-1zM116.4 427.6h1v1h-1zM128.3 435.8h1v1h-1zM120.9 435.7h1v1h-1zM108.5 429.4h1v1h-1zM117.6 420.8h1v1h-1zM116.4 427.3h1v1h-1zM106.3 412.1h1v1h-1zM109.5 427.3h1v1h-1zM119.3 449.8h1v1h-1zM106.8 422.5h1v1h-1zM115.8 403.1h1v1h-1zM114.1 416.3h1v1h-1zM114.5 407.9h1v1h-1zM123.3 438.5h1v1h-1zM124.0 444.0h1v1h-1zM119.5 414.1h1v1h-1zM115.5 434.3h1v1h-1zM113.7 434.0h1v1h-1zM112.9 431.5h1v1h-1zM109.3 427.6h1v1h-1zM108.3 441.5h1v1h-1zM117.1 441.0h1v1h-1zM116.2 454.7h1v1h-1zM128.3 424.8h1v1h-1zM107.1 433.8h1v1h-1zM115.6 443.2h1v1h-1zM121.3 437.7h1v1h-1zM116.0 418.5h1v1h-1zM122.6 421.5h1v1h-1zM100.6 434.6h1v1h-1zM111.8 418.0h1v1h-1zM119.3 441.6h1v1h-1zM107.0 428.4h1v1h-1zM120.7 420.6h1v1h-1zM106.9 434.9h1v1h-1zM107.0 430.8h1v1h-1zM123.5 432.1h1v1h-1zM113.5 426.6h1v1h-1zM115.7 450.8h1v1h-1zM107.0 418.5h1v1h-1zM107.9 439.1h1v1h-1zM113.2 424.8h1v1h-1zM116.7 449.9h1v1h-1zM132.5 419.0h1v1h-1zM113.9 436.2h1v1h-1zM111.5 419.1h1v1h-1zM112.0 429.4h1v1h-1zM112.9 426.7h1v1h-1zM120.8 410.5h1v1h-1zM111.7 414.5h1v1h-1zM119.0 410.1h1v1h-1zM114.2 417.1h1v1h-1zM110.9 422.7h1v1h-1zM116.5 416.2h1v1h-1zM120.1 446.0h1v1h-1zM113.6 431.2h1v1h-1zM119.9 442.5h1v1h-1zM116.0 432.7h1v1h-1zM108.8 423.2h1v1h-1zM123.2 446.1h1v1h-1zM111.7 424.2h1v1h-1zM114.3 428.2h1v1h-1zM125.3 412.5h1v1h-1zM106.9 412.3h1v1h-1zM119.5 444.5h1v1h-1zM121.5 422.7h1v1h-1zM121.3 428.1h1v1h-1zM116.1 433.0h1v1h-1zM115.4 421.2h1v1h-1zM120.6 444.2h1v1h-1zM116.6 420.9h1v1h-1zM117.9 429.6h1v1h-1zM122.9 437.9h1v1h-1zM114.8 437.7h1v1h-1zM117.8 430.9h1v1h-1zM123.4 439.7h1v1h-1zM120.6 425.8h1v1h-1zM128.1 427.7h1v1h-1zM108.3 440.7h1v1h-1zM124.3 419.4h1v1h-1zM107.4 447.4h1v1h-1zM114.4 437.7h1v1h-1zM116.8 430.4h1v1h-1zM114.8 428.4h1v1h-1zM108.1 429.8h1v1h-1zM121.2 404.2h1v1h-1zM116.9 444.8h1v1h-1zM98.9 410.9h1v1h-1zM107.0 443.3h1v1h-1zM112.3 444.3h1v1h-1zM130.9 426.5h1v1h-1zM110.5 410.1h1v1h-1zM112.3 410.3h1v1h-1zM113.5 436.6h1v1h-1zM114.4 441.4h1v1h-1zM108.8 423.9h1v1h-1zM110.1 437.0h1v1h-1zM117.6 439.1h1v1h-1zM121.8 436.2h1v1h-1zM118.4 411.9h1v1h-1zM115.1 451.4h1v1h-1zM132.6 445.9h1v1h-1zM121.0 430.5h1v1h-1zM119.5 436.3h1v1h-1zM107.1 406.6h1v1h-1zM119.7 437.8h1v1h-1z" fill="#000" fill-opacity="0.2"/>
<path d="M90.0 438.5h1v1h-1zM83.7 450.2h1v1h-1zM75.3 445.8h1v1h-1zM74.1 436.1h1v1h-1zM89.1 443.6h1v1h-1zM86.6 445.2h1v1h-1zM87.8 443.6h1v1h-1zM85.9 452.8h1v1h-1zM82.7 441.1h1v1h-1zM73.3 452.7h1v1h-1zM94.4 447.7h1v1h-1zM100.4 435.4h1v1h-1zM90.2 440.6h1v1h-1zM102.1 437.9h1v1h-1zM85.4 443.5h1v1h-1zM93.2 433.3h1v1h-1zM90.8 435.9h1v1h-1zM84.5 442.5h1v1h-1zM76.3 440.7h1v1h-1zM87.9 435.2h1v1h-1zM84.6 438.7h1v1h-1zM82.1 440.1h1v1h-1zM78.1 445.6h1v1h-1zM77.7 444.0h1v1h-1zM80.8 432.8h1v1h-1zM80.5 440.7h1v1h-1zM103.6 429.9h1v1h-1zM93.7 429.4h1v1h-1zM89.3 430.2h1v1h-1zM70.2 436.5h1v1h-1zM82.4 433.5h1v1h-1zM77.6 435.0h1v1h-1zM77.4 438.1h1v1h-1zM75.6 445.6h1v1h-1zM78.8 438.3h1v1h-1zM70.0 436.5h1v1h-1zM85.9 427.3h1v1h-1zM70.3 441.7h1v1h-1zM81.0 442.4h1v1h-1zM66.6 435.0h1v1h-1zM86.8 442.5h1v1h-1zM87.3 443.9h1v1h-1zM91.7 433.2h1v1h-1zM92.1 441.5h1v1h-1zM74.5 438.7h1v1h-1zM94.6 444.7h1v1h-1zM88.5 436.5h1v1h-1zM91.1 438.7h1v1h-1zM90.1 440.2h1v1h-1zM85.3 431.9h1v1h-1zM94.1 434.5h1v1h-1zM81.2 439.3h1v1h-1zM83.6 444.5h1v1h-1zM81.8 451.1h1v1h-1zM97.3 441.0h1v1h-1zM72.8 441.7h1v1h-1zM94.6 443.7h1v1h-1zM85.4 449.3h1v1h-1zM85.7 444.7h1v1h-1zM85.4 434.5h1v1h-1zM74.1 440.3h1v1h-1zM83.8 438.1h1v1h-1zM93.0 426.8h1v1h-1zM96.6 428.9h1v1h-1zM97.8 432.7h1v1h-1zM87.3 445.3h1v1h-1zM82.0 429.9h1v1h-1zM90.3 428.1h1v1h-1zM90.2 436.0h1v1h-1zM86.6 440.4h1v1h-1zM88.7 435.3h1v1h-1zM90.5 450.3h1v1h-1zM99.4 446.1h1v1h-1zM85.3 431.0h1v1h-1zM80.1 435.4h1v1h-1zM76.4 428.2h1v1h-1zM84.7 437.8h1v1h-1zM84.7 445.5h1v1h-1zM87.6 443.1h1v1h-1zM110.8 437.0h1v1h-1zM88.3 443.0h1v1h-1zM84.3 442.7h1v1h-1zM88.7 442.3h1v1h-1zM92.4 431.5h1v1h-1zM88.2 441.1h1v1h-1zM83.3 436.9h1v1h-1zM79.7 438.8h1v1h-1zM80.5 439.5h1v1h-1zM94.8 431.9h1v1h-1zM88.4 448.1h1v1h-1zM76.9 435.4h1v1h-1zM84.3 436.8h1v1h-1zM85.6 446.1h1v1h-1zM80.3 446.5h1v1h-1zM84.1 443.5h1v1h-1zM80.7 446.3h1v1h-1zM83.7 425.3h1v1h-1zM91.3 440.2h1v1h-1zM83.3 443.7h1v1h-1zM86.2 450.7h1v1h-1zM93.1 430.0h1v1h-1zM80.2 432.8h1v1h-1zM85.7 427.2h1v1h-1zM86.0 435.6h1v1h-1zM75.4 448.6h1v1h-1zM97.5 447.2h1v1h-1zM84.8 441.8h1v1h-1zM72.4 439.5h1v1h-1zM88.0 445.4h1v1h-1zM84.7 436.1h1v1h-1zM83.9 435.8h1v1h-1zM85.6 439.1h1v1h-1zM75.4 427.0h1v1h-1zM87.1 431.9h1v1h-1zM96.0 455.5h1v1h-1zM77.0 433.5h1v1h-1zM86.1 436.2h1v1h-1zM96.5 445.9h1v1h-1zM88.9 438.4h1v1h-1zM78.1 427.8h1v1h-1zM87.1 436.7h1v1h-1zM83.0 444.0h1v1h-1zM75.1 445.4h1v1h-1zM85.9 439.9h1v1h-1zM95.8 449.4h1v1h-1zM89.8 440.6h1v1h-1zM95.0 444.0h1v1h-1zM93.6 445.6h1v1h-1zM72.2 455.0h1v1h-1zM83.1 430.8h1v1h-1zM85.6 447.5h1v1h-1zM82.8 438.8h1v1h-1zM86.3 427.2h1v1h-1zM84.7 435.5h1v1h-1zM84.9 439.2h1v1h-1zM87.8 444.1h1v1h-1zM96.2 426.0h1v1h-1zM71.1 444.4h1v1h-1zM84.1 435.9h1v1h-1zM91.8 442.6h1v1h-1zM93.9 453.3h1v1h-1zM80.3 441.7h1v1h-1zM79.6 437.6h1v1h-1zM87.1 438.2h1v1h-1zM111.2 437.5h1v1h-1zM81.1 438.2h1v1h-1zM82.0 438.9h1v1h-1zM83.2 440.6h1v1h-1zM82.9 442.6h1v1h-1zM83.4 441.0h1v1h-1zM77.7 440.6h1v1h-1zM78.8 439.1h1v1h-1zM94.3 429.5h1v1h-1zM88.6 432.2h1v1h-1zM90.2 443.4h1v1h-1zM95.3 440.7h1v1h-1zM93.4 437.0h1v1h-1zM94.1 452.5h1v1h-1zM91.0 441.2h1v1h-1zM90.1 444.2h1v1h-1zM86.6 451.4h1v1h-1zM82.2 438.3h1v1h-1zM91.4 439.3h1v1h-1zM72.1 445.6h1v1h-1zM76.2 424.5h1v1h-1zM76.6 435.5h1v1h-1zM100.2 438.0h1v1h-1zM84.0 442.8h1v1h-1zM75.7 432.8h1v1h-1zM97.6 445.5h1v1h-1zM82.1 441.1h1v1h-1zM84.7 454.3h1v1h-1zM76.2 432.1h1v1h-1zM87.2 433.8h1v1h-1zM98.7 439.6h1v1h-1zM80.2 450.7h1v1h-1zM88.4 436.8h1v1h-1zM93.3 436.1h1v1h-1zM76.4 438.5h1v1h-1zM76.8 437.1h1v1h-1zM88.2 440.0h1v1h-1zM97.3 436.2h1v1h-1zM98.4 434.1h1v1h-1zM77.1 447.2h1v1h-1zM76.9 438.7h1v1h-1zM84.2 446.8h1v1h-1zM95.4 438.9h1v1h-1zM85.0 432.8h1v1h-1zM93.8 441.2h1v1h-1zM82.9 438.7h1v1h-1zM84.1 440.4h1v1h-1zM86.2 446.3h1v1h-1zM83.1 436.5h1v1h-1zM100.9 440.5h1v1h-1zM77.7 442.6h1v1h-1zM107.6 433.6h1v1h-1zM83.0 421.9h1v1h-1zM94.3 439.0h1v1h-1zM83.4 437.1h1v1h-1zM98.9 441.6h1v1h-1zM88.0 434.1h1v1h-1zM94.0 423.0h1v1h-1zM82.3 443.7h1v1h-1zM92.9 422.4h1v1h-1zM95.4 437.5h1v1h-1zM78.6 438.9h1v1h-1zM79.4 455.2h1v1h-1zM93.5 440.7h1v1h-1zM88.5 429.8h1v1h-1zM86.6 432.0h1v1h-1zM72.6 435.2h1v1h-1zM76.9 440.3h1v1h-1zM87.4 433.2h1v1h-1zM68.4 435.5h1v1h-1zM87.9 448.1h1v1h-1zM78.1 446.4h1v1h-1zM76.5 448.9h1v1h-1zM92.5 439.9h1v1h-1zM103.0 440.4h1v1h-1zM94.2 427.1h1v1h-1zM68.2 453.6h1v1h-1zM79.3 443.2h1v1h-1zM81.8 451.3h1v1h-1zM80.4 440.0h1v1h-1zM82.7 436.5h1v1h-1zM81.4 438.0h1v1h-1zM76.0 437.1h1v1h-1zM86.9 439.5h1v1h-1zM96.9 438.1h1v1h-1zM94.5 434.2h1v1h-1zM77.1 444.8h1v1h-1zM91.0 443.4h1v1h-1zM67.3 437.0h1v1h-1zM78.8 448.3h1v1h-1zM87.4 441.7h1v1h-1zM96.9 435.2h1v1h-1zM90.4 446.1h1v1h-1zM76.2 451.5h1v1h-1zM93.2 438.6h1v1h-1zM90.4 449.3h1v1h-1zM83.5 435.6h1v1h-1zM96.0 431.2h1v1h-1zM83.4 440.2h1v1h-1zM73.0 436.0h1v1h-1zM76.0 439.7h1v1h-1zM84.8 439.4h1v1h-1zM77.4 442.2h1v1h-1zM95.8 440.7h1v1h-1zM90.3 441.4h1v1h-1zM84.5 425.8h1v1h-1zM78.1 430.5h1v1h-1zM70.5 439.0h1v1h-1zM83.3 446.1h1v1h-1zM98.1 438.3h1v1h-1zM102.4 444.4h1v1h-1zM96.2 439.1h1v1h-1zM103.3 434.4h1v1h-1zM86.4 435.4h1v1h-1zM99.0 439.7h1v1h-1zM76.2 444.3h1v1h-1zM96.9 428.7h1v1h-1zM79.8 430.8h1v1h-1zM79.5 428.7h1v1h-1zM95.5 432.6h1v1h-1zM79.2 444.9h1v1h-1zM100.7 429.2h1v1h-1zM108.7 447.3h1v1h-1zM81.7 429.9h1v1h-1zM92.6 446.5h1v1h-1zM94.6 445.7h1v1h-1zM101.7 446.3h1v1h-1zM90.7 437.5h1v1h-1zM101.5 435.8h1v1h-1zM92.2 437.6h1v1h-1zM81.0 432.9h1v1h-1zM71.7 439.2h1v1h-1zM88.9 431.8h1v1h-1zM80.1 439.2h1v1h-1zM67.7 428.9h1v1h-1zM94.5 433.4h1v1h-1zM67.5 425.6h1v1h-1zM85.0 439.3h1v1h-1zM69.0 448.0h1v1h-1zM68.6 431.3h1v1h-1zM93.0 436.9h1v1h-1zM89.8 431.2h1v1h-1zM97.8 433.6h1v1h-1zM78.3 423.1h1v1h-1zM76.2 441.9h1v1h-1zM68.2 442.1h1v1h-1zM89.6 432.7h1v1h-1zM82.8 433.8h1v1h-1zM69.7 444.7h1v1h-1zM83.6 446.1h1v1h-1zM68.0 443.9h1v1h-1zM87.4 446.8h1v1h-1zM96.0 456.5h1v1h-1zM109.9 445.6h1v1h-1zM68.5 419.8h1v1h-1zM69.7 425.3h1v1h-1zM80.3 422.7h1v1h-1zM92.1 432.6h1v1h-1zM82.9 418.9h1v1h-1zM96.6 430.1h1v1h-1zM85.2 453.5h1v1h-1zM94.4 437.5h1v1h-1zM85.8 423.8h1v1h-1zM84.2 442.5h1v1h-1zM77.6 422.6h1v1h-1zM78.0 445.4h1v1h-1zM83.8 433.6h1v1h-1zM95.5 443.4h1v1h-1zM110.8 425.3h1v1h-1zM110.5 423.2h1v1h-1zM111.2 422.8h1v1h-1zM123.0 452.5h1v1h-1zM112.7 449.6h1v1h-1zM124.4 417.9h1v1h-1zM110.6 419.2h1v1h-1zM111.8 420.3h1v1h-1zM118.7 432.4h1v1h-1zM117.4 449.4h1v1h-1zM105.2 395.6h1v1h-1zM116.3 433.3h1v1h-1zM106.4 436.6h1v1h-1zM120.3 415.4h1v1h-1zM119.9 447.4h1v1h-1zM107.0 430.1h1v1h-1zM110.0 451.3h1v1h-1zM117.8 436.2h1v1h-1zM113.5 410.1h1v1h-1zM110.5 435.5h1v1h-1zM116.7 432.9h1v1h-1zM101.9 413.6h1v1h-1zM124.8 432.5h1v1h-1zM120.8 441.2h1v1h-1zM110.5 434.5h1v1h-1zM119.5 423.9h1v1h-1zM113.5 444.3h1v1h-1zM112.9 419.0h1v1h-1zM114.9 412.4h1v1h-1zM114.1 416.7h1v1h-1zM115.5 431.8h1v1h-1zM115.7 426.1h1v1h-1zM127.2 429.8h1v1h-1zM111.5 434.6h1v1h-1zM108.4 427.1h1v1h-1zM104.1 439.3h1v1h-1zM109.5 414.9h1v1h-1zM103.5 415.3h1v1h-1zM114.0 421.1h1v1h-1zM115.1 411.4h1v1h-1zM121.2 424.8h1v1h-1zM116.3 445.4h1v1h-1zM114.9 419.6h1v1h-1zM121.1 427.3h1v1h-1zM117.5 448.5h1v1h-1zM113.2 432.3h1v1h-1zM116.6 421.9h1v1h-1zM110.1 432.9h1v1h-1zM116.9 437.4h1v1h-1zM122.8 455.2h1v1h-1zM118.4 439.0h1v1h-1zM124.0 424.4h1v1h-1zM119.0 419.3h1v1h-1zM122.5 407.3h1v1h-1zM118.5 421.3h1v1h-1zM113.6 422.8h1v1h-1zM118.6 405.1h1v1h-1zM112.5 423.6h1v1h-1zM109.2 416.6h1v1h-1zM122.0 420.8h1v1h-1zM113.6 406.0h1v1h-1zM106.3 419.7h1v1h-1zM120.5 418.4h1v1h-1zM119.4 427.5h1v1h-1zM112.5 439.1h1v1h-1zM106.5 442.3h1v1h-1zM114.0 448.9h1v1h-1zM114.1 434.1h1v1h-1zM108.0 420.2h1v1h-1zM125.1 430.5h1v1h-1zM114.5 451.8h1v1h-1zM104.4 411.4h1v1h-1zM118.3 440.3h1v1h-1zM122.9 403.8h1v1h-1zM120.6 429.6h1v1h-1zM121.8 427.2h1v1h-1zM119.7 413.7h1v1h-1zM115.4 435.8h1v1h-1zM118.7 447.3h1v1h-1zM120.0 423.0h1v1h-1zM121.5 430.3h1v1h-1zM121.8 441.8h1v1h-1zM107.0 411.0h1v1h-1zM118.3 440.5h1v1h-1zM118.8 416.5h1v1h-1zM110.6 426.5h1v1h-1zM120.0 437.6h1v1h-1zM113.4 425.9h1v1h-1zM121.3 444.0h1v1h-1zM119.2 438.4h1v1h-1zM117.7 429.0h1v1h-1z" fill="#000" fill-opacity="0.35"/>
<path d="M87.8 438.6h1v1h-1zM78.9 443.5h1v1h-1zM91.0 438.7h1v1h-1zM92.8 446.5h1v1h-1zM97.7 442.6h1v1h-1zM73.9 452.1h1v1h-1zM83.4 447.1h1v1h-1zM81.1 433.9h1v1h-1zM89.3 441.8h1v1h-1zM90.8 449.4h1v1h-1zM76.6 452.9h1v1h-1zM76.9 433.6h1v1h-1zM78.0 447.1h1v1h-1zM97.7 446.4h1v1h-1zM91.1 434.9h1v1h-1zM85.9 444.8h1v1h-1zM101.8 436.7h1v1h-1zM77.7 433.5h1v1h-1zM78.3 442.9h1v1h-1zM80.3 437.4h1v1h-1zM79.9 432.9h1v1h-1zM88.7 445.5h1v1h-1zM102.0 443.9h1v1h-1zM79.5 436.9h1v1h-1zM78.1 446.6h1v1h-1zM80.9 438.5h1v1h-1zM70.2 441.0h1v1h-1zM100.7 443.5h1v1h-1zM81.1 437.6h1v1h-1zM81.9 431.0h1v1h-1zM92.2 429.4h1v1h-1zM81.0 436.8h1v1h-1zM92.9 438.0h1v1h-1zM91.3 430.5h1v1h-1zM78.3 442.0h1v1h-1zM82.5 440.7h1v1h-1zM87.9 437.5h1v1h-1zM90.2 436.6h1v1h-1zM94.9 448.7h1v1h-1zM98.2 434.9h1v1h-1zM73.6 441.2h1v1h-1zM78.4 447.9h1v1h-1zM82.8 438.0h1v1h-1zM90.9 450.0h1v1h-1zM87.1 437.7h1v1h-1zM80.3 442.8h1v1h-1zM70.1 442.9h1v1h-1zM73.7 435.8h1v1h-1zM86.6 434.4h1v1h-1zM80.3 435.4h1v1h-1zM93.6 439.4h1v1h-1zM88.1 439.4h1v1h-1zM99.2 442.6h1v1h-1zM101.0 437.1h1v1h-1zM94.5 453.8h1v1h-1zM89.7 449.1h1v1h-1zM99.2 447.1h1v1h-1zM75.4 446.2h1v1h-1zM73.8 436.9h1v1h-1zM88.0 454.8h1v1h-1zM75.2 450.9h1v1h-1zM85.0 439.7h1v1h-1zM96.3 436.0h1v1h-1zM93.4 445.5h1v1h-1zM81.8 450.4h1v1h-1zM99.8 445.7h1v1h-1zM76.5 440.1h1v1h-1zM94.7 428.8h1v1h-1zM75.6 439.4h1v1h-1zM88.5 447.6h1v1h-1zM91.4 442.5h1v1h-1zM86.9 438.4h1v1h-1zM93.0 437.2h1v1h-1zM67.3 445.3h1v1h-1zM81.9 447.8h1v1h-1zM89.9 443.9h1v1h-1zM97.2 450.9h1v1h-1zM84.1 435.9h1v1h-1zM98.8 439.3h1v1h-1zM94.4 445.9h1v1h-1zM79.7 440.7h1v1h-1zM79.7 435.6h1v1h-1zM76.4 442.4h1v1h-1zM71.7 432.2h1v1h-1zM96.5 427.3h1v1h-1zM99.2 432.1h1v1h-1zM74.1 441.8h1v1h-1zM91.1 426.3h1v1h-1zM81.4 452.3h1v1h-1zM80.0 431.0h1v1h-1zM87.1 447.9h1v1h-1zM89.8 453.8h1v1h-1zM84.0 438.3h1v1h-1zM75.4 439.1h1v1h-1zM72.6 440.6h1v1h-1zM76.8 442.1h1v1h-1zM79.8 426.6h1v1h-1zM72.1 438.8h1v1h-1zM85.2 433.3h1v1h-1zM92.1 448.3h1v1h-1zM93.5 438.3h1v1h-1zM88.9 433.2h1v1h-1zM97.8 434.0h1v1h-1zM89.5 446.0h1v1h-1zM81.8 440.6h1v1h-1zM81.3 434.1h1v1h-1zM90.8 436.0h1v1h-1zM84.9 450.8h1v1h-1zM92.2 441.8h1v1h-1zM92.6 447.4h1v1h-1zM104.8 448.8h1v1h-1zM86.1 442.0h1v1h-1zM82.9 439.1h1v1h-1zM88.4 443.2h1v1h-1zM72.2 436.6h1v1h-1zM87.2 428.9h1v1h-1zM79.8 446.5h1v1h-1zM80.3 433.2h1v1h-1zM95.9 441.8h1v1h-1zM92.6 434.9h1v1h-1zM88.3 437.0h1v1h-1zM72.8 438.9h1v1h-1zM87.5 433.2h1v1h-1zM95.1 433.4h1v1h-1zM81.8 437.4h1v1h-1zM86.2 438.9h1v1h-1zM93.4 443.3h1v1h-1zM100.8 429.7h1v1h-1zM89.4 443.9h1v1h-1zM95.4 436.5h1v1h-1zM91.1 443.9h1v1h-1zM90.8 441.3h1v1h-1zM99.4 437.0h1v1h-1zM78.3 438.9h1v1h-1zM78.3 444.9h1v1h-1zM85.3 433.2h1v1h-1zM102.4 449.3h1v1h-1zM77.7 430.3h1v1h-1zM88.0 442.4h1v1h-1zM97.6 437.4h1v1h-1zM78.3 442.7h1v1h-1zM82.0 440.7h1v1h-1zM75.4 450.9h1v1h-1zM96.0 433.3h1v1h-1zM81.2 435.2h1v1h-1zM95.4 437.7h1v1h-1zM88.3 432.2h1v1h-1zM77.2 432.4h1v1h-1zM81.5 436.9h1v1h-1zM88.3 449.8h1v1h-1zM87.2 439.5h1v1h-1zM83.7 431.0h1v1h-1zM93.4 440.5h1v1h-1zM93.3 439.8h1v1h-1zM70.6 440.1h1v1h-1zM66.9 445.0h1v1h-1zM87.9 433.9h1v1h-1zM88.1 437.3h1v1h-1zM78.3 427.0h1v1h-1zM100.3 438.0h1v1h-1zM94.7 442.5h1v1h-1zM86.8 443.5h1v1h-1zM85.3 442.5h1v1h-1zM98.0 434.8h1v1h-1zM79.2 438.9h1v1h-1zM76.4 425.1h1v1h-1zM94.8 442.5h1v1h-1zM94.5 448.9h1v1h-1zM80.2 438.0h1v1h-1zM77.3 449.5h1v1h-1zM91.0 436.1h1v1h-1zM84.7 435.3h1v1h-1zM98.1 440.5h1v1h-1zM83.3 433.4h1v1h-1zM86.9 439.0h1v1h-1zM87.4 448.5h1v1h-1zM96.6 444.3h1v1h-1zM89.4 438.2h1v1h-1zM99.1 437.5h1v1h-1zM78.5 445.4h1v1h-1zM84.5 433.7h1v1h-1zM89.4 435.3h1v1h-1zM79.7 440.5h1v1h-1zM74.8 435.8h1v1h-1zM83.6 438.0h1v1h-1zM80.9 433.3h1v1h-1zM76.7 451.0h1v1h-1zM87.5 450.1h1v1h-1zM78.3 440.1h1v1h-1zM84.1 438.3h1v1h-1zM83.6 456.1h1v1h-1zM89.9 443.6h1v1h-1zM90.1 446.7h1v1h-1zM88.3 438.2h1v1h-1zM89.8 440.6h1v1h-1zM73.2 430.7h1v1h-1zM99.0 440.2h1v1h-1zM81.2 444.7h1v1h-1zM70.6 442.6h1v1h-1zM79.2 444.3h1v1h-1zM94.4 426.1h1v1h-1zM81.7 432.8h1v1h-1zM98.7 447.2h1v1h-1zM73.0 441.1h1v1h-1zM85.3 433.7h1v1h-1zM82.4 434.0h1v1h-1zM80.9 446.0h1v1h-1zM84.3 438.9h1v1h-1zM86.2 432.7h1v1h-1zM97.6 449.3h1v1h-1zM73.9 435.6h1v1h-1zM82.2 450.0h1v1h-1zM74.5 440.4h1v1h-1zM74.6 438.4h1v1h-1zM89.7 434.2h1v1h-1zM87.6 438.0h1v1h-1zM91.5 435.1h1v1h-1zM80.5 434.1h1v1h-1zM79.1 438.4h1v1h-1zM86.0 433.2h1v1h-1zM82.0 431.9h1v1h-1zM71.4 448.4h1v1h-1zM97.2 440.6h1v1h-1zM89.9 435.0h1v1h-1zM86.0 441.9h1v1h-1zM78.0 447.2h1v1h-1zM74.7 434.6h1v1h-1zM87.7 441.6h1v1h-1zM97.3 433.7h1v1h-1zM78.6 442.9h1v1h-1zM79.5 440.8h1v1h-1zM73.8 434.3h1v1h-1zM86.8 445.9h1v1h-1zM78.0 453.0h1v1h-1zM79.0 444.8h1v1h-1zM81.8 442.8h1v1h-1zM89.8 435.1h1v1h-1zM82.5 432.2h1v1h-1zM90.0 429.4h1v1h-1zM85.8 434.5h1v1h-1zM85.9 449.4h1v1h-1zM103.9 445.0h1v1h-1zM82.5 432.8h1v1h-1zM91.2 430.0h1v1h-1zM94.5 451.6h1v1h-1zM85.3 430.2h1v1h-1zM88.3 438.8h1v1h-1zM83.6 443.6h1v1h-1zM82.3 436.3h1v1h-1zM90.3 440.7h1v1h-1zM90.6 447.8h1v1h-1zM84.6 442.4h1v1h-1zM89.3 439.4h1v1h-1zM69.2 441.6h1v1h-1zM93.7 448.9h1v1h-1zM91.0 433.9h1v1h-1zM91.3 440.9h1v1h-1zM97.7 452.5h1v1h-1zM81.6 444.3h1v1h-1zM93.9 437.7h1v1h-1zM98.6 445.6h1v1h-1zM81.4 441.9h1v1h-1zM77.3 429.9h1v1h-1zM92.0 439.7h1v1h-1zM101.0 424.9h1v1h-1zM100.9 423.8h1v1h-1zM82.6 435.1h1v1h-1zM85.8 424.0h1v1h-1zM86.4 419.2h1v1h-1zM103.6 435.8h1v1h-1zM107.4 433.8h1v1h-1zM82.7 425.9h1v1h-1zM81.0 430.3h1v1h-1zM79.4 430.4h1v1h-1zM91.7 436.1h1v1h-1zM82.6 447.6h1v1h-1zM95.6 419.7h1v1h-1zM83.0 430.9h1v1h-1zM89.2 433.8h1v1h-1zM84.4 416.8h1v1h-1zM83.4 429.5h1v1h-1zM91.1 445.1h1v1h-1zM77.5 430.4h1v1h-1zM86.6 418.6h1v1h-1zM87.7 419.0h1v1h-1zM76.9 444.8h1v1h-1zM89.0 449.1h1v1h-1zM70.9 429.5h1v1h-1zM95.2 441.0h1v1h-1zM76.4 429.9h1v1h-1zM74.6 416.3h1v1h-1zM106.3 434.6h1v1h-1zM95.9 436.7h1v1h-1zM85.5 447.2h1v1h-1zM81.9 435.9h1v1h-1zM98.6 443.9h1v1h-1zM74.2 432.8h1v1h-1zM97.2 429.2h1v1h-1zM79.1 428.4h1v1h-1zM82.5 427.3h1v1h-1zM106.0 444.0h1v1h-1zM102.0 422.5h1v1h-1zM98.1 436.2h1v1h-1zM76.1 444.3h1v1h-1zM114.2 450.4h1v1h-1zM92.7 440.8h1v1h-1zM98.6 444.5h1v1h-1zM79.4 430.0h1v1h-1zM75.1 422.6h1v1h-1zM108.6 451.5h1v1h-1zM119.2 446.3h1v1h-1zM112.2 405.1h1v1h-1zM111.0 425.7h1v1h-1zM126.0 433.5h1v1h-1zM128.1 427.7h1v1h-1zM113.1 416.2h1v1h-1zM112.4 434.2h1v1h-1zM106.3 407.9h1v1h-1zM113.6 432.4h1v1h-1zM127.0 437.2h1v1h-1zM109.9 430.0h1v1h-1zM120.0 438.0h1v1h-1zM119.8 438.4h1v1h-1zM115.7 405.6h1v1h-1zM110.7 414.2h1v1h-1zM110.7 425.0h1v1h-1zM121.9 433.6h1v1h-1zM116.3 423.2h1v1h-1zM107.2 425.2h1v1h-1zM110.9 425.1h1v1h-1zM125.0 436.4h1v1h-1zM119.7 451.1h1v1h-1zM109.5 441.2h1v1h-1zM121.9 428.1h1v1h-1zM123.2 456.2h1v1h-1zM112.4 423.0h1v1h-1zM112.4 431.6h1v1h-1zM114.8 422.9h1v1h-1zM103.1 415.0h1v1h-1zM119.2 417.6h1v1h-1zM111.3 416.1h1v1h-1zM103.5 432.4h1v1h-1zM125.4 427.6h1v1h-1zM129.4 412.9h1v1h-1zM118.0 422.5h1v1h-1zM115.3 419.2h1v1h-1zM118.9 446.4h1v1h-1zM117.4 454.6h1v1h-1zM119.6 417.0h1v1h-1zM116.8 414.4h1v1h-1zM118.7 434.1h1v1h-1zM125.6 433.3h1v1h-1zM106.5 423.7h1v1h-1zM103.8 412.1h1v1h-1zM116.5 453.0h1v1h-1zM114.4 446.7h1v1h-1zM116.2 426.8h1v1h-1zM119.8 418.2h1v1h-1zM116.2 441.4h1v1h-1zM117.0 435.0h1v1h-1zM117.0 449.1h1v1h-1zM115.2 417.1h1v1h-1zM109.6 441.1h1v1h-1zM116.6 410.3h1v1h-1zM118.6 438.9h1v1h-1zM115.9 427.4h1v1h-1zM127.5 438.0h1v1h-1zM112.8 436.7h1v1h-1zM105.9 439.5h1v1h-1zM119.6 426.8h1v1h-1zM118.9 433.6h1v1h-1zM109.8 442.4h1v1h-1zM115.6 437.7h1v1h-1zM116.3 426.8h1v1h-1zM115.1 456.3h1v1h-1zM113.3 456.5h1v1h-1zM117.1 440.4h1v1h-1zM113.3 432.1h1v1h-1zM111.6 423.2h1v1h-1zM116.2 451.3h1v1h-1zM120.7 426.0h1v1h-1zM108.5 430.3h1v1h-1zM113.3 445.7h1v1h-1zM120.4 441.3h1v1h-1zM120.4 445.3h1v1h-1zM116.4 423.7h1v1h-1zM110.1 422.9h1v1h-1zM122.1 434.5h1v1h-1zM120.6 446.4h1v1h-1zM112.5 412.3h1v1h-1zM111.7 423.5h1v1h-1zM119.8 426.4h1v1h-1zM113.3 409.4h1v1h-1zM111.7 421.2h1v1h-1zM120.9 408.1h1v1h-1zM119.5 436.5h1v1h-1zM106.2 436.6h1v1h-1zM126.6 450.5h1v1h-1zM119.5 427.1h1v1h-1zM110.2 433.2h1v1h-1zM119.2 424.2h1v1h-1zM111.6 423.1h1v1h-1zM118.9 431.4h1v1h-1zM117.9 440.3h1v1h-1zM114.7 428.3h1v1h-1zM112.1 425.9h1v1h-1zM124.2 403.7h1v1h-1zM110.2 423.6h1v1h-1zM116.8 422.6h1v1h-1zM115.7 430.9h1v1h-1zM111.2 423.0h1v1h-1zM109.1 440.7h1v1h-1zM122.0 442.6h1v1h-1zM102.4 441.6h1v1h-1zM116.2 415.6h1v1h-1zM111.6 418.1h1v1h-1zM113.2 435.5h1v1h-1zM110.8 435.1h1v1h-1zM111.7 407.1h1v1h-1zM120.6 432.5h1v1h-1zM121.9 421.5h1v1h-1z" fill="#000" fill-opacity="0.54"/>
<rect x="103.6" y="368.9" width="44.599999999999994" height="87.10000000000002" fill="none" stroke="#444" stroke-width="1"/>
<text x="106.6" y="366.1" font-size="10.3" text-anchor="start" >10 / MFI 11.4</text>
<line x1="194.5" y1="360.70000000000005" x2="194.5" y2="458.8" stroke="#000" stroke-width="1.1" />
<line x1="194.0" y1="458.3" x2="292.09999999999997" y2="458.3" stroke="#000" stroke-width="1.1" />
<line x1="192.2" y1="458.3" x2="194.5" y2="458.3" stroke="#000" stroke-width="1" />
<line x1="194.5" y1="458.3" x2="194.5" y2="460.6" stroke="#000" stroke-width="1" />
<line x1="192.8" y1="450.9849711053653" x2="194.5" y2="450.9849711053653" stroke="#000" stroke-width="0.8" />
<line x1="201.81502889463474" y1="458.3" x2="201.81502889463474" y2="460.0" stroke="#000" stroke-width="0.8" />
<line x1="192.8" y1="446.7059535103122" x2="194.5" y2="446.7059535103122" stroke="#000" stroke-width="0.8" />
<line x1="206.0940464896878" y1="458.3" x2="206.0940464896878" y2="460.0" stroke="#000" stroke-width="0.8" />
<line x1="192.8" y1="443.66994221073054" x2="194.5" y2="443.66994221073054" stroke="#000" stroke-width="0.8" />
<line x1="209.13005778926947" y1="458.3" x2="209.13005778926947" y2="460.0" stroke="#000" stroke-width="0.8" />
<line x1="192.8" y1="441.31502889463474" x2="194.5" y2="441.31502889463474" stroke="#000" stroke-width="0.8" />
<line x1="211.48497110536525" y1="458.3" x2="211.48497110536525" y2="460.0" stroke="#000" stroke-width="0.8" />
<line x1="192.8" y1="439.3909246156775" x2="194.5" y2="439.3909246156775" stroke="#000" stroke-width="0.8" />
<line x1="213.40907538432253" y1="458.3" x2="213.40907538432253" y2="460.0" stroke="#000" stroke-width="0.8" />
<line x1="192.8" y1="437.76411762765355" x2="194.5" y2="437.76411762765355" stroke="#000" stroke-width="0.8" />
<line x1="215.03588237234644" y1="458.3" x2="215.03588237234644" y2="460.0" stroke="#000" stroke-width="0.8" />
<line x1="192.8" y1="436.3549133160958" x2="194.5" y2="436.3549133160958" stroke="#000" stroke-width="0.8" />
<line x1="216.44508668390424" y1="458.3" x2="216.44508668390424" y2="460.0" stroke="#000" stroke-width="0.8" />
<line x1="192.8" y1="435.1119070206244" x2="194.5" y2="435.1119070206244" stroke="#000" stroke-width="0.8" />
<line x1="217.6880929793756" y1="458.3" x2="217.6880929793756" y2="460.0" stroke="#000" stroke-width="0.8" />
<line x1="192.2" y1="434.0" x2="194.5" y2="434.0" stroke="#000" stroke-width="1" />
<line x1="218.8" y1="458.3" x2="218.8" y2="460.6" stroke="#000" stroke-width="1" />
<line x1="192.8" y1="426.68497110536526" x2="194.5" y2="426.68497110536526" stroke="#000" stroke-width="0.8" />
<line x1="226.11502889463475" y1="458.3" x2="226.11502889463475" y2="460.0" stroke="#000" stroke-width="0.8" />
<line x1="192.8" y1="422.4059535103122" x2="194.5" y2="422.4059535103122" stroke="#000" stroke-width="0.8" />
<line x1="230.3940464896878" y1="458.3" x2="230.3940464896878" y2="460.0" stroke="#000" stroke-width="0.8" />
<line x1="192.8" y1="419.3699422107305" x2="194.5" y2="419.3699422107305" stroke="#000" stroke-width="0.8" />
<line x1="233.43005778926948" y1="458.3" x2="233.43005778926948" y2="460.0" stroke="#000" stroke-width="0.8" />
<line x1="192.8" y1="417.0150288946347" x2="194.5" y2="417.0150288946347" stroke="#000" stroke-width="0.8" />
<line x1="235.78497110536526" y1="458.3" x2="235.78497110536526" y2="460.0" stroke="#000" stroke-width="0.8" />
<line x1="192.8" y1="415.09092461567747" x2="194.5" y2="415.09092461567747" stroke="#000" stroke-width="0.8" />
<line x1="237.70907538432255" y1="458.3" x2="237.70907538432255" y2="460.0" stroke="#000" stroke-width="0.8" />
<line x1="192.8" y1="413.46411762765354" x2="194.5" y2="413.46411762765354" stroke="#000" stroke-width="0.8" />
<line x1="239.33588237234645" y1="458.3" x2="239.33588237234645" y2="460.0" stroke="#000" stroke-width="0.8" />
<line x1="192.8" y1="412.0549133160958" x2="194.5" y2="412.0549133160958" stroke="#000" stroke-width="0.8" />
<line x1="240.74508668390425" y1="458.3" x2="240.74508668390425" y2="460.0" stroke="#000" stroke-width="0.8" />
<line x1="192.8" y1="410.8119070206244" x2="194.5" y2="410.8119070206244" stroke="#000" stroke-width="0.8" />
<line x1="241.9880929793756" y1="458.3" x2="241.9880929793756" y2="460.0" stroke="#000" stroke-width="0.8" />
<line x1="192.2" y1="409.7" x2="194.5" y2="409.7" stroke="#000" stroke-width="1" />
<line x1="243.1" y1="458.3" x2="243.1" y2="460.6" stroke="#000" stroke-width="1" />
<line x1="192.8" y1="402.38497110536525" x2="194.5" y2="402.38497110536525" stroke="#000" stroke-width="0.8" />
<line x1="250.41502889463473" y1="458.3" x2="250.41502889463473" y2="460.0" stroke="#000" stroke-width="0.8" />
<line x1="192.8" y1="398.1059535103122" x2="194.5" y2="398.1059535103122" stroke="#000" stroke-width="0.8" />
<line x1="254.6940464896878" y1="458.3" x2="254.6940464896878" y2="460.0" stroke="#000" stroke-width="0.8" />
<line x1="192.8" y1="395.0699422107305" x2="194.5" y2="395.0699422107305" stroke="#000" stroke-width="0.8" />
<line x1="257.7300577892695" y1="458.3" x2="257.7300577892695" y2="460.0" stroke="#000" stroke-width="0.8" />
<line x1="192.8" y1="392.7150288946347" x2="194.5" y2="392.7150288946347" stroke="#000" stroke-width="0.8" />
<line x1="260.08497110536524" y1="458.3" x2="260.08497110536524" y2="460.0" stroke="#000" stroke-width="0.8" />
<line x1="192.8" y1="390.79092461567745" x2="194.5" y2="390.79092461567745" stroke="#000" stroke-width="0.8" />
<line x1="262.00907538432256" y1="458.3" x2="262.00907538432256" y2="460.0" stroke="#000" stroke-width="0.8" />
<line x1="192.8" y1="389.1641176276535" x2="194.5" y2="389.1641176276535" stroke="#000" stroke-width="0.8" />
<line x1="263.63588237234643" y1="458.3" x2="263.63588237234643" y2="460.0" stroke="#000" stroke-width="0.8" />
<line x1="192.8" y1="387.7549133160958" x2="194.5" y2="387.7549133160958" stroke="#000" stroke-width="0.8" />
<line x1="265.04508668390423" y1="458.3" x2="265.04508668390423" y2="460.0" stroke="#000" stroke-width="0.8" />
<line x1="192.8" y1="386.5119070206244" x2="194.5" y2="386.5119070206244" stroke="#000" stroke-width="0.8" />
<line x1="266.2880929793756" y1="458.3" x2="266.2880929793756" y2="460.0" stroke="#000" stroke-width="0.8" />
<line x1="192.2" y1="385.4" x2="194.5" y2="385.4" stroke="#000" stroke-width="1" />
<line x1="267.4" y1="458.3" x2="267.4" y2="460.6" stroke="#000" stroke-width="1" />
<line x1="192.8" y1="378.08497110536524" x2="194.5" y2="378.08497110536524" stroke="#000" stroke-width="0.8" />
<line x1="274.7150288946347" y1="458.3" x2="274.7150288946347" y2="460.0" stroke="#000" stroke-width="0.8" />
<line x1="192.8" y1="373.8059535103122" x2="194.5" y2="373.8059535103122" stroke="#000" stroke-width="0.8" />
<line x1="278.9940464896878" y1="458.3" x2="278.9940464896878" y2="460.0" stroke="#000" stroke-width="0.8" />
<line x1="192.8" y1="370.7699422107305" x2="194.5" y2="370.7699422107305" stroke="#000" stroke-width="0.8" />
<line x1="282.03005778926945" y1="458.3" x2="282.03005778926945" y2="460.0" stroke="#000" stroke-width="0.8" />
<line x1="192.8" y1="368.4150288946347" x2="194.5" y2="368.4150288946347" stroke="#000" stroke-width="0.8" />
<line x1="284.38497110536525" y1="458.3" x2="284.38497110536525" y2="460.0" stroke="#000" stroke-width="0.8" />
<line x1="192.8" y1="366.49092461567744" x2="194.5" y2="366.49092461567744" stroke="#000" stroke-width="0.8" />
<line x1="286.3090753843225" y1="458.3" x2="286.3090753843225" y2="460.0" stroke="#000" stroke-width="0.8" />
<line x1="192.8" y1="364.8641176276535" x2="194.5" y2="364.8641176276535" stroke="#000" stroke-width="0.8" />
<line x1="287.93588237234644" y1="458.3" x2="287.93588237234644" y2="460.0" stroke="#000" stroke-width="0.8" />
<line x1="192.8" y1="363.45491331609577" x2="194.5" y2="363.45491331609577" stroke="#000" stroke-width="0.8" />
<line x1="289.3450866839042" y1="458.3" x2="289.3450866839042" y2="460.0" stroke="#000" stroke-width="0.8" />
<line x1="192.8" y1="362.2119070206244" x2="194.5" y2="362.2119070206244" stroke="#000" stroke-width="0.8" />
<line x1="290.5880929793756" y1="458.3" x2="290.5880929793756" y2="460.0" stroke="#000" stroke-width="0.8" />
<line x1="192.2" y1="361.1" x2="194.5" y2="361.1" stroke="#000" stroke-width="1" />
<line x1="291.7" y1="458.3" x2="291.7" y2="460.6" stroke="#000" stroke-width="1" />
<text x="0" y="0" font-size="7.8" text-anchor="middle" transform="translate(189.7,458.3) rotate(-90)">10<tspan font-size="5.3" dy="-3.4">0</tspan></text>
<text x="196.30" y="471.8" font-size="7.8" text-anchor="middle">10<tspan font-size="5.3" dy="-3.4">0</tspan></text>
<text x="0" y="0" font-size="7.8" text-anchor="middle" transform="translate(189.7,434.0) rotate(-90)">10<tspan font-size="5.3" dy="-3.4">1</tspan></text>
<text x="220.30" y="471.8" font-size="7.8" text-anchor="middle">10<tspan font-size="5.3" dy="-3.4">1</tspan></text>
<text x="0" y="0" font-size="7.8" text-anchor="middle" transform="translate(189.7,409.7) rotate(-90)">10<tspan font-size="5.3" dy="-3.4">2</tspan></text>
<text x="244.30" y="471.8" font-size="7.8" text-anchor="middle">10<tspan font-size="5.3" dy="-3.4">2</tspan></text>
<text x="0" y="0" font-size="7.8" text-anchor="middle" transform="translate(189.7,385.4) rotate(-90)">10<tspan font-size="5.3" dy="-3.4">3</tspan></text>
<text x="268.30" y="471.8" font-size="7.8" text-anchor="middle">10<tspan font-size="5.3" dy="-3.4">3</tspan></text>
<text x="0" y="0" font-size="7.8" text-anchor="middle" transform="translate(189.7,361.1) rotate(-90)">10<tspan font-size="5.3" dy="-3.4">4</tspan></text>
<text x="292.30" y="471.8" font-size="7.8" text-anchor="middle">10<tspan font-size="5.3" dy="-3.4">4</tspan></text>
<path d="M211.7 437.5h1v1h-1zM218.6 436.0h1v1h-1zM214.8 442.4h1v1h-1zM222.6 430.8h1v1h-1zM219.9 426.9h1v1h-1zM220.3 445.7h1v1h-1zM220.5 442.9h1v1h-1zM212.2 438.3h1v1h-1zM228.2 429.8h1v1h-1zM218.7 441.7h1v1h-1zM222.1 435.3h1v1h-1zM209.6 450.6h1v1h-1zM219.8 446.0h1v1h-1zM207.1 443.6h1v1h-1zM219.8 456.6h1v1h-1zM209.4 444.7h1v1h-1zM216.3 453.9h1v1h-1zM219.8 428.3h1v1h-1zM206.9 435.3h1v1h-1zM218.4 443.2h1v1h-1zM217.9 439.8h1v1h-1zM234.3 452.5h1v1h-1zM217.5 453.8h1v1h-1zM218.9 446.7h1v1h-1zM223.9 448.0h1v1h-1zM208.4 432.5h1v1h-1zM207.8 439.3h1v1h-1zM216.4 448.3h1v1h-1zM207.3 447.5h1v1h-1zM211.8 444.6h1v1h-1zM226.5 434.4h1v1h-1zM212.8 446.1h1v1h-1zM218.5 445.3h1v1h-1zM209.7 444.6h1v1h-1zM227.2 434.9h1v1h-1zM232.9 436.0h1v1h-1zM221.2 435.4h1v1h-1zM207.7 439.0h1v1h-1zM224.5 447.9h1v1h-1zM225.7 444.7h1v1h-1zM229.0 453.2h1v1h-1zM220.3 430.3h1v1h-1zM211.3 439.9h1v1h-1zM222.5 451.8h1v1h-1zM218.6 446.2h1v1h-1zM211.6 443.7h1v1h-1zM213.7 436.3h1v1h-1zM218.3 443.1h1v1h-1zM217.7 441.4h1v1h-1zM199.3 443.0h1v1h-1zM211.5 436.8h1v1h-1zM219.6 444.5h1v1h-1zM213.5 432.8h1v1h-1zM212.3 445.6h1v1h-1zM221.6 443.4h1v1h-1zM200.7 430.8h1v1h-1zM223.0 439.5h1v1h-1zM223.9 428.9h1v1h-1zM223.4 436.7h1v1h-1zM220.9 437.4h1v1h-1zM198.0 440.2h1v1h-1zM203.4 435.3h1v1h-1zM220.3 433.4h1v1h-1zM223.5 426.6h1v1h-1zM212.2 432.5h1v1h-1zM221.4 429.8h1v1h-1zM218.2 434.2h1v1h-1zM216.0 447.9h1v1h-1zM207.1 449.0h1v1h-1zM211.2 439.4h1v1h-1zM214.7 452.0h1v1h-1zM229.4 428.3h1v1h-1zM220.7 445.8h1v1h-1zM226.8 436.0h1v1h-1zM226.5 434.6h1v1h-1zM229.3 442.0h1v1h-1zM228.6 438.1h1v1h-1zM208.6 442.5h1v1h-1zM217.0 452.2h1v1h-1zM238.6 431.6h1v1h-1zM222.8 434.0h1v1h-1zM225.9 443.4h1v1h-1zM238.6 434.9h1v1h-1zM220.5 439.6h1v1h-1zM218.0 444.0h1v1h-1zM212.6 428.3h1v1h-1zM231.9 439.3h1v1h-1zM225.2 445.7h1v1h-1zM201.1 437.2h1v1h-1zM225.0 441.2h1v1h-1zM229.1 438.9h1v1h-1zM220.9 451.9h1v1h-1zM220.6 440.4h1v1h-1zM221.1 435.2h1v1h-1zM220.7 451.4h1v1h-1zM220.0 437.3h1v1h-1zM219.8 449.6h1v1h-1zM218.9 440.9h1v1h-1zM231.0 425.8h1v1h-1zM220.5 438.2h1v1h-1zM218.0 437.4h1v1h-1zM219.9 443.8h1v1h-1zM206.0 426.2h1v1h-1zM216.9 441.8h1v1h-1zM214.8 449.0h1v1h-1zM209.9 442.0h1v1h-1zM213.8 436.4h1v1h-1zM218.7 448.8h1v1h-1zM200.3 440.4h1v1h-1zM215.7 449.3h1v1h-1zM217.2 451.0h1v1h-1zM206.3 443.6h1v1h-1zM209.9 432.7h1v1h-1zM211.8 451.4h1v1h-1zM223.6 449.9h1v1h-1zM221.1 440.1h1v1h-1zM216.8 430.2h1v1h-1zM227.2 437.1h1v1h-1zM222.6 442.1h1v1h-1zM217.3 436.9h1v1h-1zM214.2 435.0h1v1h-1zM211.6 446.5h1v1h-1zM211.3 442.3h1v1h-1zM221.0 425.8h1v1h-1zM219.5 433.6h1v1h-1zM226.4 444.5h1v1h-1zM225.4 444.8h1v1h-1zM207.5 437.8h1v1h-1zM221.3 438.4h1v1h-1zM207.9 442.7h1v1h-1zM219.6 447.2h1v1h-1zM205.4 442.7h1v1h-1zM214.9 439.0h1v1h-1zM226.9 443.8h1v1h-1zM231.2 441.2h1v1h-1zM206.5 433.7h1v1h-1zM220.4 451.3h1v1h-1zM229.2 452.4h1v1h-1zM217.8 434.1h1v1h-1zM229.4 434.0h1v1h-1zM214.3 435.0h1v1h-1zM220.2 456.7h1v1h-1zM210.4 437.9h1v1h-1zM228.8 440.6h1v1h-1zM209.7 439.9h1v1h-1zM212.7 433.8h1v1h-1zM222.4 430.8h1v1h-1zM220.7 440.8h1v1h-1zM216.0 445.3h1v1h-1zM236.1 431.5h1v1h-1zM214.4 452.1h1v1h-1zM237.6 449.5h1v1h-1zM219.6 443.7h1v1h-1zM205.5 455.4h1v1h-1zM218.8 434.5h1v1h-1zM209.5 432.9h1v1h-1zM210.9 434.6h1v1h-1zM216.2 441.9h1v1h-1zM221.2 455.1h1v1h-1zM216.3 453.1h1v1h-1zM201.1 431.8h1v1h-1zM215.1 456.5h1v1h-1zM214.2 439.8h1v1h-1zM208.1 434.3h1v1h-1zM233.4 434.6h1v1h-1zM217.0 432.8h1v1h-1zM207.1 435.8h1v1h-1zM209.3 443.7h1v1h-1zM208.8 432.6h1v1h-1zM221.3 440.9h1v1h-1zM214.8 447.9h1v1h-1zM218.0 446.6h1v1h-1zM232.4 456.4h1v1h-1zM216.2 434.0h1v1h-1zM226.1 440.2h1v1h-1zM221.4 437.4h1v1h-1zM222.7 436.5h1v1h-1zM227.2 437.0h1v1h-1zM212.8 445.5h1v1h-1zM217.4 444.5h1v1h-1zM214.7 447.2h1v1h-1zM220.7 452.9h1v1h-1zM211.4 442.2h1v1h-1zM217.0 454.3h1v1h-1zM224.1 445.0h1v1h-1zM216.8 439.1h1v1h-1zM221.7 454.8h1v1h-1zM218.5 440.8h1v1h-1zM227.1 445.7h1v1h-1zM220.9 435.9h1v1h-1zM223.3 448.1h1v1h-1zM217.0 438.9h1v1h-1zM202.5 441.0h1v1h-1zM215.1 424.4h1v1h-1zM218.3 434.8h1v1h-1zM231.5 437.1h1v1h-1zM225.6 451.3h1v1h-1zM209.9 439.0h1v1h-1zM220.6 437.6h1v1h-1zM209.3 441.6h1v1h-1zM232.2 435.8h1v1h-1zM212.3 440.6h1v1h-1zM226.5 449.1h1v1h-1zM220.7 449.6h1v1h-1zM212.2 423.8h1v1h-1zM227.1 448.2h1v1h-1zM227.5 455.0h1v1h-1zM228.7 454.8h1v1h-1zM205.8 438.8h1v1h-1zM230.6 440.8h1v1h-1zM224.9 434.4h1v1h-1zM234.6 440.0h1v1h-1zM224.9 453.3h1v1h-1zM216.2 437.7h1v1h-1zM220.5 445.4h1v1h-1zM215.6 426.8h1v1h-1zM207.0 438.2h1v1h-1zM226.4 452.9h1v1h-1zM222.2 444.0h1v1h-1zM211.5 443.4h1v1h-1zM206.1 449.9h1v1h-1zM211.0 451.6h1v1h-1zM215.5 440.1h1v1h-1zM207.0 429.3h1v1h-1zM221.6 452.9h1v1h-1zM216.1 439.8h1v1h-1zM211.3 436.6h1v1h-1zM216.8 451.8h1v1h-1zM235.5 433.1h1v1h-1zM231.0 440.6h1v1h-1zM197.1 437.1h1v1h-1zM209.5 437.4h1v1h-1zM207.8 421.3h1v1h-1zM216.7 424.7h1v1h-1zM216.8 442.2h1v1h-1zM217.3 446.1h1v1h-1zM200.7 437.5h1v1h-1zM223.3 436.7h1v1h-1zM218.2 431.0h1v1h-1zM216.5 430.6h1v1h-1zM212.7 434.1h1v1h-1zM226.6 424.4h1v1h-1zM229.4 449.9h1v1h-1zM221.8 435.1h1v1h-1zM219.2 436.8h1v1h-1zM218.8 434.9h1v1h-1zM219.4 439.0h1v1h-1zM225.5 456.6h1v1h-1zM231.6 446.4h1v1h-1zM222.9 441.8h1v1h-1zM233.4 435.9h1v1h-1zM210.0 421.5h1v1h-1zM198.9 450.7h1v1h-1zM231.3 435.4h1v1h-1zM206.1 416.7h1v1h-1zM202.1 444.6h1v1h-1zM234.0 436.9h1v1h-1zM209.1 433.4h1v1h-1zM204.4 444.0h1v1h-1zM216.8 431.8h1v1h-1zM219.7 443.4h1v1h-1zM201.5 451.4h1v1h-1zM203.2 424.4h1v1h-1zM224.7 438.7h1v1h-1zM233.8 433.4h1v1h-1zM207.2 450.1h1v1h-1zM196.1 447.2h1v1h-1zM222.5 429.1h1v1h-1zM211.6 427.2h1v1h-1zM198.3 456.2h1v1h-1zM226.1 444.9h1v1h-1zM242.1 441.0h1v1h-1zM228.5 427.2h1v1h-1zM222.1 422.1h1v1h-1zM201.3 416.5h1v1h-1zM220.0 453.9h1v1h-1zM223.4 435.8h1v1h-1zM224.5 437.7h1v1h-1zM236.5 413.4h1v1h-1zM246.1 420.4h1v1h-1zM250.1 433.1h1v1h-1zM255.0 405.3h1v1h-1zM242.5 443.9h1v1h-1zM245.0 432.0h1v1h-1zM248.0 441.8h1v1h-1zM243.8 424.9h1v1h-1zM241.2 412.9h1v1h-1zM257.1 431.7h1v1h-1zM232.8 426.8h1v1h-1zM249.3 430.2h1v1h-1zM243.4 446.0h1v1h-1zM253.1 423.0h1v1h-1zM247.5 436.4h1v1h-1zM233.9 431.0h1v1h-1zM241.7 433.0h1v1h-1zM224.7 394.8h1v1h-1zM227.0 395.9h1v1h-1zM244.3 423.7h1v1h-1zM243.9 428.4h1v1h-1zM248.8 417.9h1v1h-1zM250.0 433.3h1v1h-1zM247.4 421.5h1v1h-1zM254.3 418.4h1v1h-1zM259.4 453.8h1v1h-1zM234.6 413.9h1v1h-1zM244.8 430.4h1v1h-1zM243.1 422.7h1v1h-1zM248.4 410.6h1v1h-1zM240.8 430.6h1v1h-1zM244.0 402.0h1v1h-1zM250.8 436.9h1v1h-1zM241.1 451.8h1v1h-1zM223.3 412.6h1v1h-1zM231.0 452.0h1v1h-1zM236.5 431.7h1v1h-1zM247.2 439.3h1v1h-1zM246.7 435.3h1v1h-1zM244.2 415.6h1v1h-1zM247.1 428.8h1v1h-1zM246.1 453.0h1v1h-1zM240.2 416.4h1v1h-1zM242.7 434.5h1v1h-1zM239.7 425.1h1v1h-1zM249.9 433.7h1v1h-1zM239.1 427.3h1v1h-1zM247.8 401.1h1v1h-1zM249.5 431.4h1v1h-1zM252.5 404.3h1v1h-1zM246.5 413.8h1v1h-1zM234.3 424.6h1v1h-1zM247.8 444.1h1v1h-1zM246.4 425.5h1v1h-1zM238.7 403.9h1v1h-1zM228.3 400.8h1v1h-1zM246.1 437.5h1v1h-1zM249.1 426.7h1v1h-1zM245.8 417.7h1v1h-1zM242.5 416.4h1v1h-1zM253.5 441.5h1v1h-1zM253.4 425.7h1v1h-1zM245.5 419.4h1v1h-1zM243.0 425.3h1v1h-1zM231.2 417.8h1v1h-1zM246.0 434.4h1v1h-1zM239.8 439.7h1v1h-1zM251.4 426.9h1v1h-1zM251.0 433.9h1v1h-1zM249.3 433.3h1v1h-1zM254.0 440.7h1v1h-1zM253.3 441.9h1v1h-1zM235.6 419.1h1v1h-1zM240.5 394.5h1v1h-1zM243.6 416.2h1v1h-1zM249.8 442.6h1v1h-1zM249.2 408.2h1v1h-1zM262.5 420.1h1v1h-1zM243.1 446.2h1v1h-1zM250.3 429.9h1v1h-1zM242.2 438.6h1v1h-1zM240.5 413.9h1v1h-1zM252.4 428.5h1v1h-1zM252.1 428.6h1v1h-1zM233.9 443.9h1v1h-1zM225.1 412.7h1v1h-1zM245.4 440.8h1v1h-1zM255.7 433.6h1v1h-1zM256.9 424.7h1v1h-1zM251.7 443.5h1v1h-1zM250.4 430.9h1v1h-1zM242.2 431.7h1v1h-1zM235.9 427.6h1v1h-1zM246.7 428.8h1v1h-1zM233.9 432.0h1v1h-1zM229.6 427.8h1v1h-1zM263.0 436.3h1v1h-1zM249.8 438.1h1v1h-1zM251.0 433.0h1v1h-1zM249.6 428.5h1v1h-1zM250.5 424.6h1v1h-1zM237.6 404.3h1v1h-1zM237.8 430.2h1v1h-1zM242.8 424.7h1v1h-1zM259.9 419.2h1v1h-1zM244.8 427.7h1v1h-1zM244.0 416.8h1v1h-1zM229.0 389.1h1v1h-1zM242.3 440.2h1v1h-1zM239.1 435.6h1v1h-1zM244.2 436.5h1v1h-1zM259.1 415.4h1v1h-1zM256.4 422.9h1v1h-1zM246.5 423.9h1v1h-1zM257.6 436.4h1v1h-1zM244.1 426.6h1v1h-1zM250.4 419.0h1v1h-1zM246.5 424.9h1v1h-1zM243.1 449.5h1v1h-1zM238.7 443.3h1v1h-1zM249.5 435.5h1v1h-1zM227.9 417.5h1v1h-1zM246.1 432.1h1v1h-1zM248.5 432.3h1v1h-1zM251.0 440.8h1v1h-1zM244.7 438.7h1v1h-1zM236.6 428.2h1v1h-1zM246.7 413.9h1v1h-1zM244.9 441.6h1v1h-1zM239.2 422.4h1v1h-1zM227.7 427.7h1v1h-1zM239.8 426.5h1v1h-1zM227.2 435.0h1v1h-1zM240.2 382.2h1v1h-1zM244.8 391.2h1v1h-1zM249.1 397.1h1v1h-1zM232.8 400.6h1v1h-1zM256.5 405.9h1v1h-1zM262.6 403.2h1v1h-1zM253.8 406.2h1v1h-1zM235.8 393.5h1v1h-1zM251.9 443.1h1v1h-1zM248.8 414.9h1v1h-1zM260.2 384.2h1v1h-1zM256.4 423.0h1v1h-1zM242.7 399.8h1v1h-1zM248.5 402.0h1v1h-1zM247.2 398.0h1v1h-1zM262.1 421.1h1v1h-1zM245.4 393.1h1v1h-1zM258.2 415.7h1v1h-1zM236.2 391.4h1v1h-1zM242.6 386.7h1v1h-1zM271.1 380.1h1v1h-1zM263.9 394.5h1v1h-1zM234.9 415.6h1v1h-1zM250.6 379.0h1v1h-1zM246.4 417.6h1v1h-1zM251.9 408.6h1v1h-1zM271.5 402.7h1v1h-1zM249.5 369.6h1v1h-1zM267.5 422.5h1v1h-1zM249.7 389.1h1v1h-1zM241.9 372.7h1v1h-1zM267.0 394.9h1v1h-1zM240.0 427.9h1v1h-1zM259.1 374.8h1v1h-1zM261.2 387.1h1v1h-1zM258.7 391.8h1v1h-1zM258.8 419.0h1v1h-1zM270.3 409.3h1v1h-1zM247.6 385.8h1v1h-1zM252.5 392.2h1v1h-1zM245.5 428.3h1v1h-1z" fill="#000" fill-opacity="0.2"/>
<path d="M225.2 432.6h1v1h-1zM208.4 435.8h1v1h-1zM202.3 435.6h1v1h-1zM217.3 441.9h1v1h-1zM232.2 443.2h1v1h-1zM219.5 444.0h1v1h-1zM212.6 425.2h1v1h-1zM222.9 442.3h1v1h-1zM210.4 440.1h1v1h-1zM207.0 441.6h1v1h-1zM223.8 448.1h1v1h-1zM205.8 455.1h1v1h-1zM214.0 449.2h1v1h-1zM201.5 445.4h1v1h-1zM199.2 439.5h1v1h-1zM236.2 452.6h1v1h-1zM202.9 447.4h1v1h-1zM209.8 441.9h1v1h-1zM213.7 431.1h1v1h-1zM221.6 448.9h1v1h-1zM216.8 448.6h1v1h-1zM213.0 430.0h1v1h-1zM230.1 428.2h1v1h-1zM234.5 446.8h1v1h-1zM215.7 435.8h1v1h-1zM209.5 445.8h1v1h-1zM226.8 449.4h1v1h-1zM210.4 434.1h1v1h-1zM225.6 440.1h1v1h-1zM211.5 437.5h1v1h-1zM217.7 447.3h1v1h-1zM202.9 449.2h1v1h-1zM226.4 453.2h1v1h-1zM203.1 446.2h1v1h-1zM211.8 422.8h1v1h-1zM215.7 421.3h1v1h-1zM199.3 450.4h1v1h-1zM220.4 446.6h1v1h-1zM211.5 448.5h1v1h-1zM227.4 444.6h1v1h-1zM205.0 435.7h1v1h-1zM219.8 439.3h1v1h-1zM220.2 433.4h1v1h-1zM224.9 443.3h1v1h-1zM214.0 434.1h1v1h-1zM204.5 427.7h1v1h-1zM222.2 438.8h1v1h-1zM217.4 445.2h1v1h-1zM216.1 448.8h1v1h-1zM215.8 438.9h1v1h-1zM215.8 443.2h1v1h-1zM216.2 428.0h1v1h-1zM229.6 444.0h1v1h-1zM226.4 429.1h1v1h-1zM208.3 442.7h1v1h-1zM236.1 443.3h1v1h-1zM200.0 436.9h1v1h-1zM223.7 439.9h1v1h-1zM219.9 446.4h1v1h-1zM211.2 447.9h1v1h-1zM227.7 436.8h1v1h-1zM212.1 430.3h1v1h-1zM207.4 444.4h1v1h-1zM225.1 440.4h1v1h-1zM226.9 445.8h1v1h-1zM206.8 448.8h1v1h-1zM222.0 446.8h1v1h-1zM221.3 445.8h1v1h-1zM208.0 437.0h1v1h-1zM220.2 446.3h1v1h-1zM212.6 453.1h1v1h-1zM219.1 441.6h1v1h-1zM209.2 425.9h1v1h-1zM210.2 427.0h1v1h-1zM218.1 444.6h1v1h-1zM205.8 456.2h1v1h-1zM215.0 447.2h1v1h-1zM217.4 434.0h1v1h-1zM218.4 438.5h1v1h-1zM218.8 443.3h1v1h-1zM222.0 443.0h1v1h-1zM212.5 442.7h1v1h-1zM220.9 446.8h1v1h-1zM211.9 443.2h1v1h-1zM227.0 435.9h1v1h-1zM211.3 446.9h1v1h-1zM206.9 445.2h1v1h-1zM209.9 444.9h1v1h-1zM216.5 453.0h1v1h-1zM220.9 430.1h1v1h-1zM209.9 441.3h1v1h-1zM209.2 444.9h1v1h-1zM231.4 431.6h1v1h-1zM215.6 441.3h1v1h-1zM224.1 443.2h1v1h-1zM214.7 443.9h1v1h-1zM234.7 445.9h1v1h-1zM218.5 436.7h1v1h-1zM215.5 441.0h1v1h-1zM214.0 431.6h1v1h-1zM210.7 437.7h1v1h-1zM223.3 450.6h1v1h-1zM212.7 434.6h1v1h-1zM226.4 441.9h1v1h-1zM226.8 447.2h1v1h-1zM221.3 446.5h1v1h-1zM208.5 441.2h1v1h-1zM218.2 444.7h1v1h-1zM209.4 451.4h1v1h-1zM235.6 438.1h1v1h-1zM215.0 433.6h1v1h-1zM227.7 426.1h1v1h-1zM222.1 451.2h1v1h-1zM216.6 434.8h1v1h-1zM216.4 446.2h1v1h-1zM213.1 444.4h1v1h-1zM209.1 447.3h1v1h-1zM227.0 442.9h1v1h-1zM210.5 442.2h1v1h-1zM214.5 433.5h1v1h-1zM215.1 444.4h1v1h-1zM227.8 436.3h1v1h-1zM210.2 432.8h1v1h-1zM225.9 434.5h1v1h-1zM214.2 445.2h1v1h-1zM224.6 446.7h1v1h-1zM216.1 455.1h1v1h-1zM201.1 437.8h1v1h-1zM218.4 440.1h1v1h-1zM212.4 428.3h1v1h-1zM203.6 451.4h1v1h-1zM211.6 440.2h1v1h-1zM213.6 440.4h1v1h-1zM212.9 451.6h1v1h-1zM217.5 440.0h1v1h-1zM234.0 448.7h1v1h-1zM201.6 420.3h1v1h-1zM223.7 447.1h1v1h-1zM225.7 435.2h1v1h-1zM218.1 445.7h1v1h-1zM219.4 442.4h1v1h-1zM211.8 427.6h1v1h-1zM217.5 447.3h1v1h-1zM222.9 420.2h1v1h-1zM212.5 435.2h1v1h-1zM215.7 441.1h1v1h-1zM213.1 442.4h1v1h-1zM220.6 439.1h1v1h-1zM223.7 443.1h1v1h-1zM209.3 434.9h1v1h-1zM204.0 436.9h1v1h-1zM214.0 451.2h1v1h-1zM221.0 437.6h1v1h-1zM210.8 433.5h1v1h-1zM210.2 431.9h1v1h-1zM207.7 441.5h1v1h-1zM227.5 444.9h1v1h-1zM217.9 446.3h1v1h-1zM227.4 440.9h1v1h-1zM219.9 438.9h1v1h-1zM216.0 441.4h1v1h-1zM206.9 440.9h1v1h-1zM224.1 450.7h1v1h-1zM225.5 454.5h1v1h-1zM222.0 445.8h1v1h-1zM220.3 442.4h1v1h-1zM206.2 448.0h1v1h-1zM228.4 438.6h1v1h-1zM230.5 449.1h1v1h-1zM215.8 437.3h1v1h-1zM213.3 444.1h1v1h-1zM226.2 445.5h1v1h-1zM212.3 448.3h1v1h-1zM201.4 446.0h1v1h-1zM230.8 440.2h1v1h-1zM221.6 436.0h1v1h-1zM226.2 443.9h1v1h-1zM225.8 435.8h1v1h-1zM219.0 429.1h1v1h-1zM207.9 440.0h1v1h-1zM237.1 427.8h1v1h-1zM220.7 449.9h1v1h-1zM221.9 445.0h1v1h-1zM226.5 438.3h1v1h-1zM214.0 441.0h1v1h-1zM220.1 440.9h1v1h-1zM219.6 449.0h1v1h-1zM212.3 443.2h1v1h-1zM214.6 442.6h1v1h-1zM223.6 445.4h1v1h-1zM234.1 442.4h1v1h-1zM220.5 437.9h1v1h-1zM213.6 432.1h1v1h-1zM224.1 435.3h1v1h-1zM216.2 443.4h1v1h-1zM228.8 444.6h1v1h-1zM222.4 438.6h1v1h-1zM228.0 440.6h1v1h-1zM211.1 441.9h1v1h-1zM219.8 453.5h1v1h-1zM203.4 454.0h1v1h-1zM210.8 443.1h1v1h-1zM202.4 429.3h1v1h-1zM209.9 442.0h1v1h-1zM199.3 422.4h1v1h-1zM227.4 436.1h1v1h-1zM226.1 445.6h1v1h-1zM224.3 447.7h1v1h-1zM211.1 425.1h1v1h-1zM206.9 443.0h1v1h-1zM207.8 424.2h1v1h-1zM209.3 435.9h1v1h-1zM215.1 451.2h1v1h-1zM218.8 420.2h1v1h-1zM199.3 419.5h1v1h-1zM239.8 429.3h1v1h-1zM223.7 428.7h1v1h-1zM228.8 454.6h1v1h-1zM247.0 443.4h1v1h-1zM229.5 444.2h1v1h-1zM222.1 447.8h1v1h-1zM217.1 440.7h1v1h-1zM213.5 431.1h1v1h-1zM207.4 441.8h1v1h-1zM227.2 435.3h1v1h-1zM231.4 447.9h1v1h-1zM232.1 441.8h1v1h-1zM221.8 441.3h1v1h-1zM245.5 438.5h1v1h-1zM220.6 440.6h1v1h-1zM221.3 451.4h1v1h-1zM229.5 429.1h1v1h-1zM212.7 436.2h1v1h-1zM203.3 423.0h1v1h-1zM198.5 439.7h1v1h-1zM201.8 443.7h1v1h-1zM230.0 439.0h1v1h-1zM202.8 453.2h1v1h-1zM213.8 413.4h1v1h-1zM203.4 437.9h1v1h-1zM211.8 429.8h1v1h-1zM225.4 444.6h1v1h-1zM201.2 422.2h1v1h-1zM258.3 433.8h1v1h-1zM247.5 443.6h1v1h-1zM238.0 416.9h1v1h-1zM243.8 443.1h1v1h-1zM235.0 426.7h1v1h-1zM228.6 426.3h1v1h-1zM241.9 413.8h1v1h-1zM239.2 417.6h1v1h-1zM245.5 434.8h1v1h-1zM252.6 448.9h1v1h-1zM249.1 442.6h1v1h-1zM250.5 440.0h1v1h-1zM249.1 423.4h1v1h-1zM254.2 437.5h1v1h-1zM249.1 454.4h1v1h-1zM255.4 422.3h1v1h-1zM247.6 418.3h1v1h-1zM235.1 413.6h1v1h-1zM244.5 409.7h1v1h-1zM240.7 434.6h1v1h-1zM247.8 440.2h1v1h-1zM240.8 422.5h1v1h-1zM244.9 426.8h1v1h-1zM255.3 435.9h1v1h-1zM238.0 408.0h1v1h-1zM238.5 410.9h1v1h-1zM248.3 431.4h1v1h-1zM241.0 427.7h1v1h-1zM240.5 445.0h1v1h-1zM243.8 422.3h1v1h-1zM230.3 419.7h1v1h-1zM245.1 410.0h1v1h-1zM246.6 423.2h1v1h-1zM229.4 418.1h1v1h-1zM256.0 435.2h1v1h-1zM242.2 425.2h1v1h-1zM227.1 405.5h1v1h-1zM233.3 424.1h1v1h-1zM241.5 438.2h1v1h-1zM243.9 443.4h1v1h-1zM233.0 415.6h1v1h-1zM248.1 451.2h1v1h-1zM254.8 426.6h1v1h-1zM242.9 438.3h1v1h-1zM247.7 413.4h1v1h-1zM237.0 406.8h1v1h-1zM233.4 432.1h1v1h-1zM238.7 413.2h1v1h-1zM245.1 425.9h1v1h-1zM230.8 428.4h1v1h-1zM236.5 421.8h1v1h-1zM243.3 428.3h1v1h-1zM246.0 416.4h1v1h-1zM242.3 431.3h1v1h-1zM245.8 424.8h1v1h-1zM238.7 429.6h1v1h-1zM233.3 428.3h1v1h-1zM244.9 451.6h1v1h-1zM244.3 435.5h1v1h-1zM232.2 422.1h1v1h-1zM242.8 425.1h1v1h-1zM221.5 412.7h1v1h-1zM243.5 396.1h1v1h-1zM241.1 403.0h1v1h-1zM237.0 442.2h1v1h-1zM239.3 440.0h1v1h-1zM252.1 415.2h1v1h-1zM242.6 419.7h1v1h-1zM242.9 423.8h1v1h-1zM229.8 404.7h1v1h-1zM256.7 412.3h1v1h-1zM235.2 407.1h1v1h-1zM239.5 436.5h1v1h-1zM236.6 428.4h1v1h-1zM240.8 421.5h1v1h-1zM242.7 428.7h1v1h-1zM249.5 412.4h1v1h-1zM245.6 412.1h1v1h-1zM249.1 439.9h1v1h-1zM239.9 423.0h1v1h-1zM247.1 444.9h1v1h-1zM246.9 424.9h1v1h-1zM237.1 417.7h1v1h-1zM243.1 424.6h1v1h-1zM233.4 446.2h1v1h-1zM237.6 425.5h1v1h-1zM248.8 419.0h1v1h-1zM245.0 438.9h1v1h-1zM239.4 441.4h1v1h-1zM252.5 449.7h1v1h-1zM249.1 446.7h1v1h-1zM246.6 451.7h1v1h-1zM248.7 417.8h1v1h-1zM241.2 396.1h1v1h-1zM252.5 420.3h1v1h-1zM244.8 401.3h1v1h-1zM246.8 431.2h1v1h-1zM237.1 426.0h1v1h-1zM241.8 437.9h1v1h-1zM258.3 400.3h1v1h-1zM248.1 442.0h1v1h-1zM233.1 410.0h1v1h-1zM248.5 411.7h1v1h-1zM244.0 404.7h1v1h-1zM232.5 398.0h1v1h-1zM248.2 431.8h1v1h-1zM242.4 441.4h1v1h-1zM249.9 423.1h1v1h-1zM243.3 415.6h1v1h-1zM238.0 430.3h1v1h-1zM247.5 443.3h1v1h-1zM243.1 424.0h1v1h-1zM248.3 422.7h1v1h-1zM238.8 425.6h1v1h-1zM240.8 425.1h1v1h-1zM251.8 429.6h1v1h-1zM240.7 428.1h1v1h-1zM238.6 419.6h1v1h-1zM246.4 449.4h1v1h-1zM243.5 423.6h1v1h-1zM242.6 419.9h1v1h-1zM239.9 433.7h1v1h-1zM242.8 431.1h1v1h-1zM248.7 409.9h1v1h-1zM253.3 434.1h1v1h-1zM242.8 453.1h1v1h-1zM233.7 439.4h1v1h-1zM247.9 442.6h1v1h-1zM247.8 438.1h1v1h-1zM238.0 450.1h1v1h-1zM245.9 429.8h1v1h-1zM248.9 413.1h1v1h-1zM240.6 429.3h1v1h-1zM233.8 425.5h1v1h-1zM237.0 431.1h1v1h-1zM236.3 408.6h1v1h-1zM242.0 413.5h1v1h-1zM247.7 444.4h1v1h-1zM234.2 420.5h1v1h-1zM249.7 415.6h1v1h-1zM247.5 415.0h1v1h-1zM244.0 427.0h1v1h-1zM242.3 428.4h1v1h-1zM235.9 436.3h1v1h-1zM245.9 403.1h1v1h-1zM237.9 432.9h1v1h-1zM249.4 456.3h1v1h-1zM244.9 437.5h1v1h-1zM235.3 433.5h1v1h-1zM247.0 398.6h1v1h-1zM230.5 440.9h1v1h-1zM248.0 417.0h1v1h-1zM241.6 456.2h1v1h-1zM228.9 421.3h1v1h-1zM245.9 424.0h1v1h-1zM246.0 420.9h1v1h-1zM242.0 411.2h1v1h-1zM250.7 415.1h1v1h-1zM237.2 433.5h1v1h-1zM248.2 411.6h1v1h-1zM244.2 440.1h1v1h-1zM269.5 456.4h1v1h-1zM236.0 450.7h1v1h-1zM238.3 438.2h1v1h-1zM238.9 415.0h1v1h-1zM245.4 419.3h1v1h-1zM243.5 414.3h1v1h-1zM241.6 414.7h1v1h-1zM239.7 435.5h1v1h-1zM240.0 433.8h1v1h-1zM247.7 420.5h1v1h-1zM242.8 399.4h1v1h-1zM244.4 422.0h1v1h-1zM241.1 427.5h1v1h-1zM246.1 443.5h1v1h-1zM233.5 397.5h1v1h-1zM244.4 427.3h1v1h-1zM240.8 425.8h1v1h-1zM251.1 446.0h1v1h-1zM256.4 430.9h1v1h-1zM264.5 432.3h1v1h-1zM255.5 423.9h1v1h-1zM272.1 384.3h1v1h-1zM256.7 398.4h1v1h-1zM255.9 419.6h1v1h-1zM230.0 370.7h1v1h-1zM232.6 403.1h1v1h-1zM249.2 381.8h1v1h-1zM268.9 414.3h1v1h-1zM238.8 405.4h1v1h-1zM257.4 411.9h1v1h-1zM264.7 403.8h1v1h-1zM221.4 399.1h1v1h-1zM248.8 414.8h1v1h-1zM250.5 424.3h1v1h-1zM223.4 402.3h1v1h-1zM248.6 393.1h1v1h-1zM255.2 385.8h1v1h-1zM261.4 395.5h1v1h-1zM252.8 432.9h1v1h-1zM251.6 407.4h1v1h-1zM233.2 427.2h1v1h-1zM272.6 374.4h1v1h-1zM244.0 440.7h1v1h-1zM249.8 391.0h1v1h-1zM259.0 416.3h1v1h-1zM251.9 415.7h1v1h-1zM237.8 383.4h1v1h-1zM234.0 385.5h1v1h-1zM262.1 402.5h1v1h-1zM244.3 414.6h1v1h-1zM243.1 383.8h1v1h-1zM240.5 409.4h1v1h-1zM235.7 392.0h1v1h-1zM250.8 410.4h1v1h-1zM266.4 394.2h1v1h-1z" fill="#000" fill-opacity="0.35"/>
<path d="M218.4 429.8h1v1h-1zM213.8 427.7h1v1h-1zM218.0 449.7h1v1h-1zM224.9 441.2h1v1h-1zM204.9 445.1h1v1h-1zM219.2 451.9h1v1h-1zM226.7 447.7h1v1h-1zM211.5 444.9h1v1h-1zM219.8 436.8h1v1h-1zM222.5 443.1h1v1h-1zM209.5 439.7h1v1h-1zM216.6 444.7h1v1h-1zM203.5 447.7h1v1h-1zM221.1 431.9h1v1h-1zM222.7 416.0h1v1h-1zM209.2 434.5h1v1h-1zM214.3 444.2h1v1h-1zM202.7 436.4h1v1h-1zM216.2 425.9h1v1h-1zM226.7 440.9h1v1h-1zM211.9 443.3h1v1h-1zM210.1 449.5h1v1h-1zM215.6 444.5h1v1h-1zM224.4 429.6h1v1h-1zM216.1 446.6h1v1h-1zM222.5 445.7h1v1h-1zM208.2 437.0h1v1h-1zM214.6 450.5h1v1h-1zM223.9 447.6h1v1h-1zM213.5 444.3h1v1h-1zM223.2 456.7h1v1h-1zM218.5 437.4h1v1h-1zM215.2 432.0h1v1h-1zM229.0 431.5h1v1h-1zM224.0 435.8h1v1h-1zM214.8 441.5h1v1h-1zM226.2 443.9h1v1h-1zM215.2 441.1h1v1h-1zM226.7 450.3h1v1h-1zM220.6 435.2h1v1h-1zM210.3 444.5h1v1h-1zM217.9 442.1h1v1h-1zM216.7 441.1h1v1h-1zM196.6 436.1h1v1h-1zM221.6 442.3h1v1h-1zM215.5 445.3h1v1h-1zM209.7 445.6h1v1h-1zM219.0 447.5h1v1h-1zM226.4 447.2h1v1h-1zM220.2 449.5h1v1h-1zM211.4 442.7h1v1h-1zM224.5 435.7h1v1h-1zM217.1 446.4h1v1h-1zM221.7 437.4h1v1h-1zM233.3 437.1h1v1h-1zM228.9 435.8h1v1h-1zM217.4 443.3h1v1h-1zM237.1 440.5h1v1h-1zM218.1 449.9h1v1h-1zM220.8 436.5h1v1h-1zM210.6 442.2h1v1h-1zM221.1 441.1h1v1h-1zM224.2 448.8h1v1h-1zM210.2 435.8h1v1h-1zM218.7 454.6h1v1h-1zM221.5 443.8h1v1h-1zM211.0 437.1h1v1h-1zM218.2 436.3h1v1h-1zM206.1 446.1h1v1h-1zM213.8 435.5h1v1h-1zM209.5 425.2h1v1h-1zM221.2 422.6h1v1h-1zM220.1 441.2h1v1h-1zM213.8 445.8h1v1h-1zM222.9 434.7h1v1h-1zM211.6 445.9h1v1h-1zM201.9 446.1h1v1h-1zM216.2 429.2h1v1h-1zM219.7 440.8h1v1h-1zM218.5 443.7h1v1h-1zM214.2 437.1h1v1h-1zM226.7 445.2h1v1h-1zM211.3 432.1h1v1h-1zM220.3 449.4h1v1h-1zM222.7 449.7h1v1h-1zM226.1 438.3h1v1h-1zM204.7 436.8h1v1h-1zM214.4 445.1h1v1h-1zM208.8 443.8h1v1h-1zM219.4 446.2h1v1h-1zM228.3 440.9h1v1h-1zM208.3 446.3h1v1h-1zM223.4 447.5h1v1h-1zM226.4 441.6h1v1h-1zM222.8 448.2h1v1h-1zM212.1 437.9h1v1h-1zM203.9 438.7h1v1h-1zM226.9 441.8h1v1h-1zM205.3 428.9h1v1h-1zM211.1 427.7h1v1h-1zM222.5 429.4h1v1h-1zM197.7 442.4h1v1h-1zM210.4 448.3h1v1h-1zM237.7 445.2h1v1h-1zM231.3 452.9h1v1h-1zM218.6 440.6h1v1h-1zM233.2 438.5h1v1h-1zM230.2 430.0h1v1h-1zM209.8 455.5h1v1h-1zM212.8 440.0h1v1h-1zM212.1 437.0h1v1h-1zM219.8 449.8h1v1h-1zM218.8 435.7h1v1h-1zM217.6 443.0h1v1h-1zM214.2 446.6h1v1h-1zM223.7 433.1h1v1h-1zM197.1 438.0h1v1h-1zM209.2 441.8h1v1h-1zM214.6 444.1h1v1h-1zM208.8 450.8h1v1h-1zM208.4 435.1h1v1h-1zM218.0 447.8h1v1h-1zM215.3 433.6h1v1h-1zM211.0 440.0h1v1h-1zM210.3 434.8h1v1h-1zM225.2 420.1h1v1h-1zM229.4 436.9h1v1h-1zM217.6 436.7h1v1h-1zM216.2 450.6h1v1h-1zM211.8 432.8h1v1h-1zM225.5 447.0h1v1h-1zM222.9 444.8h1v1h-1zM223.1 442.0h1v1h-1zM237.6 444.3h1v1h-1zM218.0 432.2h1v1h-1zM226.4 445.3h1v1h-1zM223.0 448.4h1v1h-1zM228.7 452.6h1v1h-1zM216.2 439.1h1v1h-1zM208.9 438.9h1v1h-1zM218.0 416.4h1v1h-1zM204.8 451.0h1v1h-1zM211.0 440.1h1v1h-1zM205.9 442.9h1v1h-1zM197.2 433.2h1v1h-1zM207.8 442.1h1v1h-1zM224.4 442.2h1v1h-1zM208.6 436.5h1v1h-1zM208.3 439.3h1v1h-1zM221.1 450.0h1v1h-1zM214.8 434.0h1v1h-1zM211.1 445.6h1v1h-1zM211.8 434.3h1v1h-1zM216.0 441.6h1v1h-1zM210.3 447.9h1v1h-1zM203.7 428.5h1v1h-1zM208.1 451.8h1v1h-1zM229.1 452.3h1v1h-1zM213.2 432.2h1v1h-1zM235.0 453.9h1v1h-1zM224.3 434.0h1v1h-1zM211.4 438.4h1v1h-1zM221.7 429.9h1v1h-1zM217.4 440.2h1v1h-1zM215.6 444.1h1v1h-1zM220.4 445.1h1v1h-1zM225.1 439.7h1v1h-1zM205.8 448.8h1v1h-1zM222.2 436.1h1v1h-1zM219.5 445.3h1v1h-1zM216.1 420.4h1v1h-1zM213.9 447.3h1v1h-1zM213.8 437.0h1v1h-1zM219.3 436.4h1v1h-1zM228.3 434.1h1v1h-1zM204.8 440.2h1v1h-1zM208.5 438.7h1v1h-1zM222.4 443.4h1v1h-1zM208.7 454.3h1v1h-1zM224.8 448.1h1v1h-1zM206.9 445.4h1v1h-1zM215.5 439.1h1v1h-1zM222.6 440.1h1v1h-1zM212.8 431.0h1v1h-1zM211.0 421.7h1v1h-1zM208.7 439.0h1v1h-1zM216.1 429.5h1v1h-1zM231.8 446.6h1v1h-1zM215.1 433.2h1v1h-1zM221.7 448.3h1v1h-1zM218.6 440.4h1v1h-1zM217.1 455.6h1v1h-1zM225.2 453.7h1v1h-1zM219.3 435.7h1v1h-1zM216.9 429.0h1v1h-1zM220.6 442.5h1v1h-1zM218.4 429.5h1v1h-1zM216.7 434.4h1v1h-1zM210.5 437.9h1v1h-1zM222.6 429.0h1v1h-1zM216.9 427.4h1v1h-1zM200.0 440.0h1v1h-1zM225.7 442.9h1v1h-1zM213.6 451.7h1v1h-1zM213.0 437.2h1v1h-1zM216.2 438.1h1v1h-1zM233.7 446.3h1v1h-1zM207.5 437.1h1v1h-1zM225.9 439.3h1v1h-1zM220.2 449.9h1v1h-1zM203.3 447.3h1v1h-1zM225.1 419.7h1v1h-1zM240.9 425.8h1v1h-1zM212.8 436.3h1v1h-1zM215.9 442.5h1v1h-1zM197.3 444.4h1v1h-1zM224.7 421.6h1v1h-1zM224.2 456.3h1v1h-1zM219.5 417.1h1v1h-1zM213.2 448.9h1v1h-1zM200.6 433.6h1v1h-1zM212.8 416.3h1v1h-1zM222.6 444.4h1v1h-1zM234.9 432.7h1v1h-1zM224.0 451.1h1v1h-1zM217.0 429.3h1v1h-1zM237.9 438.5h1v1h-1zM228.7 449.7h1v1h-1zM198.8 441.3h1v1h-1zM218.8 427.3h1v1h-1zM204.0 446.8h1v1h-1zM213.6 439.0h1v1h-1zM227.7 447.9h1v1h-1zM237.9 429.0h1v1h-1zM208.1 430.7h1v1h-1zM219.5 444.3h1v1h-1zM230.4 425.7h1v1h-1zM214.8 455.2h1v1h-1zM204.2 429.7h1v1h-1zM211.3 440.7h1v1h-1zM227.1 431.9h1v1h-1zM215.3 440.3h1v1h-1zM210.2 438.0h1v1h-1zM231.4 434.0h1v1h-1zM208.6 442.7h1v1h-1zM235.9 456.5h1v1h-1zM214.0 431.0h1v1h-1zM209.2 423.8h1v1h-1zM210.2 453.3h1v1h-1zM244.8 445.8h1v1h-1zM251.9 417.7h1v1h-1zM233.7 395.5h1v1h-1zM249.1 413.7h1v1h-1zM253.0 431.8h1v1h-1zM227.2 440.1h1v1h-1zM232.0 406.9h1v1h-1zM252.2 435.8h1v1h-1zM239.0 435.2h1v1h-1zM244.8 425.6h1v1h-1zM249.8 414.1h1v1h-1zM244.8 454.0h1v1h-1zM242.7 409.7h1v1h-1zM246.1 429.7h1v1h-1zM246.2 406.9h1v1h-1zM233.1 411.1h1v1h-1zM243.2 415.2h1v1h-1zM249.7 426.1h1v1h-1zM234.0 437.7h1v1h-1zM240.0 413.3h1v1h-1zM236.6 421.2h1v1h-1zM244.6 436.0h1v1h-1zM241.4 433.7h1v1h-1zM247.1 436.6h1v1h-1zM243.8 437.5h1v1h-1zM249.2 401.1h1v1h-1zM256.6 421.3h1v1h-1zM249.2 432.8h1v1h-1zM246.4 433.0h1v1h-1zM248.4 437.4h1v1h-1zM244.4 430.2h1v1h-1zM240.7 406.5h1v1h-1zM238.3 419.2h1v1h-1zM235.5 443.3h1v1h-1zM240.6 422.7h1v1h-1zM240.2 406.2h1v1h-1zM250.0 433.7h1v1h-1zM240.3 424.6h1v1h-1zM250.6 432.1h1v1h-1zM233.6 407.5h1v1h-1zM241.0 416.3h1v1h-1zM232.9 423.6h1v1h-1zM246.2 437.6h1v1h-1zM233.2 414.5h1v1h-1zM242.4 431.4h1v1h-1zM247.4 442.9h1v1h-1zM243.6 438.9h1v1h-1zM252.6 421.2h1v1h-1zM238.0 434.0h1v1h-1zM238.3 444.3h1v1h-1zM240.9 440.9h1v1h-1zM249.6 455.4h1v1h-1zM234.0 420.2h1v1h-1zM242.7 433.1h1v1h-1zM251.4 397.6h1v1h-1zM236.3 434.9h1v1h-1zM247.7 437.9h1v1h-1zM242.0 420.7h1v1h-1zM232.6 415.2h1v1h-1zM256.7 446.2h1v1h-1zM243.1 420.2h1v1h-1zM240.6 431.9h1v1h-1zM238.1 427.1h1v1h-1zM254.3 412.2h1v1h-1zM251.2 427.9h1v1h-1zM243.3 414.9h1v1h-1zM247.7 432.8h1v1h-1zM241.7 413.2h1v1h-1zM243.8 435.3h1v1h-1zM235.5 425.9h1v1h-1zM253.0 419.5h1v1h-1zM241.0 441.5h1v1h-1zM244.4 418.5h1v1h-1zM244.1 430.4h1v1h-1zM249.6 431.7h1v1h-1zM249.9 427.5h1v1h-1zM246.5 433.4h1v1h-1zM243.6 423.1h1v1h-1zM253.4 416.5h1v1h-1zM238.7 416.5h1v1h-1zM242.3 419.9h1v1h-1zM240.9 426.8h1v1h-1zM239.4 428.4h1v1h-1zM249.9 426.8h1v1h-1zM238.9 450.3h1v1h-1zM259.1 419.0h1v1h-1zM245.9 434.5h1v1h-1zM243.3 422.8h1v1h-1zM243.7 423.0h1v1h-1zM245.4 441.5h1v1h-1zM228.2 439.4h1v1h-1zM240.6 387.0h1v1h-1zM235.8 435.1h1v1h-1zM249.3 437.2h1v1h-1zM235.4 432.2h1v1h-1zM239.1 419.1h1v1h-1zM250.0 420.8h1v1h-1zM245.9 408.4h1v1h-1zM253.0 429.8h1v1h-1zM244.3 430.9h1v1h-1zM248.7 453.7h1v1h-1zM229.9 411.1h1v1h-1zM233.5 415.5h1v1h-1zM241.8 429.0h1v1h-1zM246.2 425.0h1v1h-1zM248.2 423.4h1v1h-1zM241.3 409.6h1v1h-1zM244.6 438.3h1v1h-1zM244.5 442.5h1v1h-1zM243.2 432.8h1v1h-1zM242.1 416.9h1v1h-1zM251.3 426.8h1v1h-1zM244.6 427.6h1v1h-1zM233.9 417.1h1v1h-1zM237.3 417.3h1v1h-1zM236.9 444.3h1v1h-1zM240.3 446.2h1v1h-1zM251.8 425.7h1v1h-1zM247.9 411.8h1v1h-1zM242.7 432.5h1v1h-1zM239.7 420.8h1v1h-1zM244.3 410.5h1v1h-1zM252.3 432.8h1v1h-1zM247.8 439.4h1v1h-1zM246.4 428.6h1v1h-1zM248.8 425.2h1v1h-1zM257.5 423.2h1v1h-1zM232.8 415.6h1v1h-1zM253.0 432.5h1v1h-1zM240.2 438.7h1v1h-1zM245.9 448.3h1v1h-1zM240.9 426.9h1v1h-1zM249.3 442.1h1v1h-1zM239.4 420.7h1v1h-1zM242.0 420.0h1v1h-1zM247.3 410.1h1v1h-1zM245.7 445.4h1v1h-1zM246.4 424.7h1v1h-1zM237.2 414.0h1v1h-1zM246.6 431.1h1v1h-1zM251.1 452.8h1v1h-1zM248.9 431.7h1v1h-1zM241.5 421.8h1v1h-1zM242.9 421.9h1v1h-1zM243.1 416.8h1v1h-1zM241.1 429.7h1v1h-1zM247.0 431.2h1v1h-1zM246.1 390.3h1v1h-1zM243.7 427.5h1v1h-1zM251.9 428.1h1v1h-1zM242.4 432.6h1v1h-1zM226.7 409.6h1v1h-1zM244.7 435.5h1v1h-1zM248.3 433.2h1v1h-1zM232.5 426.3h1v1h-1zM234.7 437.1h1v1h-1zM237.9 411.4h1v1h-1zM244.6 422.1h1v1h-1zM232.3 437.1h1v1h-1zM242.4 433.6h1v1h-1zM255.2 436.5h1v1h-1zM240.1 421.8h1v1h-1zM247.5 422.3h1v1h-1zM242.3 434.2h1v1h-1zM229.1 423.9h1v1h-1zM243.7 405.4h1v1h-1zM245.9 447.8h1v1h-1zM236.7 417.6h1v1h-1zM242.7 416.9h1v1h-1zM239.2 424.5h1v1h-1zM253.5 418.1h1v1h-1zM240.3 429.5h1v1h-1zM250.4 437.1h1v1h-1zM241.7 433.9h1v1h-1zM228.3 426.1h1v1h-1zM243.1 433.6h1v1h-1zM259.2 439.1h1v1h-1zM235.7 435.6h1v1h-1zM245.0 433.3h1v1h-1zM250.7 430.7h1v1h-1zM222.4 427.9h1v1h-1zM243.3 420.2h1v1h-1zM254.0 422.9h1v1h-1zM239.5 427.4h1v1h-1zM241.3 418.9h1v1h-1zM236.7 414.6h1v1h-1zM242.8 401.1h1v1h-1zM252.9 378.5h1v1h-1zM252.9 381.8h1v1h-1zM235.6 430.2h1v1h-1zM273.6 413.9h1v1h-1zM253.7 394.9h1v1h-1zM262.2 376.6h1v1h-1zM246.5 402.0h1v1h-1zM263.0 382.5h1v1h-1zM235.0 400.6h1v1h-1zM245.1 400.2h1v1h-1zM252.9 396.9h1v1h-1zM243.4 402.0h1v1h-1zM252.6 412.6h1v1h-1zM238.0 407.6h1v1h-1zM255.7 392.1h1v1h-1zM251.7 402.8h1v1h-1zM234.3 419.0h1v1h-1zM228.5 384.2h1v1h-1zM260.0 390.6h1v1h-1zM249.9 418.4h1v1h-1zM250.4 403.0h1v1h-1zM258.1 372.1h1v1h-1zM266.9 409.0h1v1h-1zM244.3 407.2h1v1h-1zM236.2 412.1h1v1h-1zM264.8 435.0h1v1h-1zM248.5 408.6h1v1h-1zM244.5 364.6h1v1h-1zM231.7 402.6h1v1h-1zM260.4 381.8h1v1h-1zM251.7 409.2h1v1h-1zM249.1 377.0h1v1h-1zM263.4 390.1h1v1h-1z" fill="#000" fill-opacity="0.54"/>
<rect x="231.5" y="369" width="44.80000000000001" height="87" fill="none" stroke="#444" stroke-width="1"/>
<text x="231.9" y="366.1" font-size="10.3" text-anchor="start" >23 / MFI 25.1</text>
<text x="82.6" y="211.2" font-size="12.4" text-anchor="start" >Control IgG</text>
<text x="201.6" y="211.4" font-size="12.4" text-anchor="start" >Anti-Ly6G mAb</text>
<text x="0" y="0" font-size="10" transform="translate(45.8,315.6) rotate(-90)">Gr-1</text>
<path d="M42.1,319.6 V326.90000000000003 M38.800000000000004,323.20000000000005 L42.1,319.6 L45.4,323.20000000000005" fill="none" stroke="#000" stroke-width="1.15"/>
<path d="M52,337.8 H60.1 M56.9,334.7 L60.1,337.8 L56.9,340.90000000000003" fill="none" stroke="#000" stroke-width="1.15"/>
<text x="64.3" y="341.1" font-size="10" text-anchor="start" >CD11b</text>
<text x="0" y="0" font-size="10" transform="translate(46.6,461.2) rotate(-90)">CD107a</text>
<path d="M42.6,465.3 V472.6 M39.300000000000004,468.90000000000003 L42.6,465.3 L45.9,468.90000000000003" fill="none" stroke="#000" stroke-width="1.15"/>
<path d="M52,482.3 H60.1 M56.9,479.2 L60.1,482.3 L56.9,485.40000000000003" fill="none" stroke="#000" stroke-width="1.15"/>
<text x="64.1" y="485.6" font-size="10" text-anchor="start" >CD8</text>
<line x1="362.6" y1="223.0" x2="362.6" y2="314.1" stroke="#000" stroke-width="1.2" />
<line x1="362.0" y1="313.5" x2="463.7" y2="313.5" stroke="#000" stroke-width="1.3" />
<line x1="360.40000000000003" y1="223.5" x2="362.6" y2="223.5" stroke="#000" stroke-width="1.1" />
<text x="359.0" y="226.5" font-size="8.6" text-anchor="end" >2.0</text>
<line x1="360.40000000000003" y1="246.0" x2="362.6" y2="246.0" stroke="#000" stroke-width="1.1" />
<text x="359.0" y="249.0" font-size="8.6" text-anchor="end" >1.5</text>
<line x1="360.40000000000003" y1="268.5" x2="362.6" y2="268.5" stroke="#000" stroke-width="1.1" />
<text x="359.0" y="271.5" font-size="8.6" text-anchor="end" >1.0</text>
<line x1="360.40000000000003" y1="291.0" x2="362.6" y2="291.0" stroke="#000" stroke-width="1.1" />
<text x="359.0" y="294.0" font-size="8.6" text-anchor="end" >0.5</text>
<line x1="360.40000000000003" y1="313.5" x2="362.6" y2="313.5" stroke="#000" stroke-width="1.1" />
<text x="359.0" y="316.5" font-size="8.6" text-anchor="end" >0.0</text>
<line x1="390.5" y1="254.6" x2="390.5" y2="259.6" stroke="#000" stroke-width="1.3" />
<line x1="390.5" y1="263.2" x2="390.5" y2="268.2" stroke="#000" stroke-width="1.3" />
<line x1="380.0" y1="268.3" x2="399.9" y2="268.3" stroke="#000" stroke-width="1.3" />
<rect x="371.6" y="235.8" width="37.4" height="16.6" fill="#fff" stroke="#000" stroke-width="1.2"/>
<rect x="371" y="235.2" width="38.3" height="3.6" fill="#000"/>
<line x1="380" y1="234.6" x2="400" y2="234.6" stroke="#000" stroke-width="1.1" />
<line x1="436.8" y1="286.8" x2="436.8" y2="293" stroke="#000" stroke-width="1.1" />
<line x1="427.3" y1="286.8" x2="446.3" y2="286.8" stroke="#000" stroke-width="1.2" />
<line x1="427.3" y1="303.2" x2="446.3" y2="303.2" stroke="#000" stroke-width="1.2" />
<rect x="418.1" y="293.6" width="36.6" height="8" fill="#fff" stroke="#000" stroke-width="1.2"/>
<rect x="417.5" y="297.8" width="37.8" height="4.2" fill="#000"/>
<circle cx="379.5" cy="221.5" r="1.15" fill="#000"/>
<text x="384.4" y="227.1" font-size="10" text-anchor="start" font-style="italic">P</text>
<text x="394.6" y="227.1" font-size="10" text-anchor="start" >=</text>
<text x="402.9" y="227.1" font-size="10" text-anchor="start" >0.014</text>
<text x="344.2" y="330.1" font-size="10" text-anchor="start" >mAb</text>
<text x="385.5" y="330.3" font-size="9.5" text-anchor="middle" >+</text>
<text x="437.8" y="330.3" font-size="10" text-anchor="middle" >-</text>
<text x="0" y="0" font-size="10.35" text-anchor="middle" transform="translate(324.5,264.4) rotate(-90)">No. of CD11b<tspan font-size="6.5" dy="-3.5">+</tspan><tspan dy="3.5">Gr-1</tspan><tspan font-size="6.5" dy="-3.5">+</tspan><tspan dy="3.5"> cells</tspan></text>
<text x="0" y="0" font-size="10" text-anchor="middle" transform="translate(340.9,263.3) rotate(-90)">(x 10<tspan font-size="6.5" dy="-3.5">5</tspan><tspan dy="3.5">)</tspan></text>
<line x1="362.5" y1="367.7" x2="362.5" y2="458.90000000000003" stroke="#000" stroke-width="1.2" />
<line x1="361.9" y1="458.3" x2="465" y2="458.3" stroke="#000" stroke-width="1.3" />
<line x1="360.3" y1="368.2" x2="362.5" y2="368.2" stroke="#000" stroke-width="1.1" />
<text x="358.9" y="371.2" font-size="8.6" text-anchor="end" >5</text>
<line x1="360.3" y1="386.21999999999997" x2="362.5" y2="386.21999999999997" stroke="#000" stroke-width="1.1" />
<text x="358.9" y="389.22" font-size="8.6" text-anchor="end" >4</text>
<line x1="360.3" y1="404.24" x2="362.5" y2="404.24" stroke="#000" stroke-width="1.1" />
<text x="358.9" y="407.24" font-size="8.6" text-anchor="end" >3</text>
<line x1="360.3" y1="422.26" x2="362.5" y2="422.26" stroke="#000" stroke-width="1.1" />
<text x="358.9" y="425.26" font-size="8.6" text-anchor="end" >2</text>
<line x1="360.3" y1="440.28" x2="362.5" y2="440.28" stroke="#000" stroke-width="1.1" />
<text x="358.9" y="443.28" font-size="8.6" text-anchor="end" >1</text>
<line x1="360.3" y1="458.3" x2="362.5" y2="458.3" stroke="#000" stroke-width="1.1" />
<text x="358.9" y="461.3" font-size="8.6" text-anchor="end" >0</text>
<line x1="389.7" y1="433.5" x2="389.7" y2="438.4" stroke="#000" stroke-width="1.1" />
<line x1="380.5" y1="438.4" x2="399.7" y2="438.4" stroke="#000" stroke-width="1.2" />
<rect x="371.1" y="427.1" width="37.2" height="6.3" fill="#fff" stroke="#000" stroke-width="1.2"/>
<rect x="370.5" y="426.5" width="38.4" height="4" fill="#000"/>
<line x1="436.7" y1="406.4" x2="436.7" y2="418.6" stroke="#000" stroke-width="1.1" />
<line x1="427.2" y1="406.4" x2="446.4" y2="406.4" stroke="#000" stroke-width="1.2" />
<line x1="427.2" y1="418.6" x2="446.4" y2="418.6" stroke="#000" stroke-width="1.2" />
<rect x="418.2" y="409.4" width="37.2" height="6.5" fill="#fff" stroke="#000" stroke-width="1.2"/>
<rect x="417.6" y="410.8" width="38.4" height="3" fill="#000"/>
<circle cx="429.9" cy="388.1" r="1.15" fill="#000"/>
<text x="435.1" y="393.3" font-size="10" text-anchor="start" font-style="italic">P</text>
<text x="445.3" y="393.3" font-size="10" text-anchor="start" >=</text>
<text x="453.6" y="393.3" font-size="10" text-anchor="start" >0.023</text>
<text x="344.0" y="475.6" font-size="10" text-anchor="start" >mAb</text>
<text x="385.6" y="475.8" font-size="9.5" text-anchor="middle" >+</text>
<text x="438.2" y="475.8" font-size="10" text-anchor="middle" >-</text>
<text x="0" y="0" font-size="10.3" text-anchor="middle" transform="translate(324.3,415.4) rotate(-90)">No. of CD8<tspan font-size="6.5" dy="-3.5">+</tspan><tspan dy="3.5"> cells</tspan></text>
<text x="0" y="0" font-size="10" text-anchor="middle" transform="translate(339,415) rotate(-90)">(x 10<tspan font-size="6.5" dy="-3.5">5</tspan><tspan dy="3.5">)</tspan></text>
<rect x="0" y="0" width="520" height="1" fill="#505050"/>
<rect x="0" y="1" width="520" height="1" fill="#a8a8a8"/>
<rect x="0" y="0" width="1" height="504" fill="#505050"/>
<rect x="1" y="1" width="1" height="503" fill="#989898"/>
<rect x="518" y="0" width="1" height="504" fill="#888"/>
<rect x="519" y="0" width="1" height="504" fill="#808080"/>
<rect x="0" y="502" width="520" height="1" fill="#a0a0a0"/>
<rect x="0" y="503" width="520" height="1" fill="#6c6c6c"/>
</svg>
</body></html>
